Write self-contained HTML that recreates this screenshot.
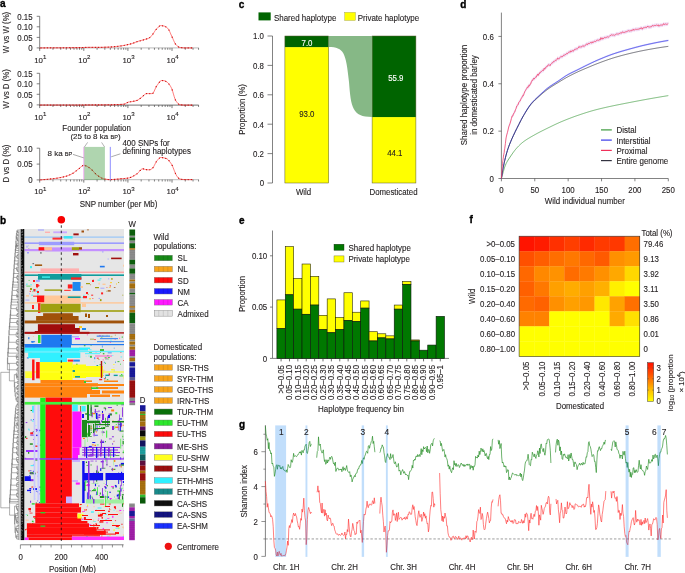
<!DOCTYPE html>
<html><head><meta charset="utf-8"><style>
html,body{margin:0;padding:0;background:#fff;width:685px;height:573px;overflow:hidden;}
svg{display:block;font-family:"Liberation Sans", sans-serif;will-change:transform;}
</style></head><body>
<svg width="685" height="573" viewBox="0 0 685 573">
<rect width="685" height="573" fill="#fff"/>
<text x="0" y="6.95" font-size="10" text-anchor="start" font-weight="bold" fill="#000" stroke="#000" stroke-width="0.35">a</text>
<line x1="39.7" y1="16.3" x2="39.7" y2="48.5" stroke="#4d4d4d" stroke-width="0.7"/>
<line x1="36.7" y1="16.3" x2="39.7" y2="16.3" stroke="#4d4d4d" stroke-width="0.7"/>
<text x="0" y="0" font-size="8.37" text-anchor="end" fill="#231f20" transform="translate(32.6 19.6) scale(0.94 1)" stroke="#231f20" stroke-width="0.12">0.15</text>
<line x1="36.7" y1="26.8" x2="39.7" y2="26.8" stroke="#4d4d4d" stroke-width="0.7"/>
<text x="0" y="0" font-size="8.37" text-anchor="end" fill="#231f20" transform="translate(32.6 30.1) scale(0.94 1)" stroke="#231f20" stroke-width="0.12">0.10</text>
<line x1="36.7" y1="37.4" x2="39.7" y2="37.4" stroke="#4d4d4d" stroke-width="0.7"/>
<text x="0" y="0" font-size="8.37" text-anchor="end" fill="#231f20" transform="translate(32.6 40.7) scale(0.94 1)" stroke="#231f20" stroke-width="0.12">0.05</text>
<line x1="36.7" y1="47.9" x2="39.7" y2="47.9" stroke="#4d4d4d" stroke-width="0.7"/>
<text x="0" y="0" font-size="8.37" text-anchor="end" fill="#231f20" transform="translate(32.6 51.2) scale(0.94 1)" stroke="#231f20" stroke-width="0.12">0</text>
<line x1="39.7" y1="47.9" x2="198.7" y2="47.9" stroke="#c8c8c8" stroke-width="1.3"/>
<line x1="39.7" y1="47.9" x2="39.7" y2="50.9" stroke="#333" stroke-width="0.65"/>
<line x1="52.98" y1="47.9" x2="52.98" y2="49.8" stroke="#333" stroke-width="0.6"/>
<line x1="60.74" y1="47.9" x2="60.74" y2="49.8" stroke="#333" stroke-width="0.6"/>
<line x1="66.25" y1="47.9" x2="66.25" y2="49.8" stroke="#333" stroke-width="0.6"/>
<line x1="70.52" y1="47.9" x2="70.52" y2="49.8" stroke="#333" stroke-width="0.6"/>
<line x1="74.02" y1="47.9" x2="74.02" y2="49.8" stroke="#333" stroke-width="0.6"/>
<line x1="76.97" y1="47.9" x2="76.97" y2="49.8" stroke="#333" stroke-width="0.6"/>
<line x1="79.53" y1="47.9" x2="79.53" y2="49.8" stroke="#333" stroke-width="0.6"/>
<line x1="81.78" y1="47.9" x2="81.78" y2="49.8" stroke="#333" stroke-width="0.6"/>
<line x1="83.8" y1="47.9" x2="83.8" y2="50.9" stroke="#333" stroke-width="0.65"/>
<line x1="97.08" y1="47.9" x2="97.08" y2="49.8" stroke="#333" stroke-width="0.6"/>
<line x1="104.84" y1="47.9" x2="104.84" y2="49.8" stroke="#333" stroke-width="0.6"/>
<line x1="110.35" y1="47.9" x2="110.35" y2="49.8" stroke="#333" stroke-width="0.6"/>
<line x1="114.62" y1="47.9" x2="114.62" y2="49.8" stroke="#333" stroke-width="0.6"/>
<line x1="118.12" y1="47.9" x2="118.12" y2="49.8" stroke="#333" stroke-width="0.6"/>
<line x1="121.07" y1="47.9" x2="121.07" y2="49.8" stroke="#333" stroke-width="0.6"/>
<line x1="123.63" y1="47.9" x2="123.63" y2="49.8" stroke="#333" stroke-width="0.6"/>
<line x1="125.88" y1="47.9" x2="125.88" y2="49.8" stroke="#333" stroke-width="0.6"/>
<line x1="127.9" y1="47.9" x2="127.9" y2="50.9" stroke="#333" stroke-width="0.65"/>
<line x1="141.18" y1="47.9" x2="141.18" y2="49.8" stroke="#333" stroke-width="0.6"/>
<line x1="148.94" y1="47.9" x2="148.94" y2="49.8" stroke="#333" stroke-width="0.6"/>
<line x1="154.45" y1="47.9" x2="154.45" y2="49.8" stroke="#333" stroke-width="0.6"/>
<line x1="158.72" y1="47.9" x2="158.72" y2="49.8" stroke="#333" stroke-width="0.6"/>
<line x1="162.22" y1="47.9" x2="162.22" y2="49.8" stroke="#333" stroke-width="0.6"/>
<line x1="165.17" y1="47.9" x2="165.17" y2="49.8" stroke="#333" stroke-width="0.6"/>
<line x1="167.73" y1="47.9" x2="167.73" y2="49.8" stroke="#333" stroke-width="0.6"/>
<line x1="169.98" y1="47.9" x2="169.98" y2="49.8" stroke="#333" stroke-width="0.6"/>
<line x1="172" y1="47.9" x2="172" y2="50.9" stroke="#333" stroke-width="0.65"/>
<line x1="185.28" y1="47.9" x2="185.28" y2="49.8" stroke="#333" stroke-width="0.6"/>
<line x1="193.04" y1="47.9" x2="193.04" y2="49.8" stroke="#333" stroke-width="0.6"/>
<line x1="198.55" y1="47.9" x2="198.55" y2="49.8" stroke="#333" stroke-width="0.6"/>
<text x="40.3" y="62.6" font-size="7.9" text-anchor="middle" fill="#231f20" stroke="#231f20" stroke-width="0.12">10<tspan font-size="6.1" dy="-3.3">1</tspan></text>
<text x="84.4" y="62.6" font-size="7.9" text-anchor="middle" fill="#231f20" stroke="#231f20" stroke-width="0.12">10<tspan font-size="6.1" dy="-3.3">2</tspan></text>
<text x="128.5" y="62.6" font-size="7.9" text-anchor="middle" fill="#231f20" stroke="#231f20" stroke-width="0.12">10<tspan font-size="6.1" dy="-3.3">3</tspan></text>
<text x="172.6" y="62.6" font-size="7.9" text-anchor="middle" fill="#231f20" stroke="#231f20" stroke-width="0.12">10<tspan font-size="6.1" dy="-3.3">4</tspan></text>
<text x="0" y="0" font-size="8.37" text-anchor="middle" fill="#231f20" transform="translate(8.8 32.5) rotate(-90) scale(0.94 1)" stroke="#231f20" stroke-width="0.12">W vs W (%)</text>
<path d="M39.7 47.9 L40.2 47.9 L40.7 47.9 L41.2 47.9 L41.7 47.89 L42.2 47.89 L42.7 47.89 L43.2 47.89 L43.7 47.89 L44.2 47.89 L44.7 47.88 L45.2 47.88 L45.7 47.88 L46.2 47.88 L46.7 47.88 L47.2 47.87 L47.7 47.87 L48.2 47.87 L48.7 47.87 L49.2 47.86 L49.7 47.86 L50.2 47.86 L50.7 47.86 L51.2 47.85 L51.7 47.85 L52.2 47.85 L52.7 47.85 L53.2 47.84 L53.7 47.84 L54.2 47.84 L54.7 47.83 L55.2 47.83 L55.7 47.83 L56.2 47.82 L56.7 47.82 L57.2 47.82 L57.7 47.81 L58.2 47.81 L58.7 47.81 L59.2 47.81 L59.7 47.8 L60.2 47.8 L60.7 47.8 L61.2 47.79 L61.7 47.79 L62.2 47.79 L62.7 47.78 L63.2 47.78 L63.7 47.77 L64.2 47.77 L64.7 47.77 L65.2 47.76 L65.7 47.76 L66.2 47.76 L66.7 47.75 L67.2 47.75 L67.7 47.74 L68.2 47.74 L68.7 47.74 L69.2 47.73 L69.7 47.73 L70.2 47.72 L70.7 47.72 L71.2 47.71 L71.7 47.71 L72.2 47.7 L72.7 47.7 L73.2 47.69 L73.7 47.69 L74.2 47.68 L74.7 47.67 L75.2 47.67 L75.7 47.66 L76.2 47.65 L76.7 47.65 L77.2 47.64 L77.7 47.63 L78.2 47.63 L78.7 47.62 L79.2 47.61 L79.7 47.6 L80.2 47.6 L80.7 47.59 L81.2 47.57 L81.7 47.56 L82.2 47.54 L82.7 47.52 L83.2 47.5 L83.7 47.48 L84.2 47.46 L84.7 47.44 L85.2 47.42 L85.7 47.4 L86.2 47.38 L86.7 47.36 L87.2 47.35 L87.7 47.33 L88.2 47.32 L88.7 47.31 L89.2 47.3 L89.7 47.3 L90.2 47.3 L90.7 47.3 L91.2 47.3 L91.7 47.3 L92.2 47.3 L92.7 47.3 L93.2 47.3 L93.7 47.3 L94.2 47.3 L94.7 47.3 L95.2 47.3 L95.7 47.3 L96.2 47.3 L96.7 47.3 L97.2 47.3 L97.7 47.3 L98.2 47.3 L98.7 47.3 L99.2 47.3 L99.7 47.3 L100.2 47.3 L100.7 47.3 L101.2 47.29 L101.7 47.29 L102.2 47.28 L102.7 47.27 L103.2 47.26 L103.7 47.25 L104.2 47.23 L104.7 47.22 L105.2 47.2 L105.7 47.18 L106.2 47.16 L106.7 47.14 L107.2 47.12 L107.7 47.1 L108.2 47.08 L108.7 47.06 L109.2 47.04 L109.7 47.01 L110.2 46.99 L110.7 46.96 L111.2 46.94 L111.7 46.9 L112.2 46.87 L112.7 46.83 L113.2 46.79 L113.7 46.74 L114.2 46.7 L114.7 46.65 L115.2 46.6 L115.7 46.54 L116.2 46.49 L116.7 46.43 L117.2 46.37 L117.7 46.31 L118.2 46.25 L118.7 46.19 L119.2 46.13 L119.7 46.06 L120.2 45.99 L120.7 45.93 L121.2 45.86 L121.7 45.79 L122.2 45.71 L122.7 45.63 L123.2 45.55 L123.7 45.46 L124.2 45.37 L124.7 45.28 L125.2 45.18 L125.7 45.08 L126.2 44.98 L126.7 44.87 L127.2 44.76 L127.7 44.65 L128.2 44.54 L128.7 44.42 L129.2 44.3 L129.7 44.18 L130.2 44.05 L130.7 43.92 L131.2 43.78 L131.7 43.63 L132.2 43.47 L132.7 43.3 L133.2 43.12 L133.7 42.94 L134.2 42.75 L134.7 42.57 L135.2 42.38 L135.7 42.19 L136.2 42.01 L136.7 41.83 L137.2 41.66 L137.7 41.5 L138.2 41.34 L138.7 41.19 L139.2 41.04 L139.7 40.9 L140.2 40.76 L140.7 40.62 L141.2 40.49 L141.7 40.35 L142.2 40.21 L142.7 40.08 L143.2 39.94 L143.7 39.79 L144.2 39.65 L144.7 39.49 L145.2 39.34 L145.7 39.19 L146.2 39.05 L146.7 38.9 L147.2 38.75 L147.7 38.59 L148.2 38.41 L148.7 38.2 L149.2 37.95 L149.7 37.64 L150.2 37.21 L150.7 36.7 L151.2 36.13 L151.7 35.55 L152.2 34.97 L152.7 34.33 L153.2 33.63 L153.7 32.89 L154.2 32.13 L154.7 31.37 L155.2 30.62 L155.7 29.92 L156.2 29.27 L156.7 28.7 L157.2 28.2 L157.7 27.69 L158.2 27.17 L158.7 26.68 L159.2 26.25 L159.7 25.91 L160.2 25.68 L160.7 25.6 L161.2 25.61 L161.7 25.65 L162.2 25.71 L162.7 25.79 L163.2 25.89 L163.7 26 L164.2 26.12 L164.7 26.26 L165.2 26.45 L165.7 26.71 L166.2 27.04 L166.7 27.41 L167.2 27.84 L167.7 28.3 L168.2 28.84 L168.7 29.58 L169.2 30.5 L169.7 31.54 L170.2 32.68 L170.7 33.85 L171.2 35.03 L171.7 36.16 L172.2 37.2 L172.7 38.28 L173.2 39.42 L173.7 40.57 L174.2 41.68 L174.7 42.72 L175.2 43.63 L175.7 44.37 L176.2 44.92 L176.7 45.43 L177.2 45.91 L177.7 46.35 L178.2 46.73 L178.7 47.03 L179.2 47.26 L179.7 47.4 L180.2 47.48 L180.7 47.56 L181.2 47.63 L181.7 47.7 L182.2 47.75 L182.7 47.8 L183.2 47.84 L183.7 47.87 L184.2 47.89 L184.7 47.9 L185.2 47.9 L185.7 47.9 L186.2 47.9 L186.7 47.9 L187.2 47.9 L187.7 47.9 L188.2 47.9 L188.7 47.9 L189.2 47.9 L189.7 47.9 L190.2 47.9 L190.7 47.9 L191.2 47.9 L191.7 47.9 L192.2 47.9 L192.7 47.9" fill="none" stroke="#ff2020" stroke-width="0.6" stroke-linejoin="round"/>
<g fill="#c80000"><circle cx="41" cy="47.9" r="0.62"/><circle cx="44.2" cy="47.89" r="0.62"/><circle cx="47.4" cy="47.87" r="0.62"/><circle cx="50.6" cy="47.86" r="0.62"/><circle cx="53.8" cy="47.84" r="0.62"/><circle cx="57" cy="47.82" r="0.62"/><circle cx="60.2" cy="47.8" r="0.62"/><circle cx="63.4" cy="47.78" r="0.62"/><circle cx="66.6" cy="47.75" r="0.62"/><circle cx="69.8" cy="47.73" r="0.62"/><circle cx="73" cy="47.69" r="0.62"/><circle cx="76.2" cy="47.65" r="0.62"/><circle cx="79.4" cy="47.61" r="0.62"/><circle cx="82.6" cy="47.53" r="0.62"/><circle cx="85.8" cy="47.4" r="0.62"/><circle cx="89" cy="47.31" r="0.62"/><circle cx="92.2" cy="47.3" r="0.62"/><circle cx="95.4" cy="47.3" r="0.62"/><circle cx="98.6" cy="47.3" r="0.62"/><circle cx="101.8" cy="47.29" r="0.62"/><circle cx="105" cy="47.21" r="0.62"/><circle cx="108.2" cy="47.08" r="0.62"/><circle cx="111.4" cy="46.92" r="0.62"/><circle cx="114.6" cy="46.66" r="0.62"/><circle cx="117.8" cy="46.3" r="0.62"/><circle cx="121" cy="45.89" r="0.62"/><circle cx="124.2" cy="45.37" r="0.62"/><circle cx="127.4" cy="44.72" r="0.62"/><circle cx="130.6" cy="43.95" r="0.62"/><circle cx="133.8" cy="42.9" r="0.62"/><circle cx="137" cy="41.73" r="0.62"/><circle cx="140.2" cy="40.76" r="0.62"/><circle cx="143.4" cy="39.88" r="0.62"/><circle cx="146.6" cy="38.93" r="0.62"/><circle cx="149.8" cy="37.56" r="0.62"/><circle cx="153" cy="33.91" r="0.62"/><circle cx="156.2" cy="29.27" r="0.62"/><circle cx="159.4" cy="26.1" r="0.62"/><circle cx="162.6" cy="25.78" r="0.62"/><circle cx="165.8" cy="26.77" r="0.62"/><circle cx="169" cy="30.11" r="0.62"/><circle cx="172.2" cy="37.2" r="0.62"/><circle cx="175.4" cy="43.95" r="0.62"/><circle cx="178.6" cy="46.98" r="0.62"/><circle cx="181.8" cy="47.71" r="0.62"/><circle cx="185" cy="47.9" r="0.62"/><circle cx="188.2" cy="47.9" r="0.62"/><circle cx="191.4" cy="47.9" r="0.62"/></g>
<line x1="39.7" y1="73.3" x2="39.7" y2="105.7" stroke="#4d4d4d" stroke-width="0.7"/>
<line x1="36.7" y1="73.3" x2="39.7" y2="73.3" stroke="#4d4d4d" stroke-width="0.7"/>
<text x="0" y="0" font-size="8.37" text-anchor="end" fill="#231f20" transform="translate(32.6 76.6) scale(0.94 1)" stroke="#231f20" stroke-width="0.12">0.15</text>
<line x1="36.7" y1="83.8" x2="39.7" y2="83.8" stroke="#4d4d4d" stroke-width="0.7"/>
<text x="0" y="0" font-size="8.37" text-anchor="end" fill="#231f20" transform="translate(32.6 87.1) scale(0.94 1)" stroke="#231f20" stroke-width="0.12">0.10</text>
<line x1="36.7" y1="94.3" x2="39.7" y2="94.3" stroke="#4d4d4d" stroke-width="0.7"/>
<text x="0" y="0" font-size="8.37" text-anchor="end" fill="#231f20" transform="translate(32.6 97.6) scale(0.94 1)" stroke="#231f20" stroke-width="0.12">0.05</text>
<line x1="36.7" y1="104.9" x2="39.7" y2="104.9" stroke="#4d4d4d" stroke-width="0.7"/>
<text x="0" y="0" font-size="8.37" text-anchor="end" fill="#231f20" transform="translate(32.6 108.2) scale(0.94 1)" stroke="#231f20" stroke-width="0.12">0</text>
<line x1="39.7" y1="105.1" x2="198.7" y2="105.1" stroke="#333" stroke-width="0.7"/>
<line x1="39.7" y1="105.1" x2="39.7" y2="108.1" stroke="#333" stroke-width="0.65"/>
<line x1="52.98" y1="105.1" x2="52.98" y2="107" stroke="#333" stroke-width="0.6"/>
<line x1="60.74" y1="105.1" x2="60.74" y2="107" stroke="#333" stroke-width="0.6"/>
<line x1="66.25" y1="105.1" x2="66.25" y2="107" stroke="#333" stroke-width="0.6"/>
<line x1="70.52" y1="105.1" x2="70.52" y2="107" stroke="#333" stroke-width="0.6"/>
<line x1="74.02" y1="105.1" x2="74.02" y2="107" stroke="#333" stroke-width="0.6"/>
<line x1="76.97" y1="105.1" x2="76.97" y2="107" stroke="#333" stroke-width="0.6"/>
<line x1="79.53" y1="105.1" x2="79.53" y2="107" stroke="#333" stroke-width="0.6"/>
<line x1="81.78" y1="105.1" x2="81.78" y2="107" stroke="#333" stroke-width="0.6"/>
<line x1="83.8" y1="105.1" x2="83.8" y2="108.1" stroke="#333" stroke-width="0.65"/>
<line x1="97.08" y1="105.1" x2="97.08" y2="107" stroke="#333" stroke-width="0.6"/>
<line x1="104.84" y1="105.1" x2="104.84" y2="107" stroke="#333" stroke-width="0.6"/>
<line x1="110.35" y1="105.1" x2="110.35" y2="107" stroke="#333" stroke-width="0.6"/>
<line x1="114.62" y1="105.1" x2="114.62" y2="107" stroke="#333" stroke-width="0.6"/>
<line x1="118.12" y1="105.1" x2="118.12" y2="107" stroke="#333" stroke-width="0.6"/>
<line x1="121.07" y1="105.1" x2="121.07" y2="107" stroke="#333" stroke-width="0.6"/>
<line x1="123.63" y1="105.1" x2="123.63" y2="107" stroke="#333" stroke-width="0.6"/>
<line x1="125.88" y1="105.1" x2="125.88" y2="107" stroke="#333" stroke-width="0.6"/>
<line x1="127.9" y1="105.1" x2="127.9" y2="108.1" stroke="#333" stroke-width="0.65"/>
<line x1="141.18" y1="105.1" x2="141.18" y2="107" stroke="#333" stroke-width="0.6"/>
<line x1="148.94" y1="105.1" x2="148.94" y2="107" stroke="#333" stroke-width="0.6"/>
<line x1="154.45" y1="105.1" x2="154.45" y2="107" stroke="#333" stroke-width="0.6"/>
<line x1="158.72" y1="105.1" x2="158.72" y2="107" stroke="#333" stroke-width="0.6"/>
<line x1="162.22" y1="105.1" x2="162.22" y2="107" stroke="#333" stroke-width="0.6"/>
<line x1="165.17" y1="105.1" x2="165.17" y2="107" stroke="#333" stroke-width="0.6"/>
<line x1="167.73" y1="105.1" x2="167.73" y2="107" stroke="#333" stroke-width="0.6"/>
<line x1="169.98" y1="105.1" x2="169.98" y2="107" stroke="#333" stroke-width="0.6"/>
<line x1="172" y1="105.1" x2="172" y2="108.1" stroke="#333" stroke-width="0.65"/>
<line x1="185.28" y1="105.1" x2="185.28" y2="107" stroke="#333" stroke-width="0.6"/>
<line x1="193.04" y1="105.1" x2="193.04" y2="107" stroke="#333" stroke-width="0.6"/>
<line x1="198.55" y1="105.1" x2="198.55" y2="107" stroke="#333" stroke-width="0.6"/>
<text x="40.3" y="119.5" font-size="7.9" text-anchor="middle" fill="#231f20" stroke="#231f20" stroke-width="0.12">10<tspan font-size="6.1" dy="-3.3">1</tspan></text>
<text x="84.4" y="119.5" font-size="7.9" text-anchor="middle" fill="#231f20" stroke="#231f20" stroke-width="0.12">10<tspan font-size="6.1" dy="-3.3">2</tspan></text>
<text x="128.5" y="119.5" font-size="7.9" text-anchor="middle" fill="#231f20" stroke="#231f20" stroke-width="0.12">10<tspan font-size="6.1" dy="-3.3">3</tspan></text>
<text x="172.6" y="119.5" font-size="7.9" text-anchor="middle" fill="#231f20" stroke="#231f20" stroke-width="0.12">10<tspan font-size="6.1" dy="-3.3">4</tspan></text>
<text x="0" y="0" font-size="8.37" text-anchor="middle" fill="#231f20" transform="translate(8.8 89) rotate(-90) scale(0.94 1)" stroke="#231f20" stroke-width="0.12">W vs D (%)</text>
<path d="M39.7 105 L40.2 105 L40.7 105 L41.2 105 L41.7 105 L42.2 105 L42.7 105 L43.2 105 L43.7 105 L44.2 105 L44.7 105 L45.2 105 L45.7 105 L46.2 105 L46.7 105 L47.2 105 L47.7 105 L48.2 105 L48.7 105 L49.2 105 L49.7 105 L50.2 105 L50.7 105 L51.2 105 L51.7 105 L52.2 105 L52.7 105 L53.2 105 L53.7 105 L54.2 105 L54.7 105 L55.2 105 L55.7 105 L56.2 105 L56.7 105 L57.2 105 L57.7 105 L58.2 105 L58.7 105 L59.2 105 L59.7 105 L60.2 105 L60.7 105 L61.2 105 L61.7 105 L62.2 105 L62.7 105 L63.2 105 L63.7 105 L64.2 105 L64.7 105 L65.2 105 L65.7 105 L66.2 105 L66.7 105 L67.2 105 L67.7 105 L68.2 105 L68.7 105 L69.2 105 L69.7 105 L70.2 105 L70.7 105 L71.2 105 L71.7 105 L72.2 105 L72.7 105 L73.2 105 L73.7 105 L74.2 105 L74.7 105 L75.2 105 L75.7 105 L76.2 105 L76.7 105 L77.2 105 L77.7 105 L78.2 105 L78.7 105 L79.2 105 L79.7 105 L80.2 105 L80.7 105 L81.2 105 L81.7 105 L82.2 105 L82.7 105 L83.2 105 L83.7 105 L84.2 105 L84.7 104.99 L85.2 104.99 L85.7 104.99 L86.2 104.99 L86.7 104.99 L87.2 104.99 L87.7 104.99 L88.2 104.98 L88.7 104.98 L89.2 104.98 L89.7 104.98 L90.2 104.98 L90.7 104.97 L91.2 104.97 L91.7 104.97 L92.2 104.97 L92.7 104.96 L93.2 104.96 L93.7 104.96 L94.2 104.95 L94.7 104.95 L95.2 104.95 L95.7 104.94 L96.2 104.94 L96.7 104.94 L97.2 104.93 L97.7 104.93 L98.2 104.92 L98.7 104.92 L99.2 104.92 L99.7 104.91 L100.2 104.91 L100.7 104.9 L101.2 104.9 L101.7 104.89 L102.2 104.89 L102.7 104.88 L103.2 104.88 L103.7 104.87 L104.2 104.87 L104.7 104.86 L105.2 104.86 L105.7 104.85 L106.2 104.85 L106.7 104.84 L107.2 104.83 L107.7 104.83 L108.2 104.82 L108.7 104.82 L109.2 104.81 L109.7 104.8 L110.2 104.8 L110.7 104.79 L111.2 104.78 L111.7 104.77 L112.2 104.77 L112.7 104.76 L113.2 104.75 L113.7 104.73 L114.2 104.72 L114.7 104.71 L115.2 104.69 L115.7 104.68 L116.2 104.66 L116.7 104.64 L117.2 104.62 L117.7 104.6 L118.2 104.58 L118.7 104.55 L119.2 104.53 L119.7 104.5 L120.2 104.47 L120.7 104.43 L121.2 104.4 L121.7 104.37 L122.2 104.33 L122.7 104.29 L123.2 104.24 L123.7 104.2 L124.2 104.11 L124.7 103.94 L125.2 103.72 L125.7 103.46 L126.2 103.17 L126.7 102.89 L127.2 102.61 L127.7 102.37 L128.2 102.18 L128.7 102.06 L129.2 101.96 L129.7 101.88 L130.2 101.8 L130.7 101.74 L131.2 101.67 L131.7 101.61 L132.2 101.54 L132.7 101.46 L133.2 101.36 L133.7 101.26 L134.2 101.16 L134.7 101.05 L135.2 100.94 L135.7 100.81 L136.2 100.66 L136.7 100.5 L137.2 100.32 L137.7 100.09 L138.2 99.81 L138.7 99.5 L139.2 99.14 L139.7 98.77 L140.2 98.38 L140.7 97.99 L141.2 97.6 L141.7 97.22 L142.2 96.85 L142.7 96.42 L143.2 95.94 L143.7 95.44 L144.2 94.94 L144.7 94.49 L145.2 94.1 L145.7 93.8 L146.2 93.63 L146.7 93.6 L147.2 93.6 L147.7 93.6 L148.2 93.6 L148.7 93.6 L149.2 93.6 L149.7 93.6 L150.2 93.6 L150.7 93.6 L151.2 93.6 L151.7 93.6 L152.2 93.6 L152.7 93.41 L153.2 92.89 L153.7 92.1 L154.2 91.13 L154.7 90.03 L155.2 88.89 L155.7 87.77 L156.2 86.74 L156.7 85.88 L157.2 85.2 L157.7 84.49 L158.2 83.78 L158.7 83.07 L159.2 82.39 L159.7 81.78 L160.2 81.26 L160.7 80.86 L161.2 80.59 L161.7 80.5 L162.2 80.51 L162.7 80.55 L163.2 80.6 L163.7 80.67 L164.2 80.75 L164.7 80.84 L165.2 81.01 L165.7 81.25 L166.2 81.54 L166.7 81.88 L167.2 82.25 L167.7 82.65 L168.2 83.13 L168.7 83.69 L169.2 84.32 L169.7 85.03 L170.2 85.8 L170.7 86.62 L171.2 87.5 L171.7 88.57 L172.2 89.92 L172.7 91.48 L173.2 93.15 L173.7 94.87 L174.2 96.54 L174.7 98.08 L175.2 99.43 L175.7 100.48 L176.2 101.23 L176.7 101.93 L177.2 102.59 L177.7 103.19 L178.2 103.71 L178.7 104.13 L179.2 104.43 L179.7 104.6 L180.2 104.69 L180.7 104.77 L181.2 104.84 L181.7 104.9 L182.2 104.95 L182.7 105 L183.2 105.04 L183.7 105.07 L184.2 105.09 L184.7 105.1 L185.2 105.1 L185.7 105.1 L186.2 105.1 L186.7 105.1 L187.2 105.1 L187.7 105.1 L188.2 105.1 L188.7 105.1 L189.2 105.1 L189.7 105.1 L190.2 105.1 L190.7 105.1 L191.2 105.1 L191.7 105.1 L192.2 105.1 L192.7 105.1" fill="none" stroke="#ff2020" stroke-width="0.6" stroke-linejoin="round"/>
<g fill="#c80000"><circle cx="41" cy="105" r="0.62"/><circle cx="44.2" cy="105" r="0.62"/><circle cx="47.4" cy="105" r="0.62"/><circle cx="50.6" cy="105" r="0.62"/><circle cx="53.8" cy="105" r="0.62"/><circle cx="57" cy="105" r="0.62"/><circle cx="60.2" cy="105" r="0.62"/><circle cx="63.4" cy="105" r="0.62"/><circle cx="66.6" cy="105" r="0.62"/><circle cx="69.8" cy="105" r="0.62"/><circle cx="73" cy="105" r="0.62"/><circle cx="76.2" cy="105" r="0.62"/><circle cx="79.4" cy="105" r="0.62"/><circle cx="82.6" cy="105" r="0.62"/><circle cx="85.8" cy="104.99" r="0.62"/><circle cx="89" cy="104.98" r="0.62"/><circle cx="92.2" cy="104.97" r="0.62"/><circle cx="95.4" cy="104.95" r="0.62"/><circle cx="98.6" cy="104.92" r="0.62"/><circle cx="101.8" cy="104.89" r="0.62"/><circle cx="105" cy="104.86" r="0.62"/><circle cx="108.2" cy="104.82" r="0.62"/><circle cx="111.4" cy="104.78" r="0.62"/><circle cx="114.6" cy="104.71" r="0.62"/><circle cx="117.8" cy="104.59" r="0.62"/><circle cx="121" cy="104.41" r="0.62"/><circle cx="124.2" cy="104.11" r="0.62"/><circle cx="127.4" cy="102.51" r="0.62"/><circle cx="130.6" cy="101.75" r="0.62"/><circle cx="133.8" cy="101.24" r="0.62"/><circle cx="137" cy="100.4" r="0.62"/><circle cx="140.2" cy="98.38" r="0.62"/><circle cx="143.4" cy="95.74" r="0.62"/><circle cx="146.6" cy="93.6" r="0.62"/><circle cx="149.8" cy="93.6" r="0.62"/><circle cx="153" cy="93.13" r="0.62"/><circle cx="156.2" cy="86.74" r="0.62"/><circle cx="159.4" cy="82.14" r="0.62"/><circle cx="162.6" cy="80.54" r="0.62"/><circle cx="165.8" cy="81.3" r="0.62"/><circle cx="169" cy="84.06" r="0.62"/><circle cx="172.2" cy="89.92" r="0.62"/><circle cx="175.4" cy="99.89" r="0.62"/><circle cx="178.6" cy="104.06" r="0.62"/><circle cx="181.8" cy="104.91" r="0.62"/><circle cx="185" cy="105.1" r="0.62"/><circle cx="188.2" cy="105.1" r="0.62"/><circle cx="191.4" cy="105.1" r="0.62"/></g>
<line x1="39.7" y1="148.2" x2="39.7" y2="180.2" stroke="#4d4d4d" stroke-width="0.7"/>
<line x1="36.7" y1="148.2" x2="39.7" y2="148.2" stroke="#4d4d4d" stroke-width="0.7"/>
<text x="0" y="0" font-size="8.37" text-anchor="end" fill="#231f20" transform="translate(32.6 151.5) scale(0.94 1)" stroke="#231f20" stroke-width="0.12">0.10</text>
<line x1="36.7" y1="164.1" x2="39.7" y2="164.1" stroke="#4d4d4d" stroke-width="0.7"/>
<text x="0" y="0" font-size="8.37" text-anchor="end" fill="#231f20" transform="translate(32.6 167.4) scale(0.94 1)" stroke="#231f20" stroke-width="0.12">0.05</text>
<line x1="36.7" y1="179.9" x2="39.7" y2="179.9" stroke="#4d4d4d" stroke-width="0.7"/>
<text x="0" y="0" font-size="8.37" text-anchor="end" fill="#231f20" transform="translate(32.6 183.2) scale(0.94 1)" stroke="#231f20" stroke-width="0.12">0</text>
<line x1="39.7" y1="179.6" x2="198.7" y2="179.6" stroke="#c8c8c8" stroke-width="1.3"/>
<line x1="39.7" y1="179.6" x2="39.7" y2="182.6" stroke="#333" stroke-width="0.65"/>
<line x1="52.98" y1="179.6" x2="52.98" y2="181.5" stroke="#333" stroke-width="0.6"/>
<line x1="60.74" y1="179.6" x2="60.74" y2="181.5" stroke="#333" stroke-width="0.6"/>
<line x1="66.25" y1="179.6" x2="66.25" y2="181.5" stroke="#333" stroke-width="0.6"/>
<line x1="70.52" y1="179.6" x2="70.52" y2="181.5" stroke="#333" stroke-width="0.6"/>
<line x1="74.02" y1="179.6" x2="74.02" y2="181.5" stroke="#333" stroke-width="0.6"/>
<line x1="76.97" y1="179.6" x2="76.97" y2="181.5" stroke="#333" stroke-width="0.6"/>
<line x1="79.53" y1="179.6" x2="79.53" y2="181.5" stroke="#333" stroke-width="0.6"/>
<line x1="81.78" y1="179.6" x2="81.78" y2="181.5" stroke="#333" stroke-width="0.6"/>
<line x1="83.8" y1="179.6" x2="83.8" y2="182.6" stroke="#333" stroke-width="0.65"/>
<line x1="97.08" y1="179.6" x2="97.08" y2="181.5" stroke="#333" stroke-width="0.6"/>
<line x1="104.84" y1="179.6" x2="104.84" y2="181.5" stroke="#333" stroke-width="0.6"/>
<line x1="110.35" y1="179.6" x2="110.35" y2="181.5" stroke="#333" stroke-width="0.6"/>
<line x1="114.62" y1="179.6" x2="114.62" y2="181.5" stroke="#333" stroke-width="0.6"/>
<line x1="118.12" y1="179.6" x2="118.12" y2="181.5" stroke="#333" stroke-width="0.6"/>
<line x1="121.07" y1="179.6" x2="121.07" y2="181.5" stroke="#333" stroke-width="0.6"/>
<line x1="123.63" y1="179.6" x2="123.63" y2="181.5" stroke="#333" stroke-width="0.6"/>
<line x1="125.88" y1="179.6" x2="125.88" y2="181.5" stroke="#333" stroke-width="0.6"/>
<line x1="127.9" y1="179.6" x2="127.9" y2="182.6" stroke="#333" stroke-width="0.65"/>
<line x1="141.18" y1="179.6" x2="141.18" y2="181.5" stroke="#333" stroke-width="0.6"/>
<line x1="148.94" y1="179.6" x2="148.94" y2="181.5" stroke="#333" stroke-width="0.6"/>
<line x1="154.45" y1="179.6" x2="154.45" y2="181.5" stroke="#333" stroke-width="0.6"/>
<line x1="158.72" y1="179.6" x2="158.72" y2="181.5" stroke="#333" stroke-width="0.6"/>
<line x1="162.22" y1="179.6" x2="162.22" y2="181.5" stroke="#333" stroke-width="0.6"/>
<line x1="165.17" y1="179.6" x2="165.17" y2="181.5" stroke="#333" stroke-width="0.6"/>
<line x1="167.73" y1="179.6" x2="167.73" y2="181.5" stroke="#333" stroke-width="0.6"/>
<line x1="169.98" y1="179.6" x2="169.98" y2="181.5" stroke="#333" stroke-width="0.6"/>
<line x1="172" y1="179.6" x2="172" y2="182.6" stroke="#333" stroke-width="0.65"/>
<line x1="185.28" y1="179.6" x2="185.28" y2="181.5" stroke="#333" stroke-width="0.6"/>
<line x1="193.04" y1="179.6" x2="193.04" y2="181.5" stroke="#333" stroke-width="0.6"/>
<line x1="198.55" y1="179.6" x2="198.55" y2="181.5" stroke="#333" stroke-width="0.6"/>
<text x="40.3" y="194.4" font-size="7.9" text-anchor="middle" fill="#231f20" stroke="#231f20" stroke-width="0.12">10<tspan font-size="6.1" dy="-3.3">1</tspan></text>
<text x="84.4" y="194.4" font-size="7.9" text-anchor="middle" fill="#231f20" stroke="#231f20" stroke-width="0.12">10<tspan font-size="6.1" dy="-3.3">2</tspan></text>
<text x="128.5" y="194.4" font-size="7.9" text-anchor="middle" fill="#231f20" stroke="#231f20" stroke-width="0.12">10<tspan font-size="6.1" dy="-3.3">3</tspan></text>
<text x="172.6" y="194.4" font-size="7.9" text-anchor="middle" fill="#231f20" stroke="#231f20" stroke-width="0.12">10<tspan font-size="6.1" dy="-3.3">4</tspan></text>
<text x="0" y="0" font-size="8.37" text-anchor="middle" fill="#231f20" transform="translate(8.6 163.5) rotate(-90) scale(0.94 1)" stroke="#231f20" stroke-width="0.12">D vs D (%)</text>
<path d="M39.7 179.9 L40.2 179.86 L40.7 179.83 L41.2 179.79 L41.7 179.75 L42.2 179.71 L42.7 179.67 L43.2 179.63 L43.7 179.58 L44.2 179.54 L44.7 179.5 L45.2 179.45 L45.7 179.41 L46.2 179.36 L46.7 179.32 L47.2 179.27 L47.7 179.22 L48.2 179.18 L48.7 179.13 L49.2 179.08 L49.7 179.03 L50.2 178.98 L50.7 178.93 L51.2 178.88 L51.7 178.83 L52.2 178.78 L52.7 178.73 L53.2 178.67 L53.7 178.62 L54.2 178.56 L54.7 178.49 L55.2 178.43 L55.7 178.36 L56.2 178.29 L56.7 178.21 L57.2 178.13 L57.7 178.05 L58.2 177.97 L58.7 177.88 L59.2 177.79 L59.7 177.7 L60.2 177.6 L60.7 177.5 L61.2 177.4 L61.7 177.29 L62.2 177.18 L62.7 177.07 L63.2 176.95 L63.7 176.83 L64.2 176.71 L64.7 176.58 L65.2 176.45 L65.7 176.31 L66.2 176.16 L66.7 176 L67.2 175.83 L67.7 175.66 L68.2 175.47 L68.7 175.28 L69.2 175.08 L69.7 174.87 L70.2 174.66 L70.7 174.43 L71.2 174.2 L71.7 173.95 L72.2 173.7 L72.7 173.43 L73.2 173.12 L73.7 172.78 L74.2 172.42 L74.7 172.04 L75.2 171.65 L75.7 171.24 L76.2 170.83 L76.7 170.42 L77.2 170.01 L77.7 169.61 L78.2 169.22 L78.7 168.84 L79.2 168.48 L79.7 168.07 L80.2 167.62 L80.7 167.17 L81.2 166.73 L81.7 166.31 L82.2 165.94 L82.7 165.64 L83.2 165.42 L83.7 165.31 L84.2 165.32 L84.7 165.42 L85.2 165.59 L85.7 165.78 L86.2 165.98 L86.7 166.2 L87.2 166.44 L87.7 166.72 L88.2 167.02 L88.7 167.35 L89.2 167.69 L89.7 168.04 L90.2 168.4 L90.7 168.78 L91.2 169.18 L91.7 169.64 L92.2 170.14 L92.7 170.66 L93.2 171.21 L93.7 171.77 L94.2 172.33 L94.7 172.89 L95.2 173.43 L95.7 173.94 L96.2 174.43 L96.7 174.87 L97.2 175.26 L97.7 175.6 L98.2 175.94 L98.7 176.27 L99.2 176.59 L99.7 176.9 L100.2 177.2 L100.7 177.48 L101.2 177.75 L101.7 178 L102.2 178.22 L102.7 178.42 L103.2 178.59 L103.7 178.73 L104.2 178.84 L104.7 178.94 L105.2 179.04 L105.7 179.14 L106.2 179.23 L106.7 179.31 L107.2 179.39 L107.7 179.45 L108.2 179.51 L108.7 179.55 L109.2 179.58 L109.7 179.6 L110.2 179.6 L110.7 179.59 L111.2 179.58 L111.7 179.56 L112.2 179.53 L112.7 179.5 L113.2 179.46 L113.7 179.42 L114.2 179.37 L114.7 179.33 L115.2 179.28 L115.7 179.23 L116.2 179.17 L116.7 179.12 L117.2 179.07 L117.7 179.02 L118.2 178.97 L118.7 178.93 L119.2 178.88 L119.7 178.84 L120.2 178.8 L120.7 178.77 L121.2 178.73 L121.7 178.69 L122.2 178.66 L122.7 178.62 L123.2 178.58 L123.7 178.54 L124.2 178.5 L124.7 178.46 L125.2 178.41 L125.7 178.36 L126.2 178.31 L126.7 178.25 L127.2 178.19 L127.7 178.12 L128.2 178.05 L128.7 177.97 L129.2 177.86 L129.7 177.72 L130.2 177.56 L130.7 177.38 L131.2 177.17 L131.7 176.95 L132.2 176.7 L132.7 176.44 L133.2 176.16 L133.7 175.88 L134.2 175.58 L134.7 175.27 L135.2 174.96 L135.7 174.64 L136.2 174.32 L136.7 173.99 L137.2 173.66 L137.7 173.25 L138.2 172.75 L138.7 172.19 L139.2 171.61 L139.7 171.02 L140.2 170.45 L140.7 169.92 L141.2 169.47 L141.7 169.11 L142.2 168.88 L142.7 168.8 L143.2 168.84 L143.7 168.96 L144.2 169.11 L144.7 169.28 L145.2 169.44 L145.7 169.56 L146.2 169.62 L146.7 169.67 L147.2 169.71 L147.7 169.74 L148.2 169.77 L148.7 169.79 L149.2 169.8 L149.7 169.76 L150.2 169.63 L150.7 169.42 L151.2 169.15 L151.7 168.83 L152.2 168.5 L152.7 168.05 L153.2 167.39 L153.7 166.58 L154.2 165.66 L154.7 164.68 L155.2 163.69 L155.7 162.74 L156.2 161.87 L156.7 161.14 L157.2 160.55 L157.7 159.94 L158.2 159.34 L158.7 158.77 L159.2 158.26 L159.7 157.86 L160.2 157.6 L160.7 157.5 L161.2 157.51 L161.7 157.54 L162.2 157.59 L162.7 157.66 L163.2 157.74 L163.7 157.84 L164.2 157.96 L164.7 158.09 L165.2 158.23 L165.7 158.37 L166.2 158.53 L166.7 158.72 L167.2 159.01 L167.7 159.39 L168.2 159.85 L168.7 160.39 L169.2 160.98 L169.7 161.62 L170.2 162.3 L170.7 162.99 L171.2 163.7 L171.7 164.51 L172.2 165.48 L172.7 166.59 L173.2 167.8 L173.7 169.07 L174.2 170.36 L174.7 171.63 L175.2 172.85 L175.7 173.98 L176.2 174.98 L176.7 175.82 L177.2 176.5 L177.7 177.15 L178.2 177.76 L178.7 178.28 L179.2 178.68 L179.7 178.9 L180.2 179.02 L180.7 179.13 L181.2 179.23 L181.7 179.32 L182.2 179.4 L182.7 179.46 L183.2 179.51 L183.7 179.56 L184.2 179.58 L184.7 179.6 L185.2 179.6 L185.7 179.6 L186.2 179.6 L186.7 179.6 L187.2 179.6 L187.7 179.6 L188.2 179.6 L188.7 179.6 L189.2 179.6 L189.7 179.6 L190.2 179.6 L190.7 179.6 L191.2 179.6 L191.7 179.6 L192.2 179.6 L192.7 179.6" fill="none" stroke="#ff2020" stroke-width="0.6" stroke-linejoin="round"/>
<g fill="#c80000"><circle cx="41" cy="179.8" r="0.62"/><circle cx="44.2" cy="179.54" r="0.62"/><circle cx="47.4" cy="179.25" r="0.62"/><circle cx="50.6" cy="178.94" r="0.62"/><circle cx="53.8" cy="178.6" r="0.62"/><circle cx="57" cy="178.16" r="0.62"/><circle cx="60.2" cy="177.6" r="0.62"/><circle cx="63.4" cy="176.91" r="0.62"/><circle cx="66.6" cy="176.03" r="0.62"/><circle cx="69.8" cy="174.83" r="0.62"/><circle cx="73" cy="173.24" r="0.62"/><circle cx="76.2" cy="170.83" r="0.62"/><circle cx="79.4" cy="168.32" r="0.62"/><circle cx="82.6" cy="165.69" r="0.62"/><circle cx="85.8" cy="165.82" r="0.62"/><circle cx="89" cy="167.55" r="0.62"/><circle cx="92.2" cy="170.14" r="0.62"/><circle cx="95.4" cy="173.64" r="0.62"/><circle cx="98.6" cy="176.2" r="0.62"/><circle cx="101.8" cy="178.04" r="0.62"/><circle cx="105" cy="179.01" r="0.62"/><circle cx="108.2" cy="179.51" r="0.62"/><circle cx="111.4" cy="179.57" r="0.62"/><circle cx="114.6" cy="179.34" r="0.62"/><circle cx="117.8" cy="179.01" r="0.62"/><circle cx="121" cy="178.74" r="0.62"/><circle cx="124.2" cy="178.5" r="0.62"/><circle cx="127.4" cy="178.16" r="0.62"/><circle cx="130.6" cy="177.42" r="0.62"/><circle cx="133.8" cy="175.82" r="0.62"/><circle cx="137" cy="173.8" r="0.62"/><circle cx="140.2" cy="170.45" r="0.62"/><circle cx="143.4" cy="168.88" r="0.62"/><circle cx="146.6" cy="169.66" r="0.62"/><circle cx="149.8" cy="169.75" r="0.62"/><circle cx="153" cy="167.67" r="0.62"/><circle cx="156.2" cy="161.87" r="0.62"/><circle cx="159.4" cy="158.09" r="0.62"/><circle cx="162.6" cy="157.64" r="0.62"/><circle cx="165.8" cy="158.41" r="0.62"/><circle cx="169" cy="160.74" r="0.62"/><circle cx="172.2" cy="165.48" r="0.62"/><circle cx="175.4" cy="173.32" r="0.62"/><circle cx="178.6" cy="178.19" r="0.62"/><circle cx="181.8" cy="179.34" r="0.62"/><circle cx="185" cy="179.6" r="0.62"/><circle cx="188.2" cy="179.6" r="0.62"/><circle cx="191.4" cy="179.6" r="0.62"/></g>
<rect x="84" y="146.9" width="20.9" height="33" fill="#228b22" fill-opacity="0.36"/>
<line x1="83.8" y1="146.9" x2="83.8" y2="179.9" stroke="#eea0ee" stroke-width="0.9"/>
<line x1="110.3" y1="146.9" x2="110.3" y2="179.9" stroke="#8080ff" stroke-width="0.9"/>
<text x="0" y="0" font-size="8.48" text-anchor="middle" fill="#231f20" transform="translate(96.6 130.6) scale(0.94 1)" stroke="#231f20" stroke-width="0.12">Founder population</text>
<text x="95.5" y="139.2" font-size="8" stroke="#231f20" stroke-width="0.12" text-anchor="middle" fill="#231f20">(25 to 8 ka <tspan font-size="5.6">BP</tspan>)</text>
<line x1="84.4" y1="147" x2="87.6" y2="142.4" stroke="#666" stroke-width="0.5"/>
<line x1="104.6" y1="147" x2="101.6" y2="142.4" stroke="#666" stroke-width="0.5"/>
<text x="47.5" y="156.4" font-size="8" stroke="#231f20" stroke-width="0.12" fill="#231f20">8 ka <tspan font-size="5.6">BP</tspan></text>
<line x1="73" y1="154.4" x2="83.6" y2="157.8" stroke="#555" stroke-width="0.5"/>
<text x="0" y="0" font-size="8.48" text-anchor="start" fill="#231f20" transform="translate(122.4 146.2) scale(0.94 1)" stroke="#231f20" stroke-width="0.12">400 SNPs for</text>
<text x="0" y="0" font-size="8.48" text-anchor="start" fill="#231f20" transform="translate(122.4 154.4) scale(0.94 1)" stroke="#231f20" stroke-width="0.12">defining haplotypes</text>
<line x1="111.2" y1="156.8" x2="120.4" y2="153.8" stroke="#555" stroke-width="0.5"/>
<text x="0" y="0" font-size="8.48" text-anchor="middle" fill="#231f20" transform="translate(118.5 206.5) scale(0.94 1)" stroke="#231f20" stroke-width="0.12">SNP number (per Mb)</text>
<text x="238.8" y="7.55" font-size="10" text-anchor="start" font-weight="bold" fill="#000" stroke="#000" stroke-width="0.35">c</text>
<rect x="258.5" y="12.4" width="12.2" height="8" fill="#006400"/>
<text x="0" y="0" font-size="8.48" text-anchor="start" fill="#231f20" transform="translate(273.9 20.5) scale(0.94 1)" stroke="#231f20" stroke-width="0.12">Shared haplotype</text>
<rect x="344.8" y="12.4" width="10.6" height="8" fill="#ffff00" stroke="#9a9a40" stroke-width="0.4"/>
<text x="0" y="0" font-size="8.48" text-anchor="start" fill="#231f20" transform="translate(357.7 20.5) scale(0.94 1)" stroke="#231f20" stroke-width="0.12">Private haplotype</text>
<line x1="272.5" y1="36" x2="272.5" y2="183" stroke="#4d4d4d" stroke-width="0.7"/>
<line x1="267.5" y1="183" x2="272.5" y2="183" stroke="#4d4d4d" stroke-width="0.7"/>
<text x="0" y="0" font-size="8.37" text-anchor="end" fill="#231f20" transform="translate(264 186.3) scale(0.94 1)" stroke="#231f20" stroke-width="0.12">0</text>
<line x1="267.5" y1="153.6" x2="272.5" y2="153.6" stroke="#4d4d4d" stroke-width="0.7"/>
<text x="0" y="0" font-size="8.37" text-anchor="end" fill="#231f20" transform="translate(264 156.9) scale(0.94 1)" stroke="#231f20" stroke-width="0.12">0.2</text>
<line x1="267.5" y1="124.2" x2="272.5" y2="124.2" stroke="#4d4d4d" stroke-width="0.7"/>
<text x="0" y="0" font-size="8.37" text-anchor="end" fill="#231f20" transform="translate(264 127.5) scale(0.94 1)" stroke="#231f20" stroke-width="0.12">0.4</text>
<line x1="267.5" y1="94.8" x2="272.5" y2="94.8" stroke="#4d4d4d" stroke-width="0.7"/>
<text x="0" y="0" font-size="8.37" text-anchor="end" fill="#231f20" transform="translate(264 98.1) scale(0.94 1)" stroke="#231f20" stroke-width="0.12">0.6</text>
<line x1="267.5" y1="65.4" x2="272.5" y2="65.4" stroke="#4d4d4d" stroke-width="0.7"/>
<text x="0" y="0" font-size="8.37" text-anchor="end" fill="#231f20" transform="translate(264 68.7) scale(0.94 1)" stroke="#231f20" stroke-width="0.12">0.8</text>
<line x1="267.5" y1="36" x2="272.5" y2="36" stroke="#4d4d4d" stroke-width="0.7"/>
<text x="0" y="0" font-size="8.37" text-anchor="end" fill="#231f20" transform="translate(264 39.3) scale(0.94 1)" stroke="#231f20" stroke-width="0.12">1.0</text>
<text x="0" y="0" font-size="8.37" text-anchor="middle" fill="#231f20" transform="translate(245.4 109.5) rotate(-90) scale(0.94 1)" stroke="#231f20" stroke-width="0.12">Proportion (%)</text>
<rect x="284.9" y="47.1" width="43.8" height="135.9" fill="#ffff00"/>
<rect x="284.9" y="36" width="43.8" height="11.1" fill="#006400"/>
<rect x="372.1" y="117.07" width="43.8" height="65.93" fill="#ffff00"/>
<rect x="372.1" y="36" width="43.8" height="81.07" fill="#006400"/>
<rect x="284.9" y="36" width="43.8" height="147" fill="none" stroke="#5a5a30" stroke-width="0.5"/>
<rect x="372.1" y="36" width="43.8" height="147" fill="none" stroke="#5a5a30" stroke-width="0.5"/>
<path d="M328.7 36 L372.1 36 L372.1 117.07 C 352 117.07, 351 107.07, 349 82.08 C 346 53.1, 344 47.1, 328.7 47.1 Z" fill="#86b886"/>
<text x="0" y="0" font-size="8.37" text-anchor="middle" fill="#fff" transform="translate(307 45.7) scale(0.94 1)" stroke="#fff" stroke-width="0.12">7.0</text>
<text x="0" y="0" font-size="8.37" text-anchor="middle" fill="#231f20" transform="translate(306.8 117.1) scale(0.94 1)" stroke="#231f20" stroke-width="0.12">93.0</text>
<text x="0" y="0" font-size="8.37" text-anchor="middle" fill="#fff" transform="translate(395.8 81.1) scale(0.94 1)" stroke="#fff" stroke-width="0.12">55.9</text>
<text x="0" y="0" font-size="8.37" text-anchor="middle" fill="#231f20" transform="translate(394.8 155.9) scale(0.94 1)" stroke="#231f20" stroke-width="0.12">44.1</text>
<text x="0" y="0" font-size="8.37" text-anchor="middle" fill="#231f20" transform="translate(303.6 194.7) scale(0.94 1)" stroke="#231f20" stroke-width="0.12">Wild</text>
<text x="0" y="0" font-size="8.37" text-anchor="middle" fill="#231f20" transform="translate(393.5 194.7) scale(0.94 1)" stroke="#231f20" stroke-width="0.12">Domesticated</text>
<text x="460.2" y="7.55" font-size="10" text-anchor="start" font-weight="bold" fill="#000" stroke="#000" stroke-width="0.35">d</text>
<line x1="501.4" y1="12.6" x2="501.4" y2="178.5" stroke="#4d4d4d" stroke-width="0.7"/>
<line x1="501.4" y1="178.5" x2="668.3" y2="178.5" stroke="#4d4d4d" stroke-width="0.7"/>
<line x1="498.4" y1="178.5" x2="501.4" y2="178.5" stroke="#4d4d4d" stroke-width="0.7"/>
<text x="0" y="0" font-size="8.37" text-anchor="end" fill="#231f20" transform="translate(493.8 181.8) scale(0.94 1)" stroke="#231f20" stroke-width="0.12">0</text>
<line x1="498.4" y1="131.14" x2="501.4" y2="131.14" stroke="#4d4d4d" stroke-width="0.7"/>
<text x="0" y="0" font-size="8.37" text-anchor="end" fill="#231f20" transform="translate(493.8 134.44) scale(0.94 1)" stroke="#231f20" stroke-width="0.12">0.2</text>
<line x1="498.4" y1="83.78" x2="501.4" y2="83.78" stroke="#4d4d4d" stroke-width="0.7"/>
<text x="0" y="0" font-size="8.37" text-anchor="end" fill="#231f20" transform="translate(493.8 87.08) scale(0.94 1)" stroke="#231f20" stroke-width="0.12">0.4</text>
<line x1="498.4" y1="36.42" x2="501.4" y2="36.42" stroke="#4d4d4d" stroke-width="0.7"/>
<text x="0" y="0" font-size="8.37" text-anchor="end" fill="#231f20" transform="translate(493.8 39.72) scale(0.94 1)" stroke="#231f20" stroke-width="0.12">0.6</text>
<line x1="501.4" y1="178.5" x2="501.4" y2="181.3" stroke="#4d4d4d" stroke-width="0.7"/>
<text x="0" y="0" font-size="8.37" text-anchor="middle" fill="#231f20" transform="translate(501.4 193) scale(0.94 1)" stroke="#231f20" stroke-width="0.12">0</text>
<line x1="534.78" y1="178.5" x2="534.78" y2="181.3" stroke="#4d4d4d" stroke-width="0.7"/>
<text x="0" y="0" font-size="8.37" text-anchor="middle" fill="#231f20" transform="translate(534.78 193) scale(0.94 1)" stroke="#231f20" stroke-width="0.12">50</text>
<line x1="568.16" y1="178.5" x2="568.16" y2="181.3" stroke="#4d4d4d" stroke-width="0.7"/>
<text x="0" y="0" font-size="8.37" text-anchor="middle" fill="#231f20" transform="translate(568.16 193) scale(0.94 1)" stroke="#231f20" stroke-width="0.12">100</text>
<line x1="601.54" y1="178.5" x2="601.54" y2="181.3" stroke="#4d4d4d" stroke-width="0.7"/>
<text x="0" y="0" font-size="8.37" text-anchor="middle" fill="#231f20" transform="translate(601.54 193) scale(0.94 1)" stroke="#231f20" stroke-width="0.12">150</text>
<line x1="634.92" y1="178.5" x2="634.92" y2="181.3" stroke="#4d4d4d" stroke-width="0.7"/>
<text x="0" y="0" font-size="8.37" text-anchor="middle" fill="#231f20" transform="translate(634.92 193) scale(0.94 1)" stroke="#231f20" stroke-width="0.12">200</text>
<line x1="668.3" y1="178.5" x2="668.3" y2="181.3" stroke="#4d4d4d" stroke-width="0.7"/>
<text x="0" y="0" font-size="8.37" text-anchor="middle" fill="#231f20" transform="translate(668.3 193) scale(0.94 1)" stroke="#231f20" stroke-width="0.12">250</text>
<text x="0" y="0" font-size="8.48" text-anchor="middle" fill="#231f20" transform="translate(584.8 204.3) scale(0.94 1)" stroke="#231f20" stroke-width="0.12">Wild individual number</text>
<text x="0" y="0" font-size="8.48" text-anchor="middle" fill="#231f20" transform="translate(466.8 95) rotate(-90) scale(0.94 1)" stroke="#231f20" stroke-width="0.12">Shared haplotype proportion</text>
<text x="0" y="0" font-size="8.48" text-anchor="middle" fill="#231f20" transform="translate(476.5 95) rotate(-90) scale(0.94 1)" stroke="#231f20" stroke-width="0.12">in domesticated barley</text>
<path d="M501.4 178.5 L501.57 177.91 L501.73 177.31 L501.9 176.73 L502.07 176.14 L502.23 175.57 L502.4 175 L502.57 174.42 L502.74 173.84 L502.9 173.25 L503.07 172.66 L503.24 172.06 L503.4 171.46 L503.57 170.87 L503.74 170.28 L503.9 169.69 L504.07 169.12 L504.24 168.56 L504.4 168.01 L504.57 167.48 L504.74 166.97 L505.41 165.16 L506.07 163.69 L506.74 162.37 L507.41 161.16 L508.08 160.06 L508.74 159.02 L509.41 158.02 L510.08 157.04 L510.75 156.04 L511.41 155.05 L512.08 154.08 L512.75 153.12 L513.42 152.2 L514.08 151.3 L514.75 150.43 L515.42 149.59 L516.09 148.79 L516.75 148.03 L517.42 147.3 L518.09 146.59 L518.76 145.9 L519.43 145.24 L520.09 144.6 L520.76 143.99 L521.43 143.4 L522.1 142.83 L522.76 142.29 L523.43 141.78 L524.1 141.28 L524.77 140.8 L525.43 140.34 L526.1 139.89 L526.77 139.45 L527.44 139.02 L528.1 138.6 L528.77 138.2 L529.44 137.8 L530.11 137.4 L530.77 137.01 L531.44 136.63 L532.11 136.25 L532.78 135.87 L533.44 135.49 L534.11 135.12 L534.78 134.74 L535.45 134.37 L536.12 134 L536.78 133.64 L537.45 133.28 L538.12 132.92 L538.79 132.57 L539.45 132.22 L540.12 131.88 L540.79 131.53 L541.46 131.19 L542.12 130.86 L542.79 130.52 L543.46 130.19 L544.13 129.86 L544.79 129.53 L545.46 129.2 L546.13 128.87 L546.8 128.54 L547.46 128.22 L548.13 127.89 L548.8 127.56 L549.47 127.24 L550.13 126.91 L550.8 126.58 L551.47 126.26 L552.14 125.93 L552.81 125.61 L553.47 125.29 L554.14 124.97 L554.81 124.65 L555.48 124.34 L556.14 124.02 L556.81 123.71 L557.48 123.41 L558.15 123.11 L558.81 122.81 L559.48 122.51 L560.15 122.22 L560.82 121.93 L561.48 121.65 L562.15 121.37 L562.82 121.09 L563.49 120.81 L564.15 120.54 L564.82 120.26 L565.49 119.99 L566.16 119.72 L566.82 119.46 L567.49 119.19 L568.16 118.93 L568.83 118.67 L569.5 118.41 L570.16 118.15 L570.83 117.9 L571.5 117.65 L572.17 117.4 L572.83 117.15 L573.5 116.91 L574.17 116.66 L574.84 116.42 L575.5 116.18 L576.17 115.95 L576.84 115.71 L577.51 115.48 L578.17 115.25 L578.84 115.02 L579.51 114.8 L580.18 114.57 L580.84 114.35 L581.51 114.12 L582.18 113.9 L582.85 113.68 L583.51 113.46 L584.18 113.24 L584.85 113.03 L585.52 112.81 L586.19 112.6 L586.85 112.39 L587.52 112.18 L588.19 111.98 L588.86 111.77 L589.52 111.57 L590.19 111.37 L590.86 111.17 L591.53 110.98 L592.19 110.79 L592.86 110.6 L593.53 110.41 L594.2 110.23 L594.86 110.05 L595.53 109.87 L596.2 109.69 L596.87 109.52 L597.53 109.35 L598.2 109.18 L598.87 109.02 L599.54 108.85 L600.2 108.69 L600.87 108.53 L601.54 108.37 L602.21 108.21 L602.88 108.05 L603.54 107.9 L604.21 107.74 L604.88 107.59 L605.55 107.44 L606.21 107.29 L606.88 107.14 L607.55 106.99 L608.22 106.84 L608.88 106.7 L609.55 106.55 L610.22 106.41 L610.89 106.27 L611.55 106.13 L612.22 105.99 L612.89 105.85 L613.56 105.71 L614.22 105.57 L614.89 105.43 L615.56 105.29 L616.23 105.16 L616.89 105.02 L617.56 104.89 L618.23 104.75 L618.9 104.62 L619.57 104.49 L620.23 104.36 L620.9 104.22 L621.57 104.09 L622.24 103.96 L622.9 103.83 L623.57 103.7 L624.24 103.57 L624.91 103.44 L625.57 103.31 L626.24 103.18 L626.91 103.05 L627.58 102.92 L628.24 102.79 L628.91 102.66 L629.58 102.53 L630.25 102.4 L630.91 102.27 L631.58 102.14 L632.25 102.01 L632.92 101.88 L633.58 101.75 L634.25 101.62 L634.92 101.49 L635.59 101.37 L636.26 101.24 L636.92 101.11 L637.59 100.99 L638.26 100.86 L638.93 100.74 L639.59 100.61 L640.26 100.49 L640.93 100.36 L641.6 100.24 L642.26 100.11 L642.93 99.99 L643.6 99.87 L644.27 99.74 L644.93 99.62 L645.6 99.5 L646.27 99.38 L646.94 99.26 L647.6 99.14 L648.27 99.02 L648.94 98.9 L649.61 98.78 L650.27 98.66 L650.94 98.54 L651.61 98.42 L652.28 98.31 L652.95 98.19 L653.61 98.07 L654.28 97.96 L654.95 97.84 L655.62 97.72 L656.28 97.61 L656.95 97.5 L657.62 97.38 L658.29 97.27 L658.95 97.15 L659.62 97.04 L660.29 96.93 L660.96 96.82 L661.62 96.71 L662.29 96.6 L662.96 96.49 L663.63 96.38 L664.29 96.27 L664.96 96.16 L665.63 96.05 L666.3 95.94 L666.96 95.83 L667.63 95.73 L668.3 95.62" fill="none" stroke="#3c9a3c" stroke-width="0.7" stroke-linejoin="round"/>
<path d="M501.4 177.55 L501.57 176.45 L501.73 175.37 L501.9 174.3 L502.07 173.25 L502.23 172.22 L502.4 171.22 L502.57 170.24 L502.74 169.3 L502.9 168.38 L503.07 167.49 L503.24 166.63 L503.4 165.77 L503.57 164.94 L503.74 164.12 L503.9 163.31 L504.07 162.52 L504.24 161.75 L504.4 160.99 L504.57 160.25 L504.74 159.52 L505.41 156.74 L506.07 154.18 L506.74 151.79 L507.41 149.58 L508.08 147.52 L508.74 145.61 L509.41 143.84 L510.08 142.15 L510.75 140.53 L511.41 138.96 L512.08 137.45 L512.75 135.98 L513.42 134.54 L514.08 133.13 L514.75 131.72 L515.42 130.34 L516.09 128.98 L516.75 127.64 L517.42 126.31 L518.09 124.98 L518.76 123.65 L519.43 122.31 L520.09 120.97 L520.76 119.65 L521.43 118.35 L522.1 117.08 L522.76 115.86 L523.43 114.69 L524.1 113.54 L524.77 112.39 L525.43 111.26 L526.1 110.15 L526.77 109.06 L527.44 108 L528.1 106.97 L528.77 105.97 L529.44 105.01 L530.11 104.09 L530.77 103.22 L531.44 102.4 L532.11 101.62 L532.78 100.88 L533.44 100.16 L534.11 99.48 L534.78 98.81 L535.45 98.16 L536.12 97.53 L536.78 96.91 L537.45 96.29 L538.12 95.68 L538.79 95.06 L539.45 94.44 L540.12 93.81 L540.79 93.18 L541.46 92.55 L542.12 91.93 L542.79 91.31 L543.46 90.7 L544.13 90.1 L544.79 89.51 L545.46 88.94 L546.13 88.38 L546.8 87.83 L547.46 87.3 L548.13 86.79 L548.8 86.3 L549.47 85.82 L550.13 85.36 L550.8 84.9 L551.47 84.46 L552.14 84.02 L552.81 83.59 L553.47 83.17 L554.14 82.74 L554.81 82.32 L555.48 81.9 L556.14 81.47 L556.81 81.04 L557.48 80.6 L558.15 80.15 L558.81 79.7 L559.48 79.24 L560.15 78.77 L560.82 78.31 L561.48 77.84 L562.15 77.38 L562.82 76.92 L563.49 76.46 L564.15 76.01 L564.82 75.57 L565.49 75.13 L566.16 74.71 L566.82 74.3 L567.49 73.91 L568.16 73.53 L568.83 73.17 L569.5 72.81 L570.16 72.47 L570.83 72.13 L571.5 71.8 L572.17 71.47 L572.83 71.15 L573.5 70.83 L574.17 70.51 L574.84 70.19 L575.5 69.87 L576.17 69.55 L576.84 69.23 L577.51 68.89 L578.17 68.56 L578.84 68.22 L579.51 67.89 L580.18 67.55 L580.84 67.21 L581.51 66.88 L582.18 66.54 L582.85 66.2 L583.51 65.86 L584.18 65.53 L584.85 65.19 L585.52 64.86 L586.19 64.53 L586.85 64.2 L587.52 63.88 L588.19 63.56 L588.86 63.23 L589.52 62.91 L590.19 62.59 L590.86 62.27 L591.53 61.95 L592.19 61.63 L592.86 61.32 L593.53 61.01 L594.2 60.7 L594.86 60.4 L595.53 60.1 L596.2 59.8 L596.87 59.51 L597.53 59.22 L598.2 58.93 L598.87 58.65 L599.54 58.36 L600.2 58.08 L600.87 57.79 L601.54 57.51 L602.21 57.23 L602.88 56.95 L603.54 56.68 L604.21 56.41 L604.88 56.13 L605.55 55.87 L606.21 55.6 L606.88 55.34 L607.55 55.08 L608.22 54.82 L608.88 54.56 L609.55 54.31 L610.22 54.07 L610.89 53.82 L611.55 53.58 L612.22 53.34 L612.89 53.11 L613.56 52.88 L614.22 52.66 L614.89 52.43 L615.56 52.21 L616.23 52 L616.89 51.78 L617.56 51.57 L618.23 51.36 L618.9 51.16 L619.57 50.95 L620.23 50.75 L620.9 50.55 L621.57 50.35 L622.24 50.16 L622.9 49.96 L623.57 49.77 L624.24 49.58 L624.91 49.39 L625.57 49.2 L626.24 49.01 L626.91 48.82 L627.58 48.63 L628.24 48.45 L628.91 48.26 L629.58 48.08 L630.25 47.89 L630.91 47.71 L631.58 47.53 L632.25 47.34 L632.92 47.16 L633.58 46.98 L634.25 46.8 L634.92 46.62 L635.59 46.44 L636.26 46.26 L636.92 46.09 L637.59 45.91 L638.26 45.74 L638.93 45.56 L639.59 45.39 L640.26 45.22 L640.93 45.06 L641.6 44.89 L642.26 44.73 L642.93 44.57 L643.6 44.41 L644.27 44.25 L644.93 44.09 L645.6 43.94 L646.27 43.79 L646.94 43.64 L647.6 43.49 L648.27 43.35 L648.94 43.2 L649.61 43.06 L650.27 42.91 L650.94 42.77 L651.61 42.63 L652.28 42.49 L652.95 42.35 L653.61 42.21 L654.28 42.07 L654.95 41.94 L655.62 41.8 L656.28 41.67 L656.95 41.54 L657.62 41.4 L658.29 41.27 L658.95 41.15 L659.62 41.02 L660.29 40.89 L660.96 40.77 L661.62 40.64 L662.29 40.52 L662.96 40.4 L663.63 40.28 L664.29 40.17 L664.96 40.05 L665.63 39.94 L666.3 39.83 L666.96 39.71 L667.63 39.61 L668.3 39.5 L668.3 41.39 L667.63 41.5 L666.96 41.61 L666.3 41.72 L665.63 41.83 L664.96 41.95 L664.29 42.06 L663.63 42.18 L662.96 42.3 L662.29 42.42 L661.62 42.54 L660.96 42.66 L660.29 42.79 L659.62 42.91 L658.95 43.04 L658.29 43.17 L657.62 43.3 L656.95 43.43 L656.28 43.56 L655.62 43.7 L654.95 43.83 L654.28 43.97 L653.61 44.1 L652.95 44.24 L652.28 44.38 L651.61 44.52 L650.94 44.67 L650.27 44.81 L649.61 44.95 L648.94 45.1 L648.27 45.24 L647.6 45.39 L646.94 45.54 L646.27 45.68 L645.6 45.84 L644.93 45.99 L644.27 46.14 L643.6 46.3 L642.93 46.46 L642.26 46.62 L641.6 46.79 L640.93 46.95 L640.26 47.12 L639.59 47.29 L638.93 47.46 L638.26 47.63 L637.59 47.8 L636.92 47.98 L636.26 48.16 L635.59 48.33 L634.92 48.51 L634.25 48.69 L633.58 48.87 L632.92 49.06 L632.25 49.24 L631.58 49.42 L630.91 49.6 L630.25 49.79 L629.58 49.97 L628.91 50.16 L628.24 50.34 L627.58 50.53 L626.91 50.72 L626.24 50.9 L625.57 51.09 L624.91 51.28 L624.24 51.47 L623.57 51.66 L622.9 51.86 L622.24 52.05 L621.57 52.25 L620.9 52.45 L620.23 52.65 L619.57 52.85 L618.9 53.05 L618.23 53.26 L617.56 53.47 L616.89 53.68 L616.23 53.89 L615.56 54.11 L614.89 54.33 L614.22 54.55 L613.56 54.78 L612.89 55.01 L612.22 55.24 L611.55 55.47 L610.89 55.72 L610.22 55.96 L609.55 56.21 L608.88 56.46 L608.22 56.71 L607.55 56.97 L606.88 57.23 L606.21 57.49 L605.55 57.76 L604.88 58.03 L604.21 58.3 L603.54 58.57 L602.88 58.85 L602.21 59.13 L601.54 59.41 L600.87 59.69 L600.2 59.97 L599.54 60.26 L598.87 60.54 L598.2 60.83 L597.53 61.12 L596.87 61.4 L596.2 61.7 L595.53 61.99 L594.86 62.29 L594.2 62.6 L593.53 62.9 L592.86 63.21 L592.19 63.53 L591.53 63.85 L590.86 64.16 L590.19 64.48 L589.52 64.81 L588.86 65.13 L588.19 65.45 L587.52 65.77 L586.85 66.1 L586.19 66.43 L585.52 66.76 L584.85 67.09 L584.18 67.42 L583.51 67.76 L582.85 68.09 L582.18 68.43 L581.51 68.77 L580.84 69.11 L580.18 69.45 L579.51 69.78 L578.84 70.12 L578.17 70.45 L577.51 70.79 L576.84 71.12 L576.17 71.44 L575.5 71.77 L574.84 72.09 L574.17 72.4 L573.5 72.72 L572.83 73.04 L572.17 73.36 L571.5 73.69 L570.83 74.02 L570.16 74.36 L569.5 74.71 L568.83 75.06 L568.16 75.43 L567.49 75.81 L566.82 76.2 L566.16 76.61 L565.49 77.03 L564.82 77.46 L564.15 77.9 L563.49 78.35 L562.82 78.81 L562.15 79.27 L561.48 79.74 L560.82 80.2 L560.15 80.67 L559.48 81.13 L558.81 81.59 L558.15 82.05 L557.48 82.49 L556.81 82.93 L556.14 83.36 L555.48 83.79 L554.81 84.22 L554.14 84.64 L553.47 85.06 L552.81 85.49 L552.14 85.92 L551.47 86.36 L550.8 86.8 L550.13 87.25 L549.47 87.72 L548.8 88.19 L548.13 88.69 L547.46 89.2 L546.8 89.72 L546.13 90.27 L545.46 90.83 L544.79 91.41 L544.13 92 L543.46 92.6 L542.79 93.21 L542.12 93.83 L541.46 94.45 L540.79 95.07 L540.12 95.7 L539.45 96.33 L538.79 96.95 L538.12 97.57 L537.45 98.19 L536.78 98.8 L536.12 99.43 L535.45 100.06 L534.78 100.71 L534.11 101.37 L533.44 102.06 L532.78 102.77 L532.11 103.52 L531.44 104.3 L530.77 105.12 L530.11 105.99 L529.44 106.9 L528.77 107.86 L528.1 108.86 L527.44 109.89 L526.77 110.96 L526.1 112.05 L525.43 113.16 L524.77 114.29 L524.1 115.43 L523.43 116.59 L522.76 117.76 L522.1 118.98 L521.43 120.24 L520.76 121.54 L520.09 122.87 L519.43 124.2 L518.76 125.55 L518.09 126.88 L517.42 128.2 L516.75 129.53 L516.09 130.87 L515.42 132.23 L514.75 133.61 L514.08 135.02 L513.42 136.44 L512.75 137.87 L512.08 139.34 L511.41 140.85 L510.75 142.42 L510.08 144.05 L509.41 145.73 L508.74 147.51 L508.08 149.41 L507.41 151.47 L506.74 153.69 L506.07 156.07 L505.41 158.64 L504.74 161.41 L504.57 162.14 L504.4 162.88 L504.24 163.64 L504.07 164.42 L503.9 165.21 L503.74 166.01 L503.57 166.83 L503.4 167.67 L503.24 168.52 L503.07 169.39 L502.9 170.27 L502.74 171.19 L502.57 172.14 L502.4 173.12 L502.23 174.12 L502.07 175.15 L501.9 176.19 L501.73 177.26 L501.57 178.35 L501.4 179.45Z" fill="#d0d0f8" opacity="0.6"/>
<path d="M501.4 178.5 L501.57 177.4 L501.73 176.31 L501.9 175.25 L502.07 174.2 L502.23 173.17 L502.4 172.17 L502.57 171.19 L502.74 170.24 L502.9 169.33 L503.07 168.44 L503.24 167.57 L503.4 166.72 L503.57 165.89 L503.74 165.06 L503.9 164.26 L504.07 163.47 L504.24 162.7 L504.4 161.94 L504.57 161.19 L504.74 160.46 L505.41 157.69 L506.07 155.13 L506.74 152.74 L507.41 150.52 L508.08 148.46 L508.74 146.56 L509.41 144.78 L510.08 143.1 L510.75 141.47 L511.41 139.91 L512.08 138.39 L512.75 136.93 L513.42 135.49 L514.08 134.07 L514.75 132.67 L515.42 131.28 L516.09 129.93 L516.75 128.59 L517.42 127.26 L518.09 125.93 L518.76 124.6 L519.43 123.26 L520.09 121.92 L520.76 120.59 L521.43 119.29 L522.1 118.03 L522.76 116.81 L523.43 115.64 L524.1 114.49 L524.77 113.34 L525.43 112.21 L526.1 111.1 L526.77 110.01 L527.44 108.95 L528.1 107.91 L528.77 106.91 L529.44 105.96 L530.11 105.04 L530.77 104.17 L531.44 103.35 L532.11 102.57 L532.78 101.83 L533.44 101.11 L534.11 100.42 L534.78 99.76 L535.45 99.11 L536.12 98.48 L536.78 97.86 L537.45 97.24 L538.12 96.62 L538.79 96.01 L539.45 95.38 L540.12 94.75 L540.79 94.13 L541.46 93.5 L542.12 92.88 L542.79 92.26 L543.46 91.65 L544.13 91.05 L544.79 90.46 L545.46 89.88 L546.13 89.32 L546.8 88.78 L547.46 88.25 L548.13 87.74 L548.8 87.25 L549.47 86.77 L550.13 86.31 L550.8 85.85 L551.47 85.41 L552.14 84.97 L552.81 84.54 L553.47 84.12 L554.14 83.69 L554.81 83.27 L555.48 82.84 L556.14 82.42 L556.81 81.98 L557.48 81.55 L558.15 81.1 L558.81 80.64 L559.48 80.19 L560.15 79.72 L560.82 79.26 L561.48 78.79 L562.15 78.33 L562.82 77.86 L563.49 77.41 L564.15 76.96 L564.82 76.51 L565.49 76.08 L566.16 75.66 L566.82 75.25 L567.49 74.86 L568.16 74.48 L568.83 74.11 L569.5 73.76 L570.16 73.41 L570.83 73.07 L571.5 72.74 L572.17 72.42 L572.83 72.09 L573.5 71.77 L574.17 71.46 L574.84 71.14 L575.5 70.82 L576.17 70.5 L576.84 70.17 L577.51 69.84 L578.17 69.51 L578.84 69.17 L579.51 68.84 L580.18 68.5 L580.84 68.16 L581.51 67.82 L582.18 67.48 L582.85 67.15 L583.51 66.81 L584.18 66.48 L584.85 66.14 L585.52 65.81 L586.19 65.48 L586.85 65.15 L587.52 64.83 L588.19 64.5 L588.86 64.18 L589.52 63.86 L590.19 63.54 L590.86 63.22 L591.53 62.9 L592.19 62.58 L592.86 62.27 L593.53 61.96 L594.2 61.65 L594.86 61.34 L595.53 61.04 L596.2 60.75 L596.87 60.46 L597.53 60.17 L598.2 59.88 L598.87 59.59 L599.54 59.31 L600.2 59.02 L600.87 58.74 L601.54 58.46 L602.21 58.18 L602.88 57.9 L603.54 57.63 L604.21 57.35 L604.88 57.08 L605.55 56.81 L606.21 56.55 L606.88 56.28 L607.55 56.02 L608.22 55.77 L608.88 55.51 L609.55 55.26 L610.22 55.01 L610.89 54.77 L611.55 54.53 L612.22 54.29 L612.89 54.06 L613.56 53.83 L614.22 53.6 L614.89 53.38 L615.56 53.16 L616.23 52.95 L616.89 52.73 L617.56 52.52 L618.23 52.31 L618.9 52.1 L619.57 51.9 L620.23 51.7 L620.9 51.5 L621.57 51.3 L622.24 51.1 L622.9 50.91 L623.57 50.72 L624.24 50.52 L624.91 50.33 L625.57 50.14 L626.24 49.96 L626.91 49.77 L627.58 49.58 L628.24 49.4 L628.91 49.21 L629.58 49.03 L630.25 48.84 L630.91 48.66 L631.58 48.47 L632.25 48.29 L632.92 48.11 L633.58 47.93 L634.25 47.75 L634.92 47.57 L635.59 47.39 L636.26 47.21 L636.92 47.03 L637.59 46.86 L638.26 46.68 L638.93 46.51 L639.59 46.34 L640.26 46.17 L640.93 46 L641.6 45.84 L642.26 45.67 L642.93 45.51 L643.6 45.35 L644.27 45.2 L644.93 45.04 L645.6 44.89 L646.27 44.74 L646.94 44.59 L647.6 44.44 L648.27 44.3 L648.94 44.15 L649.61 44 L650.27 43.86 L650.94 43.72 L651.61 43.58 L652.28 43.44 L652.95 43.3 L653.61 43.16 L654.28 43.02 L654.95 42.88 L655.62 42.75 L656.28 42.62 L656.95 42.48 L657.62 42.35 L658.29 42.22 L658.95 42.09 L659.62 41.97 L660.29 41.84 L660.96 41.72 L661.62 41.59 L662.29 41.47 L662.96 41.35 L663.63 41.23 L664.29 41.11 L664.96 41 L665.63 40.89 L666.3 40.77 L666.96 40.66 L667.63 40.55 L668.3 40.45" fill="none" stroke="#3a3ae8" stroke-width="0.85" stroke-linejoin="round"/>
<path d="M501.4 178.5 L501.57 177.4 L501.73 176.31 L501.9 175.25 L502.07 174.2 L502.23 173.17 L502.4 172.17 L502.57 171.19 L502.74 170.24 L502.9 169.33 L503.07 168.44 L503.24 167.57 L503.4 166.72 L503.57 165.89 L503.74 165.06 L503.9 164.26 L504.07 163.47 L504.24 162.7 L504.4 161.94 L504.57 161.19 L504.74 160.46 L505.41 157.69 L506.07 155.13 L506.74 152.74 L507.41 150.52 L508.08 148.46 L508.74 146.56 L509.41 144.78 L510.08 143.1 L510.75 141.47 L511.41 139.91 L512.08 138.39 L512.75 136.93 L513.42 135.49 L514.08 134.07 L514.75 132.66 L515.42 131.28 L516.09 129.92 L516.75 128.57 L517.42 127.24 L518.09 125.93 L518.76 124.62 L519.43 123.31 L520.09 122 L520.76 120.71 L521.43 119.45 L522.1 118.22 L522.76 117.03 L523.43 115.89 L524.1 114.76 L524.77 113.64 L525.43 112.52 L526.1 111.43 L526.77 110.36 L527.44 109.32 L528.1 108.3 L528.77 107.32 L529.44 106.38 L530.11 105.48 L530.77 104.63 L531.44 103.83 L532.11 103.07 L532.78 102.34 L533.44 101.64 L534.11 100.97 L534.78 100.32 L535.45 99.69 L536.12 99.07 L536.78 98.47 L537.45 97.87 L538.12 97.28 L538.79 96.69 L539.45 96.09 L540.12 95.5 L540.79 94.91 L541.46 94.32 L542.12 93.74 L542.79 93.16 L543.46 92.6 L544.13 92.04 L544.79 91.49 L545.46 90.96 L546.13 90.43 L546.8 89.92 L547.46 89.42 L548.13 88.94 L548.8 88.47 L549.47 88 L550.13 87.55 L550.8 87.11 L551.47 86.68 L552.14 86.25 L552.81 85.83 L553.47 85.41 L554.14 85 L554.81 84.59 L555.48 84.18 L556.14 83.78 L556.81 83.37 L557.48 82.96 L558.15 82.54 L558.81 82.13 L559.48 81.72 L560.15 81.31 L560.82 80.9 L561.48 80.49 L562.15 80.08 L562.82 79.68 L563.49 79.28 L564.15 78.88 L564.82 78.49 L565.49 78.11 L566.16 77.73 L566.82 77.35 L567.49 76.99 L568.16 76.62 L568.83 76.27 L569.5 75.91 L570.16 75.57 L570.83 75.22 L571.5 74.88 L572.17 74.54 L572.83 74.21 L573.5 73.88 L574.17 73.56 L574.84 73.23 L575.5 72.91 L576.17 72.6 L576.84 72.28 L577.51 71.97 L578.17 71.66 L578.84 71.36 L579.51 71.06 L580.18 70.76 L580.84 70.47 L581.51 70.18 L582.18 69.89 L582.85 69.61 L583.51 69.32 L584.18 69.04 L584.85 68.76 L585.52 68.48 L586.19 68.2 L586.85 67.92 L587.52 67.64 L588.19 67.36 L588.86 67.07 L589.52 66.79 L590.19 66.51 L590.86 66.23 L591.53 65.95 L592.19 65.67 L592.86 65.39 L593.53 65.11 L594.2 64.84 L594.86 64.57 L595.53 64.31 L596.2 64.04 L596.87 63.79 L597.53 63.53 L598.2 63.27 L598.87 63.02 L599.54 62.76 L600.2 62.51 L600.87 62.26 L601.54 62.01 L602.21 61.76 L602.88 61.51 L603.54 61.27 L604.21 61.02 L604.88 60.78 L605.55 60.54 L606.21 60.3 L606.88 60.07 L607.55 59.83 L608.22 59.6 L608.88 59.38 L609.55 59.15 L610.22 58.93 L610.89 58.71 L611.55 58.49 L612.22 58.28 L612.89 58.07 L613.56 57.87 L614.22 57.66 L614.89 57.46 L615.56 57.26 L616.23 57.06 L616.89 56.87 L617.56 56.68 L618.23 56.48 L618.9 56.3 L619.57 56.11 L620.23 55.92 L620.9 55.74 L621.57 55.56 L622.24 55.38 L622.9 55.2 L623.57 55.02 L624.24 54.85 L624.91 54.68 L625.57 54.51 L626.24 54.34 L626.91 54.17 L627.58 54.01 L628.24 53.84 L628.91 53.68 L629.58 53.52 L630.25 53.36 L630.91 53.2 L631.58 53.04 L632.25 52.89 L632.92 52.73 L633.58 52.58 L634.25 52.43 L634.92 52.28 L635.59 52.13 L636.26 51.98 L636.92 51.83 L637.59 51.69 L638.26 51.55 L638.93 51.4 L639.59 51.26 L640.26 51.12 L640.93 50.99 L641.6 50.85 L642.26 50.72 L642.93 50.58 L643.6 50.45 L644.27 50.32 L644.93 50.19 L645.6 50.07 L646.27 49.94 L646.94 49.82 L647.6 49.7 L648.27 49.57 L648.94 49.45 L649.61 49.33 L650.27 49.21 L650.94 49.09 L651.61 48.97 L652.28 48.86 L652.95 48.74 L653.61 48.63 L654.28 48.51 L654.95 48.4 L655.62 48.29 L656.28 48.17 L656.95 48.06 L657.62 47.95 L658.29 47.85 L658.95 47.74 L659.62 47.63 L660.29 47.53 L660.96 47.42 L661.62 47.32 L662.29 47.22 L662.96 47.12 L663.63 47.02 L664.29 46.92 L664.96 46.83 L665.63 46.73 L666.3 46.64 L666.96 46.55 L667.63 46.46 L668.3 46.37" fill="none" stroke="#333340" stroke-width="0.7" stroke-linejoin="round"/>
<path d="M501.4 176.61 L501.57 174.02 L501.73 171.52 L501.9 169.13 L502.07 166.9 L502.23 164.88 L502.4 163.11 L502.57 161.54 L502.74 160.08 L502.9 158.73 L503.07 157.46 L503.24 156.26 L503.4 155.12 L503.57 153.04 L503.74 152.89 L503.9 152.06 L504.07 151.04 L504.24 150.48 L504.4 147.88 L504.57 147.88 L504.74 146.74 L505.41 141.42 L506.07 136.01 L506.74 132.98 L507.41 130.74 L508.08 128 L508.74 124.94 L509.41 123.24 L510.08 121.47 L510.75 119.12 L511.41 116.61 L512.08 114.07 L512.75 114.18 L513.42 112.21 L514.08 110.77 L514.75 110.2 L515.42 107.92 L516.09 106.59 L516.75 104.02 L517.42 103.42 L518.09 102.98 L518.76 100.42 L519.43 99.74 L520.09 99.29 L520.76 97.42 L521.43 96.23 L522.1 95.23 L522.76 93.58 L523.43 93.75 L524.1 91.52 L524.77 89.7 L525.43 88.72 L526.1 87.52 L526.77 86.46 L527.44 85.19 L528.1 85.61 L528.77 83.45 L529.44 83.97 L530.11 82.25 L530.77 82.04 L531.44 79.43 L532.11 78.39 L532.78 78.45 L533.44 76.56 L534.11 77.22 L534.78 76.06 L535.45 75.39 L536.12 75.44 L536.78 73.96 L537.45 72.49 L538.12 73.57 L538.79 71.88 L539.45 71.87 L540.12 70.16 L540.79 70.26 L541.46 69.51 L542.12 68.87 L542.79 68.42 L543.46 68.68 L544.13 66.42 L544.79 67.33 L545.46 65.76 L546.13 64.92 L546.8 65.15 L547.46 64.02 L548.13 62.91 L548.8 63.08 L549.47 63.08 L550.13 63.75 L550.8 62.18 L551.47 61.51 L552.14 61.03 L552.81 60.85 L553.47 59.66 L554.14 59.78 L554.81 59.1 L555.48 58.24 L556.14 58.7 L556.81 57.97 L557.48 56.16 L558.15 56.47 L558.81 57.28 L559.48 56.18 L560.15 55.4 L560.82 54.61 L561.48 54.81 L562.15 54.8 L562.82 54.51 L563.49 53.33 L564.15 53.12 L564.82 53.21 L565.49 52.64 L566.16 52.39 L566.82 51.37 L567.49 51.8 L568.16 50.77 L568.83 50.21 L569.5 50.06 L570.16 50.46 L570.83 48.87 L571.5 49.68 L572.17 48.71 L572.83 49.05 L573.5 49.28 L574.17 47.83 L574.84 47.48 L575.5 47.37 L576.17 46.85 L576.84 47.07 L577.51 46.81 L578.17 46.19 L578.84 44.72 L579.51 45.05 L580.18 45.53 L580.84 44.64 L581.51 44.95 L582.18 44.67 L582.85 43.65 L583.51 44.17 L584.18 44.56 L584.85 43.86 L585.52 43.03 L586.19 42.74 L586.85 41.85 L587.52 42.7 L588.19 41.61 L588.86 41.52 L589.52 41.58 L590.19 40.76 L590.86 40.69 L591.53 41.2 L592.19 39.84 L592.86 40.89 L593.53 39.9 L594.2 39.68 L594.86 39.19 L595.53 39.59 L596.2 38.95 L596.87 38.77 L597.53 37.88 L598.2 38.66 L598.87 37.92 L599.54 37.86 L600.2 38.21 L600.87 35.71 L601.54 37.02 L602.21 37.33 L602.88 35.94 L603.54 36.69 L604.21 35.88 L604.88 35.45 L605.55 35.82 L606.21 35.5 L606.88 35.31 L607.55 34.93 L608.22 35.3 L608.88 34.92 L609.55 34.27 L610.22 33.59 L610.89 33.55 L611.55 32.91 L612.22 33.12 L612.89 33.4 L613.56 33.06 L614.22 33.63 L614.89 33.02 L615.56 32.87 L616.23 32.18 L616.89 31.85 L617.56 32.16 L618.23 32.01 L618.9 32.22 L619.57 31.49 L620.23 31.18 L620.9 30.94 L621.57 31.27 L622.24 30.01 L622.9 30.17 L623.57 30.53 L624.24 30.55 L624.91 30.31 L625.57 29.97 L626.24 29.89 L626.91 29.54 L627.58 29.27 L628.24 28.88 L628.91 28.82 L629.58 29.17 L630.25 28.82 L630.91 28.97 L631.58 28.9 L632.25 27.76 L632.92 28.55 L633.58 27.42 L634.25 28.2 L634.92 27.81 L635.59 27.32 L636.26 27.6 L636.92 27.3 L637.59 27.41 L638.26 27.35 L638.93 27.09 L639.59 27.13 L640.26 26.09 L640.93 26.66 L641.6 25.77 L642.26 27.39 L642.93 26.18 L643.6 25.83 L644.27 26.04 L644.93 25.36 L645.6 25.42 L646.27 25.66 L646.94 25.26 L647.6 24.2 L648.27 25.1 L648.94 24.96 L649.61 25.14 L650.27 24.8 L650.94 25.25 L651.61 24.7 L652.28 23.53 L652.95 23.98 L653.61 24.04 L654.28 23.74 L654.95 23.33 L655.62 23.73 L656.28 23.04 L656.95 23.33 L657.62 23.59 L658.29 22.87 L658.95 24.39 L659.62 23.58 L660.29 23.15 L660.96 23.53 L661.62 23.13 L662.29 23.23 L662.96 23.15 L663.63 21.72 L664.29 22.46 L664.96 22.64 L665.63 22.01 L666.3 22.55 L666.96 22.02 L667.63 22.15 L668.3 21.56 L668.3 25.35 L667.63 25.94 L666.96 25.81 L666.3 26.34 L665.63 25.8 L664.96 26.43 L664.29 26.25 L663.63 25.51 L662.96 26.93 L662.29 27.02 L661.62 26.92 L660.96 27.32 L660.29 26.94 L659.62 27.37 L658.95 28.18 L658.29 26.66 L657.62 27.38 L656.95 27.12 L656.28 26.83 L655.62 27.52 L654.95 27.12 L654.28 27.53 L653.61 27.82 L652.95 27.76 L652.28 27.32 L651.61 28.49 L650.94 29.04 L650.27 28.59 L649.61 28.93 L648.94 28.75 L648.27 28.89 L647.6 27.98 L646.94 29.05 L646.27 29.45 L645.6 29.21 L644.93 29.15 L644.27 29.83 L643.6 29.62 L642.93 29.97 L642.26 31.18 L641.6 29.56 L640.93 30.45 L640.26 29.87 L639.59 30.92 L638.93 30.87 L638.26 31.14 L637.59 31.2 L636.92 31.09 L636.26 31.39 L635.59 31.11 L634.92 31.6 L634.25 31.99 L633.58 31.21 L632.92 32.34 L632.25 31.54 L631.58 32.69 L630.91 32.76 L630.25 32.61 L629.58 32.96 L628.91 32.61 L628.24 32.67 L627.58 33.06 L626.91 33.33 L626.24 33.68 L625.57 33.76 L624.91 34.1 L624.24 34.34 L623.57 34.32 L622.9 33.96 L622.24 33.8 L621.57 35.06 L620.9 34.73 L620.23 34.97 L619.57 35.28 L618.9 36.01 L618.23 35.79 L617.56 35.95 L616.89 35.64 L616.23 35.97 L615.56 36.66 L614.89 36.81 L614.22 37.42 L613.56 36.85 L612.89 37.19 L612.22 36.91 L611.55 36.69 L610.89 37.34 L610.22 37.38 L609.55 38.06 L608.88 38.71 L608.22 39.09 L607.55 38.71 L606.88 39.1 L606.21 39.29 L605.55 39.6 L604.88 39.24 L604.21 39.67 L603.54 40.48 L602.88 39.73 L602.21 41.12 L601.54 40.81 L600.87 39.49 L600.2 42 L599.54 41.65 L598.87 41.71 L598.2 42.44 L597.53 41.67 L596.87 42.56 L596.2 42.74 L595.53 43.38 L594.86 42.98 L594.2 43.47 L593.53 43.69 L592.86 44.67 L592.19 43.63 L591.53 44.99 L590.86 44.48 L590.19 44.55 L589.52 45.37 L588.86 45.31 L588.19 45.4 L587.52 46.48 L586.85 45.63 L586.19 46.53 L585.52 46.82 L584.85 47.64 L584.18 48.35 L583.51 47.96 L582.85 47.44 L582.18 48.46 L581.51 48.74 L580.84 48.43 L580.18 49.32 L579.51 48.84 L578.84 48.51 L578.17 49.98 L577.51 50.6 L576.84 50.86 L576.17 50.64 L575.5 51.15 L574.84 51.26 L574.17 51.62 L573.5 53.07 L572.83 52.84 L572.17 52.5 L571.5 53.47 L570.83 52.66 L570.16 54.25 L569.5 53.85 L568.83 54 L568.16 54.56 L567.49 55.59 L566.82 55.16 L566.16 56.18 L565.49 56.43 L564.82 57 L564.15 56.91 L563.49 57.12 L562.82 58.3 L562.15 58.58 L561.48 58.6 L560.82 58.39 L560.15 59.19 L559.48 59.97 L558.81 61.07 L558.15 60.26 L557.48 59.95 L556.81 61.76 L556.14 62.49 L555.48 62.03 L554.81 62.89 L554.14 63.57 L553.47 63.45 L552.81 64.64 L552.14 64.82 L551.47 65.3 L550.8 65.97 L550.13 67.54 L549.47 66.86 L548.8 66.87 L548.13 66.7 L547.46 67.81 L546.8 68.94 L546.13 68.71 L545.46 69.55 L544.79 71.12 L544.13 70.21 L543.46 72.47 L542.79 72.21 L542.12 72.65 L541.46 73.3 L540.79 74.05 L540.12 73.95 L539.45 75.66 L538.79 75.67 L538.12 77.36 L537.45 76.28 L536.78 77.75 L536.12 79.23 L535.45 79.18 L534.78 79.85 L534.11 81.01 L533.44 80.35 L532.78 82.23 L532.11 82.18 L531.44 83.22 L530.77 85.82 L530.11 86.04 L529.44 87.76 L528.77 87.24 L528.1 89.4 L527.44 88.98 L526.77 90.24 L526.1 91.31 L525.43 92.51 L524.77 93.49 L524.1 95.31 L523.43 97.54 L522.76 97.36 L522.1 99.02 L521.43 100.02 L520.76 101.21 L520.09 103.07 L519.43 103.53 L518.76 104.21 L518.09 106.77 L517.42 107.21 L516.75 107.81 L516.09 110.38 L515.42 111.71 L514.75 113.99 L514.08 114.56 L513.42 116 L512.75 117.97 L512.08 117.86 L511.41 120.4 L510.75 122.9 L510.08 125.26 L509.41 127.03 L508.74 128.73 L508.08 131.79 L507.41 134.53 L506.74 136.77 L506.07 139.8 L505.41 145.21 L504.74 150.53 L504.57 151.67 L504.4 151.67 L504.24 154.27 L504.07 154.83 L503.9 155.85 L503.74 156.68 L503.57 156.83 L503.4 158.91 L503.24 160.05 L503.07 161.25 L502.9 162.52 L502.74 163.87 L502.57 165.33 L502.4 166.9 L502.23 168.67 L502.07 170.69 L501.9 172.92 L501.73 175.31 L501.57 177.81 L501.4 180.39Z" fill="#e8c8f0" opacity="0.6"/>
<path d="M501.4 178.5 L501.57 175.92 L501.73 173.41 L501.9 171.02 L502.07 168.8 L502.23 166.78 L502.4 165 L502.57 163.43 L502.74 161.98 L502.9 160.62 L503.07 159.36 L503.24 158.16 L503.4 157.01 L503.57 154.93 L503.74 154.78 L503.9 153.96 L504.07 152.94 L504.24 152.38 L504.4 149.78 L504.57 149.78 L504.74 148.63 L505.41 143.32 L506.07 137.91 L506.74 134.88 L507.41 132.63 L508.08 129.89 L508.74 126.83 L509.41 125.13 L510.08 123.37 L510.75 121.01 L511.41 118.51 L512.08 115.97 L512.75 116.07 L513.42 114.11 L514.08 112.66 L514.75 112.1 L515.42 109.81 L516.09 108.48 L516.75 105.91 L517.42 105.31 L518.09 104.87 L518.76 102.32 L519.43 101.63 L520.09 101.18 L520.76 99.32 L521.43 98.13 L522.1 97.13 L522.76 95.47 L523.43 95.64 L524.1 93.41 L524.77 91.6 L525.43 90.62 L526.1 89.41 L526.77 88.35 L527.44 87.08 L528.1 87.51 L528.77 85.35 L529.44 85.86 L530.11 84.15 L530.77 83.93 L531.44 81.32 L532.11 80.29 L532.78 80.34 L533.44 78.45 L534.11 79.12 L534.78 77.95 L535.45 77.29 L536.12 77.33 L536.78 75.86 L537.45 74.39 L538.12 75.47 L538.79 73.77 L539.45 73.76 L540.12 72.06 L540.79 72.16 L541.46 71.4 L542.12 70.76 L542.79 70.31 L543.46 70.57 L544.13 68.31 L544.79 69.22 L545.46 67.66 L546.13 66.82 L546.8 67.04 L547.46 65.92 L548.13 64.8 L548.8 64.97 L549.47 64.97 L550.13 65.64 L550.8 64.07 L551.47 63.41 L552.14 62.92 L552.81 62.74 L553.47 61.56 L554.14 61.68 L554.81 61 L555.48 60.14 L556.14 60.6 L556.81 59.87 L557.48 58.05 L558.15 58.36 L558.81 59.18 L559.48 58.07 L560.15 57.29 L560.82 56.5 L561.48 56.71 L562.15 56.69 L562.82 56.4 L563.49 55.22 L564.15 55.02 L564.82 55.1 L565.49 54.53 L566.16 54.28 L566.82 53.26 L567.49 53.7 L568.16 52.67 L568.83 52.1 L569.5 51.95 L570.16 52.35 L570.83 50.77 L571.5 51.57 L572.17 50.61 L572.83 50.94 L573.5 51.17 L574.17 49.73 L574.84 49.37 L575.5 49.26 L576.17 48.75 L576.84 48.96 L577.51 48.71 L578.17 48.09 L578.84 46.61 L579.51 46.95 L580.18 47.42 L580.84 46.53 L581.51 46.85 L582.18 46.56 L582.85 45.54 L583.51 46.06 L584.18 46.45 L584.85 45.75 L585.52 44.92 L586.19 44.64 L586.85 43.74 L587.52 44.59 L588.19 43.5 L588.86 43.41 L589.52 43.47 L590.19 42.65 L590.86 42.59 L591.53 43.09 L592.19 41.74 L592.86 42.78 L593.53 41.8 L594.2 41.58 L594.86 41.08 L595.53 41.49 L596.2 40.85 L596.87 40.66 L597.53 39.77 L598.2 40.55 L598.87 39.81 L599.54 39.76 L600.2 40.1 L600.87 37.6 L601.54 38.92 L602.21 39.23 L602.88 37.84 L603.54 38.58 L604.21 37.77 L604.88 37.34 L605.55 37.71 L606.21 37.39 L606.88 37.21 L607.55 36.82 L608.22 37.19 L608.88 36.82 L609.55 36.17 L610.22 35.49 L610.89 35.44 L611.55 34.8 L612.22 35.01 L612.89 35.3 L613.56 34.95 L614.22 35.53 L614.89 34.92 L615.56 34.76 L616.23 34.07 L616.89 33.75 L617.56 34.06 L618.23 33.9 L618.9 34.11 L619.57 33.39 L620.23 33.07 L620.9 32.83 L621.57 33.16 L622.24 31.91 L622.9 32.06 L623.57 32.42 L624.24 32.44 L624.91 32.21 L625.57 31.87 L626.24 31.78 L626.91 31.43 L627.58 31.17 L628.24 30.78 L628.91 30.71 L629.58 31.06 L630.25 30.71 L630.91 30.87 L631.58 30.8 L632.25 29.65 L632.92 30.44 L633.58 29.31 L634.25 30.09 L634.92 29.7 L635.59 29.22 L636.26 29.49 L636.92 29.2 L637.59 29.3 L638.26 29.25 L638.93 28.98 L639.59 29.03 L640.26 27.98 L640.93 28.56 L641.6 27.66 L642.26 29.28 L642.93 28.07 L643.6 27.72 L644.27 27.93 L644.93 27.26 L645.6 27.31 L646.27 27.55 L646.94 27.15 L647.6 26.09 L648.27 26.99 L648.94 26.86 L649.61 27.03 L650.27 26.69 L650.94 27.14 L651.61 26.6 L652.28 25.43 L652.95 25.87 L653.61 25.93 L654.28 25.64 L654.95 25.22 L655.62 25.63 L656.28 24.93 L656.95 25.23 L657.62 25.49 L658.29 24.77 L658.95 26.29 L659.62 25.48 L660.29 25.05 L660.96 25.42 L661.62 25.03 L662.29 25.13 L662.96 25.04 L663.63 23.61 L664.29 24.35 L664.96 24.54 L665.63 23.91 L666.3 24.44 L666.96 23.91 L667.63 24.05 L668.3 23.46" fill="none" stroke="#f0305a" stroke-width="0.7" stroke-linejoin="round"/>
<line x1="601" y1="129.9" x2="611.8" y2="129.9" stroke="#3c9a3c" stroke-width="1.2"/>
<text x="0" y="0" font-size="8.48" text-anchor="start" fill="#231f20" transform="translate(616.5 133.3) scale(0.94 1)" stroke="#231f20" stroke-width="0.12">Distal</text>
<line x1="601" y1="140.1" x2="611.8" y2="140.1" stroke="#3a3ae8" stroke-width="1.2"/>
<text x="0" y="0" font-size="8.48" text-anchor="start" fill="#231f20" transform="translate(616.5 143.5) scale(0.94 1)" stroke="#231f20" stroke-width="0.12">Interstitial</text>
<line x1="601" y1="150.4" x2="611.8" y2="150.4" stroke="#f0305a" stroke-width="1.2"/>
<text x="0" y="0" font-size="8.48" text-anchor="start" fill="#231f20" transform="translate(616.5 153.8) scale(0.94 1)" stroke="#231f20" stroke-width="0.12">Proximal</text>
<line x1="601" y1="160.6" x2="611.8" y2="160.6" stroke="#333340" stroke-width="1.2"/>
<text x="0" y="0" font-size="8.48" text-anchor="start" fill="#231f20" transform="translate(616.5 164) scale(0.94 1)" stroke="#231f20" stroke-width="0.12">Entire genome</text>
<text x="238.9" y="223.95" font-size="10" text-anchor="start" font-weight="bold" fill="#000" stroke="#000" stroke-width="0.35">e</text>
<line x1="272.5" y1="230.5" x2="272.5" y2="358.4" stroke="#4d4d4d" stroke-width="0.7"/>
<line x1="272.5" y1="358.4" x2="449" y2="358.4" stroke="#4d4d4d" stroke-width="0.7"/>
<line x1="270" y1="358.4" x2="272.5" y2="358.4" stroke="#4d4d4d" stroke-width="0.7"/>
<text x="0" y="0" font-size="8.37" text-anchor="end" fill="#231f20" transform="translate(267.2 361.7) scale(0.94 1)" stroke="#231f20" stroke-width="0.12">0</text>
<line x1="270" y1="307.1" x2="272.5" y2="307.1" stroke="#4d4d4d" stroke-width="0.7"/>
<text x="0" y="0" font-size="8.37" text-anchor="end" fill="#231f20" transform="translate(267.2 310.4) scale(0.94 1)" stroke="#231f20" stroke-width="0.12">0.05</text>
<line x1="270" y1="255.8" x2="272.5" y2="255.8" stroke="#4d4d4d" stroke-width="0.7"/>
<text x="0" y="0" font-size="8.37" text-anchor="end" fill="#231f20" transform="translate(267.2 259.1) scale(0.94 1)" stroke="#231f20" stroke-width="0.12">0.10</text>
<text x="0" y="0" font-size="8.37" text-anchor="middle" fill="#231f20" transform="translate(245.2 294) rotate(-90) scale(0.94 1)" stroke="#231f20" stroke-width="0.12">Proportion</text>
<rect x="276.9" y="299.92" width="8.38" height="28.73" fill="#ffff00" stroke="#2a2a08" stroke-width="0.6"/>
<rect x="276.9" y="328.65" width="8.38" height="29.75" fill="#007800" stroke="#0a180a" stroke-width="0.6"/>
<line x1="281.09" y1="358.4" x2="281.09" y2="361.4" stroke="#333" stroke-width="0.7"/>
<text x="0" y="0" font-size="8.37" text-anchor="end" fill="#231f20" transform="translate(283.89 365) rotate(-90) scale(0.94 1)" stroke="#231f20" stroke-width="0.12">>0–0.05</text>
<rect x="285.28" y="246.57" width="8.38" height="48.22" fill="#ffff00" stroke="#2a2a08" stroke-width="0.6"/>
<rect x="285.28" y="294.79" width="8.38" height="63.61" fill="#007800" stroke="#0a180a" stroke-width="0.6"/>
<line x1="289.47" y1="358.4" x2="289.47" y2="361.4" stroke="#333" stroke-width="0.7"/>
<text x="0" y="0" font-size="8.37" text-anchor="end" fill="#231f20" transform="translate(292.27 365) rotate(-90) scale(0.94 1)" stroke="#231f20" stroke-width="0.12">0.05–0.10</text>
<rect x="293.66" y="278.37" width="8.38" height="30.78" fill="#ffff00" stroke="#2a2a08" stroke-width="0.6"/>
<rect x="293.66" y="309.15" width="8.38" height="49.25" fill="#007800" stroke="#0a180a" stroke-width="0.6"/>
<line x1="297.85" y1="358.4" x2="297.85" y2="361.4" stroke="#333" stroke-width="0.7"/>
<text x="0" y="0" font-size="8.37" text-anchor="end" fill="#231f20" transform="translate(300.65 365) rotate(-90) scale(0.94 1)" stroke="#231f20" stroke-width="0.12">0.10–0.15</text>
<rect x="302.04" y="264.01" width="8.38" height="50.27" fill="#ffff00" stroke="#2a2a08" stroke-width="0.6"/>
<rect x="302.04" y="314.28" width="8.38" height="44.12" fill="#007800" stroke="#0a180a" stroke-width="0.6"/>
<line x1="306.23" y1="358.4" x2="306.23" y2="361.4" stroke="#333" stroke-width="0.7"/>
<text x="0" y="0" font-size="8.37" text-anchor="end" fill="#231f20" transform="translate(309.03 365) rotate(-90) scale(0.94 1)" stroke="#231f20" stroke-width="0.12">0.15–0.20</text>
<rect x="310.42" y="276.32" width="8.38" height="28.73" fill="#ffff00" stroke="#2a2a08" stroke-width="0.6"/>
<rect x="310.42" y="305.05" width="8.38" height="53.35" fill="#007800" stroke="#0a180a" stroke-width="0.6"/>
<line x1="314.61" y1="358.4" x2="314.61" y2="361.4" stroke="#333" stroke-width="0.7"/>
<text x="0" y="0" font-size="8.37" text-anchor="end" fill="#231f20" transform="translate(317.41 365) rotate(-90) scale(0.94 1)" stroke="#231f20" stroke-width="0.12">0.20–0.25</text>
<rect x="318.8" y="315.31" width="8.38" height="14.36" fill="#ffff00" stroke="#2a2a08" stroke-width="0.6"/>
<rect x="318.8" y="329.67" width="8.38" height="28.73" fill="#007800" stroke="#0a180a" stroke-width="0.6"/>
<line x1="322.99" y1="358.4" x2="322.99" y2="361.4" stroke="#333" stroke-width="0.7"/>
<text x="0" y="0" font-size="8.37" text-anchor="end" fill="#231f20" transform="translate(325.79 365) rotate(-90) scale(0.94 1)" stroke="#231f20" stroke-width="0.12">0.25–0.30</text>
<rect x="327.18" y="298.89" width="8.38" height="33.86" fill="#ffff00" stroke="#2a2a08" stroke-width="0.6"/>
<rect x="327.18" y="332.75" width="8.38" height="25.65" fill="#007800" stroke="#0a180a" stroke-width="0.6"/>
<line x1="331.37" y1="358.4" x2="331.37" y2="361.4" stroke="#333" stroke-width="0.7"/>
<text x="0" y="0" font-size="8.37" text-anchor="end" fill="#231f20" transform="translate(334.17 365) rotate(-90) scale(0.94 1)" stroke="#231f20" stroke-width="0.12">0.30–0.35</text>
<rect x="335.56" y="317.36" width="8.38" height="12.31" fill="#ffff00" stroke="#2a2a08" stroke-width="0.6"/>
<rect x="335.56" y="329.67" width="8.38" height="28.73" fill="#007800" stroke="#0a180a" stroke-width="0.6"/>
<line x1="339.75" y1="358.4" x2="339.75" y2="361.4" stroke="#333" stroke-width="0.7"/>
<text x="0" y="0" font-size="8.37" text-anchor="end" fill="#231f20" transform="translate(342.55 365) rotate(-90) scale(0.94 1)" stroke="#231f20" stroke-width="0.12">0.35–0.40</text>
<rect x="343.94" y="292.74" width="8.38" height="27.7" fill="#ffff00" stroke="#2a2a08" stroke-width="0.6"/>
<rect x="343.94" y="320.44" width="8.38" height="37.96" fill="#007800" stroke="#0a180a" stroke-width="0.6"/>
<line x1="348.13" y1="358.4" x2="348.13" y2="361.4" stroke="#333" stroke-width="0.7"/>
<text x="0" y="0" font-size="8.37" text-anchor="end" fill="#231f20" transform="translate(350.93 365) rotate(-90) scale(0.94 1)" stroke="#231f20" stroke-width="0.12">0.40–0.45</text>
<rect x="352.32" y="312.23" width="8.38" height="9.23" fill="#ffff00" stroke="#2a2a08" stroke-width="0.6"/>
<rect x="352.32" y="321.46" width="8.38" height="36.94" fill="#007800" stroke="#0a180a" stroke-width="0.6"/>
<line x1="356.51" y1="358.4" x2="356.51" y2="361.4" stroke="#333" stroke-width="0.7"/>
<text x="0" y="0" font-size="8.37" text-anchor="end" fill="#231f20" transform="translate(359.31 365) rotate(-90) scale(0.94 1)" stroke="#231f20" stroke-width="0.12">0.45–0.50</text>
<rect x="360.7" y="300.94" width="8.38" height="7.18" fill="#ffff00" stroke="#2a2a08" stroke-width="0.6"/>
<rect x="360.7" y="308.13" width="8.38" height="50.27" fill="#007800" stroke="#0a180a" stroke-width="0.6"/>
<line x1="364.89" y1="358.4" x2="364.89" y2="361.4" stroke="#333" stroke-width="0.7"/>
<text x="0" y="0" font-size="8.37" text-anchor="end" fill="#231f20" transform="translate(367.69 365) rotate(-90) scale(0.94 1)" stroke="#231f20" stroke-width="0.12">0.50–0.55</text>
<rect x="369.08" y="331.72" width="8.38" height="9.23" fill="#ffff00" stroke="#2a2a08" stroke-width="0.6"/>
<rect x="369.08" y="340.96" width="8.38" height="17.44" fill="#007800" stroke="#0a180a" stroke-width="0.6"/>
<line x1="373.27" y1="358.4" x2="373.27" y2="361.4" stroke="#333" stroke-width="0.7"/>
<text x="0" y="0" font-size="8.37" text-anchor="end" fill="#231f20" transform="translate(376.07 365) rotate(-90) scale(0.94 1)" stroke="#231f20" stroke-width="0.12">0.55–0.60</text>
<rect x="377.46" y="333.78" width="8.38" height="4.1" fill="#ffff00" stroke="#2a2a08" stroke-width="0.6"/>
<rect x="377.46" y="337.88" width="8.38" height="20.52" fill="#007800" stroke="#0a180a" stroke-width="0.6"/>
<line x1="381.65" y1="358.4" x2="381.65" y2="361.4" stroke="#333" stroke-width="0.7"/>
<text x="0" y="0" font-size="8.37" text-anchor="end" fill="#231f20" transform="translate(384.45 365) rotate(-90) scale(0.94 1)" stroke="#231f20" stroke-width="0.12">0.60–0.65</text>
<rect x="385.84" y="335.83" width="8.38" height="3.08" fill="#ffff00" stroke="#2a2a08" stroke-width="0.6"/>
<rect x="385.84" y="338.91" width="8.38" height="19.49" fill="#007800" stroke="#0a180a" stroke-width="0.6"/>
<line x1="390.03" y1="358.4" x2="390.03" y2="361.4" stroke="#333" stroke-width="0.7"/>
<text x="0" y="0" font-size="8.37" text-anchor="end" fill="#231f20" transform="translate(392.83 365) rotate(-90) scale(0.94 1)" stroke="#231f20" stroke-width="0.12">0.65–0.70</text>
<rect x="394.22" y="305.05" width="8.38" height="4.1" fill="#ffff00" stroke="#2a2a08" stroke-width="0.6"/>
<rect x="394.22" y="309.15" width="8.38" height="49.25" fill="#007800" stroke="#0a180a" stroke-width="0.6"/>
<line x1="398.41" y1="358.4" x2="398.41" y2="361.4" stroke="#333" stroke-width="0.7"/>
<text x="0" y="0" font-size="8.37" text-anchor="end" fill="#231f20" transform="translate(401.21 365) rotate(-90) scale(0.94 1)" stroke="#231f20" stroke-width="0.12">0.70–0.75</text>
<rect x="402.6" y="281.45" width="8.38" height="3.08" fill="#ffff00" stroke="#2a2a08" stroke-width="0.6"/>
<rect x="402.6" y="284.53" width="8.38" height="73.87" fill="#007800" stroke="#0a180a" stroke-width="0.6"/>
<line x1="406.79" y1="358.4" x2="406.79" y2="361.4" stroke="#333" stroke-width="0.7"/>
<text x="0" y="0" font-size="8.37" text-anchor="end" fill="#231f20" transform="translate(409.59 365) rotate(-90) scale(0.94 1)" stroke="#231f20" stroke-width="0.12">0.75–0.80</text>
<rect x="410.98" y="339.93" width="8.38" height="1.03" fill="#ffff00" stroke="#2a2a08" stroke-width="0.6"/>
<rect x="410.98" y="340.96" width="8.38" height="17.44" fill="#007800" stroke="#0a180a" stroke-width="0.6"/>
<line x1="415.17" y1="358.4" x2="415.17" y2="361.4" stroke="#333" stroke-width="0.7"/>
<text x="0" y="0" font-size="8.37" text-anchor="end" fill="#231f20" transform="translate(417.97 365) rotate(-90) scale(0.94 1)" stroke="#231f20" stroke-width="0.12">0.80–0.85</text>
<rect x="419.36" y="350.19" width="8.38" height="0" fill="#ffff00" stroke="#2a2a08" stroke-width="0.6"/>
<rect x="419.36" y="350.19" width="8.38" height="8.21" fill="#007800" stroke="#0a180a" stroke-width="0.6"/>
<line x1="423.55" y1="358.4" x2="423.55" y2="361.4" stroke="#333" stroke-width="0.7"/>
<text x="0" y="0" font-size="8.37" text-anchor="end" fill="#231f20" transform="translate(426.35 365) rotate(-90) scale(0.94 1)" stroke="#231f20" stroke-width="0.12">0.85–0.90</text>
<rect x="427.74" y="345.06" width="8.38" height="0" fill="#ffff00" stroke="#2a2a08" stroke-width="0.6"/>
<rect x="427.74" y="345.06" width="8.38" height="13.34" fill="#007800" stroke="#0a180a" stroke-width="0.6"/>
<line x1="431.93" y1="358.4" x2="431.93" y2="361.4" stroke="#333" stroke-width="0.7"/>
<text x="0" y="0" font-size="8.37" text-anchor="end" fill="#231f20" transform="translate(434.73 365) rotate(-90) scale(0.94 1)" stroke="#231f20" stroke-width="0.12">0.90–0.95</text>
<rect x="436.12" y="316.33" width="8.38" height="0" fill="#ffff00" stroke="#2a2a08" stroke-width="0.6"/>
<rect x="436.12" y="316.33" width="8.38" height="42.07" fill="#007800" stroke="#0a180a" stroke-width="0.6"/>
<line x1="440.31" y1="358.4" x2="440.31" y2="361.4" stroke="#333" stroke-width="0.7"/>
<text x="0" y="0" font-size="8.37" text-anchor="end" fill="#231f20" transform="translate(443.11 365) rotate(-90) scale(0.94 1)" stroke="#231f20" stroke-width="0.12">0.95–1</text>
<rect x="334" y="244.2" width="10" height="6.1" fill="#007800" stroke="#1a2a1a" stroke-width="0.4"/>
<text x="0" y="0" font-size="8.48" text-anchor="start" fill="#231f20" transform="translate(348.4 250.5) scale(0.94 1)" stroke="#231f20" stroke-width="0.12">Shared haplotype</text>
<rect x="334" y="255.9" width="10" height="6.1" fill="#ffff00" stroke="#6a6a20" stroke-width="0.4"/>
<text x="0" y="0" font-size="8.48" text-anchor="start" fill="#231f20" transform="translate(348.4 262) scale(0.94 1)" stroke="#231f20" stroke-width="0.12">Private haplotype</text>
<text x="0" y="0" font-size="8.48" text-anchor="middle" fill="#231f20" transform="translate(361 411.8) scale(0.94 1)" stroke="#231f20" stroke-width="0.12">Haplotype frequency bin</text>
<text x="469.6" y="222.55" font-size="10" text-anchor="start" font-weight="bold" fill="#000" stroke="#000" stroke-width="0.35">f</text>
<rect x="519.1" y="236.2" width="15.38" height="15.32" fill="#ff1400"/>
<rect x="534.18" y="236.2" width="15.38" height="15.32" fill="#ff1c00"/>
<rect x="549.26" y="236.2" width="15.38" height="15.32" fill="#ff3000"/>
<rect x="564.34" y="236.2" width="15.38" height="15.32" fill="#ff3e00"/>
<rect x="579.42" y="236.2" width="15.38" height="15.32" fill="#ff2a00"/>
<rect x="594.5" y="236.2" width="15.38" height="15.32" fill="#ff3a00"/>
<rect x="609.58" y="236.2" width="15.38" height="15.32" fill="#ff3800"/>
<rect x="624.66" y="236.2" width="15.38" height="15.32" fill="#ff6e00"/>
<rect x="519.1" y="251.22" width="15.38" height="15.32" fill="#ff5000"/>
<rect x="534.18" y="251.22" width="15.38" height="15.32" fill="#ff5e00"/>
<rect x="549.26" y="251.22" width="15.38" height="15.32" fill="#ff6e00"/>
<rect x="564.34" y="251.22" width="15.38" height="15.32" fill="#ff7800"/>
<rect x="579.42" y="251.22" width="15.38" height="15.32" fill="#ff6800"/>
<rect x="594.5" y="251.22" width="15.38" height="15.32" fill="#ff5a00"/>
<rect x="609.58" y="251.22" width="15.38" height="15.32" fill="#ff9000"/>
<rect x="624.66" y="251.22" width="15.38" height="15.32" fill="#ff9a00"/>
<rect x="519.1" y="266.24" width="15.38" height="15.32" fill="#ff6800"/>
<rect x="534.18" y="266.24" width="15.38" height="15.32" fill="#ff8800"/>
<rect x="549.26" y="266.24" width="15.38" height="15.32" fill="#ff9200"/>
<rect x="564.34" y="266.24" width="15.38" height="15.32" fill="#ff6c00"/>
<rect x="579.42" y="266.24" width="15.38" height="15.32" fill="#ff7a00"/>
<rect x="594.5" y="266.24" width="15.38" height="15.32" fill="#ff9000"/>
<rect x="609.58" y="266.24" width="15.38" height="15.32" fill="#ffa800"/>
<rect x="624.66" y="266.24" width="15.38" height="15.32" fill="#ffd800"/>
<rect x="519.1" y="281.26" width="15.38" height="15.32" fill="#ff6000"/>
<rect x="534.18" y="281.26" width="15.38" height="15.32" fill="#ff7800"/>
<rect x="549.26" y="281.26" width="15.38" height="15.32" fill="#ffa000"/>
<rect x="564.34" y="281.26" width="15.38" height="15.32" fill="#ffac00"/>
<rect x="579.42" y="281.26" width="15.38" height="15.32" fill="#ffa000"/>
<rect x="594.5" y="281.26" width="15.38" height="15.32" fill="#ffb000"/>
<rect x="609.58" y="281.26" width="15.38" height="15.32" fill="#fff000"/>
<rect x="624.66" y="281.26" width="15.38" height="15.32" fill="#ffff00"/>
<rect x="519.1" y="296.28" width="15.38" height="15.32" fill="#ff6a00"/>
<rect x="534.18" y="296.28" width="15.38" height="15.32" fill="#ff6200"/>
<rect x="549.26" y="296.28" width="15.38" height="15.32" fill="#ff9000"/>
<rect x="564.34" y="296.28" width="15.38" height="15.32" fill="#ffa000"/>
<rect x="579.42" y="296.28" width="15.38" height="15.32" fill="#ff9800"/>
<rect x="594.5" y="296.28" width="15.38" height="15.32" fill="#ffe800"/>
<rect x="609.58" y="296.28" width="15.38" height="15.32" fill="#ffa200"/>
<rect x="624.66" y="296.28" width="15.38" height="15.32" fill="#ff7000"/>
<rect x="519.1" y="311.3" width="15.38" height="15.32" fill="#ff8200"/>
<rect x="534.18" y="311.3" width="15.38" height="15.32" fill="#ff8200"/>
<rect x="549.26" y="311.3" width="15.38" height="15.32" fill="#ffff00"/>
<rect x="564.34" y="311.3" width="15.38" height="15.32" fill="#ffff00"/>
<rect x="579.42" y="311.3" width="15.38" height="15.32" fill="#ffff00"/>
<rect x="594.5" y="311.3" width="15.38" height="15.32" fill="#ffff00"/>
<rect x="609.58" y="311.3" width="15.38" height="15.32" fill="#ffaa00"/>
<rect x="624.66" y="311.3" width="15.38" height="15.32" fill="#ffe000"/>
<rect x="519.1" y="326.32" width="15.38" height="15.32" fill="#ffff00"/>
<rect x="534.18" y="326.32" width="15.38" height="15.32" fill="#ffff00"/>
<rect x="549.26" y="326.32" width="15.38" height="15.32" fill="#ffff00"/>
<rect x="564.34" y="326.32" width="15.38" height="15.32" fill="#ffff00"/>
<rect x="579.42" y="326.32" width="15.38" height="15.32" fill="#ffff00"/>
<rect x="594.5" y="326.32" width="15.38" height="15.32" fill="#ffff00"/>
<rect x="609.58" y="326.32" width="15.38" height="15.32" fill="#ffff00"/>
<rect x="624.66" y="326.32" width="15.38" height="15.32" fill="#ffff00"/>
<rect x="519.1" y="341.34" width="15.38" height="15.32" fill="#ffff00"/>
<rect x="534.18" y="341.34" width="15.38" height="15.32" fill="#ffff00"/>
<rect x="549.26" y="341.34" width="15.38" height="15.32" fill="#ffff00"/>
<rect x="564.34" y="341.34" width="15.38" height="15.32" fill="#ffff00"/>
<rect x="579.42" y="341.34" width="15.38" height="15.32" fill="#ffff00"/>
<rect x="594.5" y="341.34" width="15.38" height="15.32" fill="#ffff00"/>
<rect x="609.58" y="341.34" width="15.38" height="15.32" fill="#ffff00"/>
<rect x="624.66" y="341.34" width="15.38" height="15.32" fill="#ffff00"/>
<rect x="519.1" y="236.2" width="120.64" height="120.16" fill="none" stroke="#333" stroke-width="0.6"/>
<text x="0" y="0" font-size="8.37" text-anchor="end" fill="#231f20" transform="translate(515 247.01) scale(0.94 1)" stroke="#231f20" stroke-width="0.12">>0–0.05</text>
<text x="0" y="0" font-size="8.37" text-anchor="start" fill="#231f20" transform="translate(643.6 247.01) scale(0.94 1)" stroke="#231f20" stroke-width="0.12">79.46</text>
<text x="0" y="0" font-size="8.37" text-anchor="end" fill="#231f20" transform="translate(515 262.03) scale(0.94 1)" stroke="#231f20" stroke-width="0.12">0.05–0.10</text>
<text x="0" y="0" font-size="8.37" text-anchor="start" fill="#231f20" transform="translate(643.6 262.03) scale(0.94 1)" stroke="#231f20" stroke-width="0.12">9.13</text>
<text x="0" y="0" font-size="8.37" text-anchor="end" fill="#231f20" transform="translate(515 277.05) scale(0.94 1)" stroke="#231f20" stroke-width="0.12">0.10–0.15</text>
<text x="0" y="0" font-size="8.37" text-anchor="start" fill="#231f20" transform="translate(643.6 277.05) scale(0.94 1)" stroke="#231f20" stroke-width="0.12">3.92</text>
<text x="0" y="0" font-size="8.37" text-anchor="end" fill="#231f20" transform="translate(515 292.07) scale(0.94 1)" stroke="#231f20" stroke-width="0.12">0.15–0.20</text>
<text x="0" y="0" font-size="8.37" text-anchor="start" fill="#231f20" transform="translate(643.6 292.07) scale(0.94 1)" stroke="#231f20" stroke-width="0.12">3.11</text>
<text x="0" y="0" font-size="8.37" text-anchor="end" fill="#231f20" transform="translate(515 307.09) scale(0.94 1)" stroke="#231f20" stroke-width="0.12">0.20–0.40</text>
<text x="0" y="0" font-size="8.37" text-anchor="start" fill="#231f20" transform="translate(643.6 307.09) scale(0.94 1)" stroke="#231f20" stroke-width="0.12">3.50</text>
<text x="0" y="0" font-size="8.37" text-anchor="end" fill="#231f20" transform="translate(515 322.11) scale(0.94 1)" stroke="#231f20" stroke-width="0.12">0.40–0.60</text>
<text x="0" y="0" font-size="8.37" text-anchor="start" fill="#231f20" transform="translate(643.6 322.11) scale(0.94 1)" stroke="#231f20" stroke-width="0.12">0.86</text>
<text x="0" y="0" font-size="8.37" text-anchor="end" fill="#231f20" transform="translate(515 337.13) scale(0.94 1)" stroke="#231f20" stroke-width="0.12">0.60–0.80</text>
<text x="0" y="0" font-size="8.37" text-anchor="start" fill="#231f20" transform="translate(643.6 337.13) scale(0.94 1)" stroke="#231f20" stroke-width="0.12">0.01</text>
<text x="0" y="0" font-size="8.37" text-anchor="end" fill="#231f20" transform="translate(515 352.15) scale(0.94 1)" stroke="#231f20" stroke-width="0.12">0.80–1.00</text>
<text x="0" y="0" font-size="8.37" text-anchor="start" fill="#231f20" transform="translate(643.6 352.15) scale(0.94 1)" stroke="#231f20" stroke-width="0.12">0</text>
<text x="0" y="0" font-size="8.37" text-anchor="start" fill="#231f20" transform="translate(641.5 235.5) scale(0.94 1)" stroke="#231f20" stroke-width="0.12">Total (%)</text>
<text x="0" y="0" font-size="8.37" text-anchor="middle" fill="#231f20" transform="translate(474.7 296.3) rotate(-90) scale(0.94 1)" stroke="#231f20" stroke-width="0.12">Wild</text>
<text x="0" y="0" font-size="8.37" text-anchor="end" fill="#231f20" transform="translate(529.44 361.6) rotate(-90) scale(0.94 1)" stroke="#231f20" stroke-width="0.12">>0–0.05</text>
<text x="0" y="0" font-size="8.37" text-anchor="end" fill="#231f20" transform="translate(544.52 361.6) rotate(-90) scale(0.94 1)" stroke="#231f20" stroke-width="0.12">0.05–0.10</text>
<text x="0" y="0" font-size="8.37" text-anchor="end" fill="#231f20" transform="translate(559.6 361.6) rotate(-90) scale(0.94 1)" stroke="#231f20" stroke-width="0.12">0.10–0.15</text>
<text x="0" y="0" font-size="8.37" text-anchor="end" fill="#231f20" transform="translate(574.68 361.6) rotate(-90) scale(0.94 1)" stroke="#231f20" stroke-width="0.12">0.15–0.20</text>
<text x="0" y="0" font-size="8.37" text-anchor="end" fill="#231f20" transform="translate(589.76 361.6) rotate(-90) scale(0.94 1)" stroke="#231f20" stroke-width="0.12">0.20–0.40</text>
<text x="0" y="0" font-size="8.37" text-anchor="end" fill="#231f20" transform="translate(604.84 361.6) rotate(-90) scale(0.94 1)" stroke="#231f20" stroke-width="0.12">0.40–0.60</text>
<text x="0" y="0" font-size="8.37" text-anchor="end" fill="#231f20" transform="translate(619.92 361.6) rotate(-90) scale(0.94 1)" stroke="#231f20" stroke-width="0.12">0.60–0.80</text>
<text x="0" y="0" font-size="8.37" text-anchor="end" fill="#231f20" transform="translate(635 361.6) rotate(-90) scale(0.94 1)" stroke="#231f20" stroke-width="0.12">0.80–1.00</text>
<text x="0" y="0" font-size="8.37" text-anchor="middle" fill="#231f20" transform="translate(580 409.1) scale(0.94 1)" stroke="#231f20" stroke-width="0.12">Domesticated</text>
<defs><linearGradient id="cb" x1="0" y1="1" x2="0" y2="0"><stop offset="0" stop-color="#ffff00"/><stop offset="0.35" stop-color="#ffb000"/><stop offset="0.7" stop-color="#ff5000"/><stop offset="1" stop-color="#ff1000"/></linearGradient></defs>
<rect x="647.4" y="362.6" width="6.3" height="38.8" fill="url(#cb)" stroke="#444" stroke-width="0.5"/>
<line x1="647.4" y1="368" x2="648.8" y2="368" stroke="#444" stroke-width="0.5"/>
<line x1="652.3" y1="368" x2="653.7" y2="368" stroke="#444" stroke-width="0.5"/>
<text x="0" y="0" font-size="8.37" text-anchor="start" fill="#231f20" transform="translate(656.5 371.3) scale(0.94 1)" stroke="#231f20" stroke-width="0.12">3</text>
<line x1="647.4" y1="378.8" x2="648.8" y2="378.8" stroke="#444" stroke-width="0.5"/>
<line x1="652.3" y1="378.8" x2="653.7" y2="378.8" stroke="#444" stroke-width="0.5"/>
<text x="0" y="0" font-size="8.37" text-anchor="start" fill="#231f20" transform="translate(656.5 382.1) scale(0.94 1)" stroke="#231f20" stroke-width="0.12">2</text>
<line x1="647.4" y1="390.1" x2="648.8" y2="390.1" stroke="#444" stroke-width="0.5"/>
<line x1="652.3" y1="390.1" x2="653.7" y2="390.1" stroke="#444" stroke-width="0.5"/>
<text x="0" y="0" font-size="8.37" text-anchor="start" fill="#231f20" transform="translate(656.5 393.4) scale(0.94 1)" stroke="#231f20" stroke-width="0.12">1</text>
<text x="0" y="0" font-size="8.37" text-anchor="start" fill="#231f20" transform="translate(656.5 404.3) scale(0.94 1)" stroke="#231f20" stroke-width="0.12">0</text>
<text x="672.7" y="411.3" font-size="7.9" fill="#231f20" stroke="#231f20" stroke-width="0.12" transform="rotate(-90 672.7 411.3)">log<tspan font-size="5.4" dy="1.8">10</tspan><tspan dy="-1.8"> (proportion</tspan></text>
<text x="684.3" y="382" font-size="7.9" fill="#231f20" stroke="#231f20" stroke-width="0.12" text-anchor="middle" transform="rotate(-90 684.3 382)">× 10<tspan font-size="5.4" dy="-3">4</tspan><tspan dy="3">)</tspan></text>
<text x="239" y="427.55" font-size="10" text-anchor="start" font-weight="bold" fill="#000" stroke="#000" stroke-width="0.35">g</text>
<line x1="265.4" y1="425.1" x2="265.4" y2="556.4" stroke="#4d4d4d" stroke-width="0.7"/>
<line x1="261.4" y1="556.4" x2="265.4" y2="556.4" stroke="#4d4d4d" stroke-width="0.6"/>
<line x1="263.4" y1="538.95" x2="265.4" y2="538.95" stroke="#4d4d4d" stroke-width="0.6"/>
<line x1="261.4" y1="521.5" x2="265.4" y2="521.5" stroke="#4d4d4d" stroke-width="0.6"/>
<line x1="263.4" y1="504.05" x2="265.4" y2="504.05" stroke="#4d4d4d" stroke-width="0.6"/>
<line x1="261.4" y1="486.6" x2="265.4" y2="486.6" stroke="#4d4d4d" stroke-width="0.6"/>
<line x1="263.4" y1="469.15" x2="265.4" y2="469.15" stroke="#4d4d4d" stroke-width="0.6"/>
<line x1="261.4" y1="451.7" x2="265.4" y2="451.7" stroke="#4d4d4d" stroke-width="0.6"/>
<line x1="263.4" y1="434.25" x2="265.4" y2="434.25" stroke="#4d4d4d" stroke-width="0.6"/>
<text x="0" y="0" font-size="8.37" text-anchor="end" fill="#231f20" transform="translate(257.8 559.7) scale(0.94 1)" stroke="#231f20" stroke-width="0.12">0</text>
<text x="0" y="0" font-size="8.37" text-anchor="end" fill="#231f20" transform="translate(257.8 524.8) scale(0.94 1)" stroke="#231f20" stroke-width="0.12">2</text>
<text x="0" y="0" font-size="8.37" text-anchor="end" fill="#231f20" transform="translate(257.8 489.9) scale(0.94 1)" stroke="#231f20" stroke-width="0.12">4</text>
<text x="0" y="0" font-size="8.37" text-anchor="end" fill="#231f20" transform="translate(257.8 455) scale(0.94 1)" stroke="#231f20" stroke-width="0.12">6</text>
<text x="0" y="0" font-size="8.37" text-anchor="middle" fill="#231f20" transform="translate(247 491.3) rotate(-90) scale(0.94 1)" stroke="#231f20" stroke-width="0.12">Shannon index</text>
<line x1="265.4" y1="538.95" x2="670.8" y2="538.95" stroke="#666" stroke-width="0.65" stroke-dasharray="2.4 1.8"/>
<path d="M265.4 426.2 L266 433.92 L266.6 436.38 L267.2 440.26 L267.8 438.71 L268.4 448.79 L269 442.51 L269.6 450.5 L270.2 450.35 L270.8 453.94 L271.4 452.86 L272 463.91 L272.6 463.02 L273.2 466.21 L273.8 466.79 L274.4 476.37 L275 473.77 L275.6 469.88 L276.2 465.37 L276.8 464.8 L277.4 469.27 L278 464.83 L278.6 465.64 L279.2 466.4 L279.8 465.36 L280.4 468.81 L281 467.4 L281.6 469.1 L282.2 467.67 L282.8 466.4 L283.4 469.72 L284 469.6 L284.6 470.75 L285.2 471.32 L285.8 471.15 L286.4 469.87 L287 472.42 L287.6 468.54 L288.2 464.49 L288.8 465.76 L289.4 467.06 L290 467.83 L290.6 466.61 L291.2 459.71 L291.8 462.08 L292.4 462.28 L293 459.04 L293.6 453.35 L294.2 456.64 L294.8 455.81 L295.4 455.81 L296 456.16 L296.6 456.64 L297.2 455.51 L297.8 455.05 L298.4 453.92 L299 453.34 L299.6 451.87 L300.2 453.13 L300.8 451.57 L301.4 455.1 L302 450.34 L302.6 451.82 L303.2 452.81 L303.8 449.85 L304.4 449.95 L305 446.04 L305.6 445.13 L306.2 444.16 L306.8 452.83 L307.4 453.48 L308 450.42 L308.6 446.52 L309.2 442.49 L309.8 441.36 L310.4 446.52 L311 444.72 L311.6 444.24" fill="none" stroke="#1f8a1f" stroke-width="0.65" stroke-linejoin="round"/>
<path d="M265.4 481.19 L266 491.45 L266.6 496.58 L267.2 507.21 L267.8 503.51 L268.4 507.9 L269 512.03 L269.6 513.16 L270.2 513.53 L270.8 516.91 L271.4 515.64 L272 516.92 L272.6 519.31 L273.2 526.3 L273.8 540.15 L274.4 547.43 L275 548.35 L275.6 550.14 L276.2 554.81 L276.8 556.05 L277.4 552.02 L278 556.05 L278.6 553.41 L279.2 551.29 L279.8 553.87 L280.4 555.29 L281 553.31 L281.6 556.05 L282.2 555.57 L282.8 556.05 L283.4 555.43 L284 556.05 L284.6 555.18 L285.2 555.62 L285.8 553.73 L286.4 550.79 L287 547.13 L287.6 541.03 L288.2 545.3 L288.8 528.64 L289.4 525.55 L290 527.75 L290.6 524.2 L291.2 522.88 L291.8 519.57 L292.4 522.46 L293 515.83 L293.6 513.06 L294.2 515.03 L294.8 516.03 L295.4 513.43 L296 515.55 L296.6 516.84 L297.2 520.82 L297.8 523.65 L298.4 526.86 L299 526.27 L299.6 529.31 L300.2 523.65 L300.8 518.47 L301.4 520.24 L302 509.15 L302.6 512.13 L303.2 507.23 L303.8 498.12 L304.4 510.66 L305 517.57 L305.6 520.92 L306.2 544.7 L306.8 537.78 L307.4 519.27 L308 510.28 L308.6 507.45 L309.2 509.34 L309.8 511.59 L310.4 513.67 L311 512.2 L311.6 513.12" fill="none" stroke="#ff2a2a" stroke-width="0.6" stroke-linejoin="round"/>
<path d="M316.7 457.71 L317.3 451.49 L317.9 450.81 L318.5 436.84 L319.1 445.36 L319.7 445.15 L320.3 444.05 L320.9 449.97 L321.5 451.5 L322.1 453.11 L322.7 451.77 L323.3 449.8 L323.9 456.89 L324.5 461.5 L325.1 459.72 L325.7 464.28 L326.3 463.43 L326.9 459.68 L327.5 462.99 L328.1 460.23 L328.7 461.2 L329.3 458.71 L329.9 457.14 L330.5 459.32 L331.1 457.2 L331.7 456.33 L332.3 457.55 L332.9 461 L333.5 463.74 L334.1 463.07 L334.7 465.54 L335.3 462.07 L335.9 471.48 L336.5 468.96 L337.1 468.78 L337.7 467.86 L338.3 468.82 L338.9 470.28 L339.5 469.51 L340.1 469.04 L340.7 470 L341.3 468.98 L341.9 471.76 L342.5 468.17 L343.1 466.69 L343.7 470.42 L344.3 467.9 L344.9 468.81 L345.5 470.43 L346.1 467.98 L346.7 465.55 L347.3 469.89 L347.9 471.41 L348.5 472.25 L349.1 472.62 L349.7 471.62 L350.3 476.75 L350.9 474.95 L351.5 476.41 L352.1 481.91 L352.7 479.43 L353.3 478.17 L353.9 477.01 L354.5 475.57 L355.1 476.91 L355.7 473.71 L356.3 473.39 L356.9 473.09 L357.5 470.02 L358.1 468.66 L358.7 468.86 L359.3 466.11 L359.9 466.14 L360.5 464.46 L361.1 464.43 L361.7 460.47 L362.3 463.58 L362.9 459.75 L363.5 457.75 L364.1 459.33 L364.7 456.26 L365.3 454.94 L365.9 452.83 L366.5 451.2 L367.1 451.69 L367.7 453.3 L368.3 446.09 L368.9 445.47 L369.5 448.32 L370.1 445.39 L370.7 443.62 L371.3 441.5 L371.9 440.63 L372.5 436.2 L373.1 443.55 L373.7 441.28 L374.3 446.81 L374.9 452.19" fill="none" stroke="#1f8a1f" stroke-width="0.65" stroke-linejoin="round"/>
<path d="M316.7 491.91 L317.3 491.78 L317.9 485.85 L318.5 492.24 L319.1 490.66 L319.7 502.32 L320.3 503.29 L320.9 508.91 L321.5 512.87 L322.1 503.02 L322.7 513.13 L323.3 510.57 L323.9 509.25 L324.5 516.13 L325.1 509.81 L325.7 515.12 L326.3 513.18 L326.9 519.78 L327.5 520.91 L328.1 515.05 L328.7 517.42 L329.3 518.83 L329.9 517.83 L330.5 518.54 L331.1 523.3 L331.7 525.64 L332.3 523.55 L332.9 523.24 L333.5 525.63 L334.1 526.04 L334.7 529.85 L335.3 531.3 L335.9 533.29 L336.5 534.16 L337.1 534.12 L337.7 533.83 L338.3 535.3 L338.9 535.06 L339.5 534.24 L340.1 535.26 L340.7 535.25 L341.3 534.74 L341.9 532.96 L342.5 534.28 L343.1 535.14 L343.7 535.49 L344.3 534.93 L344.9 532.01 L345.5 538.81 L346.1 534.22 L346.7 534.64 L347.3 529.59 L347.9 531.71 L348.5 519.09 L349.1 526.11 L349.7 532.96 L350.3 536.28 L350.9 536.9 L351.5 531.79 L352.1 529.35 L352.7 523.35 L353.3 526.06 L353.9 530.39 L354.5 531.36 L355.1 534.79 L355.7 533.63 L356.3 533.83 L356.9 522 L357.5 523.44 L358.1 521.55 L358.7 520.81 L359.3 520.88 L359.9 520.17 L360.5 532.82 L361.1 530.22 L361.7 535.99 L362.3 542.45 L362.9 531.08 L363.5 521.47 L364.1 514.05 L364.7 514.89 L365.3 514.64 L365.9 509.26 L366.5 506.76 L367.1 501.15 L367.7 506.61 L368.3 507.7 L368.9 504.61 L369.5 505.11 L370.1 503.79 L370.7 504.46 L371.3 505.27 L371.9 504.27 L372.5 500.78 L373.1 501.34 L373.7 503.89 L374.3 497.83 L374.9 503.38" fill="none" stroke="#ff2a2a" stroke-width="0.6" stroke-linejoin="round"/>
<path d="M379.8 452.7 L380.4 451.47 L381 447.95 L381.6 448.09 L382.2 444.86 L382.8 446.33 L383.4 447 L384 452.72 L384.6 455.87 L385.2 461.33 L385.8 462.56 L386.4 456.89 L387 456.22 L387.6 453.67 L388.2 456.76 L388.8 457.49 L389.4 457.58 L390 459.63 L390.6 453.66 L391.2 458.16 L391.8 458.13 L392.4 456.85 L393 454.54 L393.6 458.9 L394.2 463.29 L394.8 463.77 L395.4 461.75 L396 464.55 L396.6 466.95 L397.2 466.75 L397.8 465.55 L398.4 463.46 L399 471.13 L399.6 470.09 L400.2 470.86 L400.8 474.9 L401.4 471.87 L402 471.23 L402.6 469.54 L403.2 471.32 L403.8 473.34 L404.4 471.52 L405 473.04 L405.6 474.95 L406.2 474.28 L406.8 474.77 L407.4 475.56 L408 474.94 L408.6 479.67 L409.2 474.75 L409.8 471.4 L410.4 471.33 L411 470.32 L411.6 469.39 L412.2 465.33 L412.8 468.02 L413.4 460.33 L414 460.93 L414.6 459.2 L415.2 460.09 L415.8 456.61 L416.4 455.87 L417 456.99 L417.6 454.53 L418.2 456.58 L418.8 455.29 L419.4 454.51 L420 456.66 L420.6 452.64 L421.2 448.62 L421.8 454.74 L422.4 449.76 L423 451.58 L423.6 446.65 L424.2 449 L424.8 448 L425.4 447.51 L426 447.83 L426.6 451.75 L427.2 446 L427.8 452.83 L428.4 449.74 L429 449.46 L429.6 453.32 L430.2 449.87 L430.8 444.54 L431.4 444.23 L432 443.18 L432.6 445.92 L433.2 440.8 L433.8 439.22 L434.4 438.34" fill="none" stroke="#1f8a1f" stroke-width="0.65" stroke-linejoin="round"/>
<path d="M379.8 513.54 L380.4 502.21 L381 497.19 L381.6 502.21 L382.2 506.12 L382.8 515.21 L383.4 521.79 L384 532.02 L384.6 527.55 L385.2 526.05 L385.8 533.88 L386.4 552.3 L387 545.09 L387.6 535.62 L388.2 530.84 L388.8 530.96 L389.4 529.95 L390 521.55 L390.6 522.86 L391.2 521.63 L391.8 521.3 L392.4 512.23 L393 509.89 L393.6 515.37 L394.2 513.91 L394.8 514.02 L395.4 520.43 L396 517.33 L396.6 512.88 L397.2 521.53 L397.8 515.88 L398.4 512.2 L399 519.45 L399.6 518.46 L400.2 517.71 L400.8 517.44 L401.4 517.68 L402 520.18 L402.6 519.34 L403.2 518.35 L403.8 518.98 L404.4 517.25 L405 519.18 L405.6 519.34 L406.2 516.65 L406.8 518.88 L407.4 518.94 L408 514.14 L408.6 514.58 L409.2 511.74 L409.8 512.26 L410.4 514.25 L411 514.19 L411.6 514.23 L412.2 507.81 L412.8 504.78 L413.4 509.4 L414 506.49 L414.6 510.68 L415.2 516.73 L415.8 520.39 L416.4 523.89 L417 525.62 L417.6 520.06 L418.2 514.37 L418.8 510.76 L419.4 515.06 L420 517.36 L420.6 516.35 L421.2 514.24 L421.8 521.4 L422.4 519.22 L423 516.52 L423.6 512.01 L424.2 516.15 L424.8 513.69 L425.4 518.22 L426 515.86 L426.6 520.67 L427.2 523.92 L427.8 523.38 L428.4 531.89 L429 528.49 L429.6 516.89 L430.2 510.05 L430.8 505.54 L431.4 506.16 L432 491.98 L432.6 492.14 L433.2 498.37 L433.8 507.17 L434.4 503.65 L435 505.27" fill="none" stroke="#ff2a2a" stroke-width="0.6" stroke-linejoin="round"/>
<path d="M439.6 440.77 L440.2 441.11 L440.8 445.86 L441.4 443.38 L442 447.26 L442.6 451.27 L443.2 450.5 L443.8 449.38 L444.4 451.77 L445 456.91 L445.6 454.69 L446.2 458.07 L446.8 458.69 L447.4 460.85 L448 466.27 L448.6 464.88 L449.2 469.09 L449.8 466.24 L450.4 470.15 L451 471.57 L451.6 472.71 L452.2 469.17 L452.8 467.74 L453.4 469.66 L454 460.69 L454.6 464.73 L455.2 463.41 L455.8 466.27 L456.4 463.47 L457 466.53 L457.6 465.8 L458.2 464.58 L458.8 465.09 L459.4 467.54 L460 466.27 L460.6 464.28 L461.2 463.01 L461.8 464.2 L462.4 465.42 L463 464.32 L463.6 466.3 L464.2 464.62 L464.8 466.51 L465.4 465.15 L466 465.27 L466.6 464.32 L467.2 465.45 L467.8 463.91 L468.4 465.34 L469 464.28 L469.6 464.33 L470.2 469.31 L470.8 465.41 L471.4 465.77 L472 467.97 L472.6 466.16 L473.2 470.22 L473.8 466.02 L474.4 466.48 L475 464.77 L475.6 456.39 L476.2 457.76 L476.8 457.15 L477.4 458.14 L478 454.98 L478.6 457.02 L479.2 451.13 L479.8 454.66 L480.4 452.43 L481 448.07 L481.6 449.74 L482.2 451.62 L482.8 448.84 L483.4 451.89 L484 450.44 L484.6 453.02 L485.2 455.94 L485.8 453.73 L486.4 453.41 L487 457.14 L487.6 458.74 L488.2 456.43 L488.8 459.61 L489.4 454.57 L490 454.62 L490.6 446.57 L491.2 450.55 L491.8 449.15 L492.4 440.05 L493 438.81" fill="none" stroke="#1f8a1f" stroke-width="0.65" stroke-linejoin="round"/>
<path d="M439.6 473.02 L440.2 493.56 L440.8 509.73 L441.4 514.17 L442 520.79 L442.6 516.01 L443.2 521.82 L443.8 516.72 L444.4 518.24 L445 513.03 L445.6 515.95 L446.2 518.3 L446.8 526.03 L447.4 525.92 L448 532.96 L448.6 535.54 L449.2 537.03 L449.8 537.04 L450.4 538.28 L451 540.33 L451.6 539.39 L452.2 536.83 L452.8 536.58 L453.4 536.19 L454 538.47 L454.6 538.98 L455.2 536.58 L455.8 536.65 L456.4 537.74 L457 537.78 L457.6 539.49 L458.2 538.07 L458.8 536.16 L459.4 538.99 L460 538.44 L460.6 538.06 L461.2 538.29 L461.8 540.17 L462.4 538.52 L463 538.59 L463.6 538.26 L464.2 538.35 L464.8 537.83 L465.4 539.08 L466 535.69 L466.6 538.2 L467.2 535.95 L467.8 535.94 L468.4 537.6 L469 539.23 L469.6 540.46 L470.2 541.97 L470.8 538.51 L471.4 537.22 L472 539.83 L472.6 539.06 L473.2 530.06 L473.8 536.79 L474.4 539.03 L475 531.16 L475.6 532.04 L476.2 532.49 L476.8 521.68 L477.4 520.69 L478 516.28 L478.6 509.62 L479.2 512.59 L479.8 513.44 L480.4 507.15 L481 519.53 L481.6 518.73 L482.2 513.43 L482.8 516.03 L483.4 524.54 L484 529.29 L484.6 529.88 L485.2 528.63 L485.8 523.01 L486.4 518.74 L487 514.98 L487.6 512.15 L488.2 514.92 L488.8 518.54 L489.4 522.9 L490 520.76 L490.6 520.43 L491.2 507.93 L491.8 501.65 L492.4 502.22 L493 499.42" fill="none" stroke="#ff2a2a" stroke-width="0.6" stroke-linejoin="round"/>
<path d="M498.1 439.88 L498.7 444.22 L499.3 440.54 L499.9 448.58 L500.5 446.54 L501.1 443.49 L501.7 456.99 L502.3 462.96 L502.9 462.07 L503.5 464.13 L504.1 466.96 L504.7 465.6 L505.3 467.17 L505.9 466.21 L506.5 472.58 L507.1 471.61 L507.7 469.5 L508.3 470 L508.9 479.73 L509.5 476.94 L510.1 479.95 L510.7 478.45 L511.3 477.26 L511.9 475.02 L512.5 472.97 L513.1 473.41 L513.7 474.22 L514.3 474.81 L514.9 474.58 L515.5 474.84 L516.1 474.07 L516.7 475.68 L517.3 475.21 L517.9 475.6 L518.5 475.67 L519.1 475.16 L519.7 475.45 L520.3 473.04 L520.9 476.94 L521.5 474.12 L522.1 479.28 L522.7 480.59 L523.3 477.89 L523.9 473.6 L524.5 470.09 L525.1 464.06 L525.7 461.55 L526.3 461 L526.9 460.87 L527.5 458.33 L528.1 454.25 L528.7 459.05 L529.3 464.62 L529.9 465.3 L530.5 465.66 L531.1 459.4 L531.7 459.91 L532.3 452.19 L532.9 453.91 L533.5 455.35 L534.1 456.86 L534.7 453.9 L535.3 456.88 L535.9 458.44 L536.5 455.22 L537.1 454.97 L537.7 450.8 L538.3 452.15 L538.9 456.97 L539.5 448.08 L540.1 453.52 L540.7 445.16 L541.3 443.9 L541.9 448.39 L542.5 449.46 L543.1 451.74 L543.7 448.35 L544.3 452.55 L544.9 455.21 L545.5 451.93 L546.1 443.33 L546.7 443.96 L547.3 439.74 L547.9 439.36 L548.5 439.11 L549.1 439.3 L549.7 443.62 L550.3 450.27 L550.9 463.02" fill="none" stroke="#1f8a1f" stroke-width="0.65" stroke-linejoin="round"/>
<path d="M498.1 506.32 L498.7 499.76 L499.3 496.4 L499.9 494.75 L500.5 500.72 L501.1 513.29 L501.7 513.21 L502.3 514.98 L502.9 514.58 L503.5 516.83 L504.1 517.83 L504.7 518.04 L505.3 518.86 L505.9 521.4 L506.5 523.76 L507.1 520.14 L507.7 521.9 L508.3 516.61 L508.9 518.8 L509.5 520.3 L510.1 520.52 L510.7 521.79 L511.3 520.56 L511.9 522.29 L512.5 520.58 L513.1 523.5 L513.7 522.79 L514.3 519.68 L514.9 519.66 L515.5 519.96 L516.1 523.91 L516.7 523.56 L517.3 523.54 L517.9 523.89 L518.5 521.53 L519.1 522.47 L519.7 521.9 L520.3 522.55 L520.9 522.97 L521.5 519.44 L522.1 521.3 L522.7 523.35 L523.3 520.61 L523.9 523.02 L524.5 521.53 L525.1 513.97 L525.7 517.26 L526.3 512.93 L526.9 513.51 L527.5 514.76 L528.1 521.01 L528.7 530.7 L529.3 519.99 L529.9 523.06 L530.5 516.16 L531.1 513.24 L531.7 518.74 L532.3 518.31 L532.9 519.24 L533.5 515.47 L534.1 514.19 L534.7 516.54 L535.3 511.17 L535.9 510.67 L536.5 505.52 L537.1 510.54 L537.7 506.53 L538.3 511.91 L538.9 525.22 L539.5 514.85 L540.1 517.24 L540.7 520.17 L541.3 505.3 L541.9 508.36 L542.5 510.72 L543.1 514.32 L543.7 511.94 L544.3 508.36 L544.9 507.24 L545.5 506.13 L546.1 502.84 L546.7 502.32 L547.3 503.98 L547.9 498.56 L548.5 496.24 L549.1 497.72 L549.7 512.06 L550.3 514.9 L550.9 503.82" fill="none" stroke="#ff2a2a" stroke-width="0.6" stroke-linejoin="round"/>
<path d="M555.5 452.41 L556.1 444.75 L556.7 440.61 L557.3 439.15 L557.9 445.29 L558.5 440.1 L559.1 442.15 L559.7 450.79 L560.3 446.86 L560.9 454.78 L561.5 451.06 L562.1 458.89 L562.7 459.49 L563.3 454.39 L563.9 455.42 L564.5 453.85 L565.1 455.44 L565.7 457.43 L566.3 457.1 L566.9 458.17 L567.5 458.77 L568.1 454.65 L568.7 461.02 L569.3 458.18 L569.9 454.44 L570.5 458.17 L571.1 452.97 L571.7 456.29 L572.3 459.7 L572.9 459.47 L573.5 463.4 L574.1 466.81 L574.7 462.1 L575.3 462.11 L575.9 464.18 L576.5 464.69 L577.1 469.66 L577.7 466.93 L578.3 465.52 L578.9 464.62 L579.5 463.26 L580.1 465.01 L580.7 465.09 L581.3 463.14 L581.9 464.05 L582.5 465.14 L583.1 462.31 L583.7 464.24 L584.3 463.75 L584.9 464.05 L585.5 461.12 L586.1 456.71 L586.7 457.21 L587.3 452.66 L587.9 451.82 L588.5 442.6 L589.1 441.64 L589.7 445.66 L590.3 446.58 L590.9 449.12 L591.5 453.28 L592.1 456.6 L592.7 455.87 L593.3 454.48 L593.9 455.75 L594.5 461.45 L595.1 461.24 L595.7 467.31 L596.3 472.59 L596.9 459.94 L597.5 450.76 L598.1 451.16 L598.7 448.06 L599.3 446.66 L599.9 449.06 L600.5 450.56 L601.1 448.44 L601.7 448.82 L602.3 446.33 L602.9 445.34 L603.5 444.02 L604.1 442.03 L604.7 444.27 L605.3 440.29 L605.9 440.56" fill="none" stroke="#1f8a1f" stroke-width="0.65" stroke-linejoin="round"/>
<path d="M556 498.98 L556.6 503.99 L557.2 501.77 L557.8 500.31 L558.4 509.81 L559 515.05 L559.6 522.76 L560.2 513.19 L560.8 511.07 L561.4 502.85 L562 509.48 L562.6 510.18 L563.2 518.09 L563.8 518.05 L564.4 514.71 L565 507.02 L565.6 511.58 L566.2 514.01 L566.8 512.4 L567.4 501.66 L568 508.87 L568.6 508.08 L569.2 506.71 L569.8 502.63 L570.4 504.78 L571 504.7 L571.6 505.75 L572.2 507.72 L572.8 505.55 L573.4 506.69 L574 509.47 L574.6 508.57 L575.2 503.85 L575.8 504.09 L576.4 504.63 L577 504.75 L577.6 505.15 L578.2 506.8 L578.8 506.93 L579.4 506.33 L580 506.25 L580.6 506.55 L581.2 507.33 L581.8 505.07 L582.4 505.27 L583 504.16 L583.6 504.14 L584.2 507.2 L584.8 505.85 L585.4 506.65 L586 504.02 L586.6 497.75 L587.2 497.16 L587.8 498.04 L588.4 489.89 L589 484.3 L589.6 496.04 L590.2 505.66 L590.8 514.33 L591.4 504.14 L592 507.1 L592.6 501.78 L593.2 505.85 L593.8 512.45 L594.4 510.42 L595 518 L595.6 529.45 L596.2 529.41 L596.8 527.62 L597.4 523.39 L598 513.28 L598.6 504.87 L599.2 507.43 L599.8 514.15 L600.4 516.77 L601 520.8 L601.6 522.03 L602.2 514.47 L602.8 510.85 L603.4 505.96 L604 501.28 L604.6 500.36 L605.2 499.73 L605.8 491.07" fill="none" stroke="#ff2a2a" stroke-width="0.6" stroke-linejoin="round"/>
<path d="M611 449.09 L611.6 450.62 L612.2 446.13 L612.8 441.92 L613.4 441.27 L614 440.65 L614.6 441.83 L615.2 446.98 L615.8 441.87 L616.4 444.54 L617 449.15 L617.6 449.95 L618.2 450.25 L618.8 453.27 L619.4 454.4 L620 458.32 L620.6 454.94 L621.2 456.03 L621.8 455.28 L622.4 458.96 L623 451.35 L623.6 454.34 L624.2 455.16 L624.8 451.17 L625.4 458.32 L626 463.13 L626.6 461.98 L627.2 467.48 L627.8 462.41 L628.4 468.87 L629 472.14 L629.6 469.31 L630.2 476.79 L630.8 472.18 L631.4 477.49 L632 473.72 L632.6 474.37 L633.2 468.03 L633.8 467.64 L634.4 472.7 L635 470.35 L635.6 472.48 L636.2 469.59 L636.8 471.4 L637.4 472.38 L638 471.41 L638.6 465.26 L639.2 460.24 L639.8 465.95 L640.4 468.97 L641 464.67 L641.6 469.55 L642.2 470.25 L642.8 470.31 L643.4 471.58 L644 472.38 L644.6 475.32 L645.2 471.33 L645.8 470.85 L646.4 466.09 L647 467.81 L647.6 469.46 L648.2 464.37 L648.8 459.3 L649.4 463.04 L650 463.19 L650.6 462.89 L651.2 461.58 L651.8 459.54 L652.4 461.34 L653 455.07 L653.6 458.91 L654.2 457.83 L654.8 454.61 L655.4 454.19 L656 457.78 L656.6 456.24 L657.2 455.02 L657.8 459.06 L658.4 465.71 L659 458.77 L659.6 454.56 L660.2 451.98 L660.8 452.07 L661.4 448.9 L662 448.28 L662.6 446.1 L663.2 440.97 L663.8 438.8 L664.4 438.99 L665 437.51 L665.6 435.46 L666.2 438.29 L666.8 445.76 L667.4 454.45" fill="none" stroke="#1f8a1f" stroke-width="0.65" stroke-linejoin="round"/>
<path d="M611 491.24 L611.6 498.1 L612.2 492.1 L612.8 491.56 L613.4 492.78 L614 490.99 L614.6 497.16 L615.2 498.44 L615.8 497.6 L616.4 501.38 L617 496.53 L617.6 501.82 L618.2 512.56 L618.8 510.23 L619.4 510.68 L620 519.49 L620.6 513.21 L621.2 515.53 L621.8 512.09 L622.4 504.56 L623 513.14 L623.6 516.39 L624.2 526.77 L624.8 533.57 L625.4 536.4 L626 535.62 L626.6 542.3 L627.2 543.6 L627.8 544.72 L628.4 536.93 L629 531.17 L629.6 531.7 L630.2 528.44 L630.8 525.57 L631.4 521.65 L632 519.87 L632.6 518.67 L633.2 517.65 L633.8 522.41 L634.4 525.04 L635 522.79 L635.6 510.43 L636.2 519.61 L636.8 522.17 L637.4 519.08 L638 520.75 L638.6 519.64 L639.2 519.86 L639.8 524.77 L640.4 524.74 L641 519.42 L641.6 525.29 L642.2 521.86 L642.8 524.17 L643.4 521.35 L644 520.32 L644.6 523.64 L645.2 518.02 L645.8 522.7 L646.4 522.28 L647 520.14 L647.6 518.55 L648.2 522.55 L648.8 530.08 L649.4 525.5 L650 523.95 L650.6 528.62 L651.2 535.95 L651.8 524.47 L652.4 524.18 L653 522.05 L653.6 518.76 L654.2 519.28 L654.8 520.09 L655.4 518.95 L656 517.4 L656.6 518.31 L657.2 524.4 L657.8 539.94 L658.4 537.98 L659 530.15 L659.6 528.43 L660.2 534.44 L660.8 538.67 L661.4 528.85 L662 527.48 L662.6 515.01 L663.2 523.03 L663.8 502.46 L664.4 499.91 L665 497.83 L665.6 495.09 L666.2 489.67 L666.8 510.51 L667.4 517.87" fill="none" stroke="#ff2a2a" stroke-width="0.6" stroke-linejoin="round"/>
<rect x="275.2" y="425.4" width="10.9" height="131.5" fill="#0078f0" fill-opacity="0.245"/>
<rect x="305.5" y="425.4" width="1.9" height="131.5" fill="#0078f0" fill-opacity="0.245"/>
<rect x="361.7" y="425.4" width="2.4" height="131.5" fill="#0078f0" fill-opacity="0.245"/>
<rect x="385.9" y="425.4" width="1.9" height="131.5" fill="#0078f0" fill-opacity="0.245"/>
<rect x="625.6" y="425.4" width="3" height="131.5" fill="#0078f0" fill-opacity="0.245"/>
<rect x="657.4" y="425.4" width="3.4" height="131.5" fill="#0078f0" fill-opacity="0.245"/>
<text x="0" y="0" font-size="8.9" text-anchor="middle" fill="#231f20" transform="translate(281.3 434.7) scale(0.94 1)" stroke="#231f20" stroke-width="0.12">1</text>
<text x="0" y="0" font-size="8.9" text-anchor="middle" fill="#231f20" transform="translate(306.4 434.7) scale(0.94 1)" stroke="#231f20" stroke-width="0.12">2</text>
<text x="0" y="0" font-size="8.9" text-anchor="middle" fill="#231f20" transform="translate(362.9 434.7) scale(0.94 1)" stroke="#231f20" stroke-width="0.12">3</text>
<text x="0" y="0" font-size="8.9" text-anchor="middle" fill="#231f20" transform="translate(386.9 434.7) scale(0.94 1)" stroke="#231f20" stroke-width="0.12">4</text>
<text x="0" y="0" font-size="8.9" text-anchor="middle" fill="#231f20" transform="translate(627.1 434.7) scale(0.94 1)" stroke="#231f20" stroke-width="0.12">5</text>
<text x="0" y="0" font-size="8.9" text-anchor="middle" fill="#231f20" transform="translate(654.2 434.7) scale(0.94 1)" stroke="#231f20" stroke-width="0.12">6</text>
<text x="0" y="0" font-size="8.9" text-anchor="middle" fill="#231f20" transform="translate(664 434.7) scale(0.94 1)" stroke="#231f20" stroke-width="0.12">7</text>
<text x="0" y="0" font-size="8.37" text-anchor="middle" fill="#231f20" transform="translate(286.2 569.8) scale(0.94 1)" stroke="#231f20" stroke-width="0.12">Chr. 1H</text>
<text x="0" y="0" font-size="8.37" text-anchor="middle" fill="#231f20" transform="translate(344.6 569.8) scale(0.94 1)" stroke="#231f20" stroke-width="0.12">Chr. 2H</text>
<text x="0" y="0" font-size="8.37" text-anchor="middle" fill="#231f20" transform="translate(403.6 569.8) scale(0.94 1)" stroke="#231f20" stroke-width="0.12">Chr. 3H</text>
<text x="0" y="0" font-size="8.37" text-anchor="middle" fill="#231f20" transform="translate(462 569.8) scale(0.94 1)" stroke="#231f20" stroke-width="0.12">Chr. 4H</text>
<text x="0" y="0" font-size="8.37" text-anchor="middle" fill="#231f20" transform="translate(520.2 569.8) scale(0.94 1)" stroke="#231f20" stroke-width="0.12">Chr. 5H</text>
<text x="0" y="0" font-size="8.37" text-anchor="middle" fill="#231f20" transform="translate(578.7 569.8) scale(0.94 1)" stroke="#231f20" stroke-width="0.12">Chr. 6H</text>
<text x="0" y="0" font-size="8.37" text-anchor="middle" fill="#231f20" transform="translate(637.7 569.8) scale(0.94 1)" stroke="#231f20" stroke-width="0.12">Chr. 7H</text>
<text x="0" y="223.95" font-size="10" text-anchor="start" font-weight="bold" fill="#000" stroke="#000" stroke-width="0.35">b</text>
<defs><clipPath id="hm"><rect x="24.3" y="229" width="99.7" height="311.2"/></clipPath></defs><g clip-path="url(#hm)">
<rect x="24.3" y="229" width="99.7" height="311.1" fill="#e6e6e6"/>
<g><rect x="99.9" y="249.71" width="4" height="1.4" fill="#a8a8ff"/><rect x="102.35" y="250.73" width="1" height="2" fill="#a8a8ff"/><rect x="107.71" y="258.34" width="0.8" height="1.4" fill="#a8a8ff"/><rect x="86.24" y="248.93" width="3" height="0.7" fill="#ffc898"/><rect x="123.22" y="264.7" width="3" height="2" fill="#ffc898"/><rect x="86.93" y="229.56" width="2" height="0.7" fill="#a05010"/><rect x="81.57" y="297.35" width="2" height="0.7" fill="#40f0f0"/><rect x="100.41" y="287.69" width="4" height="1" fill="#a8a8ff"/><rect x="90.28" y="284.47" width="0.8" height="0.7" fill="#a05010"/><rect x="108.81" y="286.95" width="2" height="0.7" fill="#ffd020"/><rect x="91.18" y="294.68" width="2" height="1" fill="#ff2020"/><rect x="83.09" y="294.86" width="1.6" height="0.7" fill="#40f0f0"/><rect x="92.8" y="279.47" width="0.8" height="0.7" fill="#a0a010"/><rect x="89.23" y="298.03" width="1.6" height="1.4" fill="#ffd020"/><rect x="97.49" y="279.61" width="3" height="1" fill="#40f0f0"/><rect x="109.7" y="285.41" width="1.2" height="1" fill="#ff2020"/><rect x="122.42" y="294.68" width="0.8" height="1" fill="#a0a010"/><rect x="111.11" y="278.24" width="1.6" height="1.4" fill="#a0a010"/><rect x="110.01" y="282.14" width="2" height="1" fill="#ffd020"/><rect x="113.86" y="287.22" width="1.6" height="0.7" fill="#a05010"/><rect x="98.51" y="282.68" width="1.2" height="2" fill="#ffc898"/><rect x="123.91" y="278.43" width="1" height="1.4" fill="#40f0f0"/><rect x="106.49" y="290.69" width="0.8" height="1" fill="#a0a010"/><rect x="99.43" y="278.21" width="2" height="1" fill="#40f0f0"/><rect x="93.04" y="279.61" width="0.8" height="1" fill="#a8a8ff"/><rect x="108.01" y="278.34" width="1.2" height="1" fill="#a8a8ff"/><rect x="99.94" y="299.1" width="1.6" height="2" fill="#a0a010"/><rect x="118.13" y="282.02" width="1" height="1" fill="#a0a010"/><rect x="115.98" y="283.49" width="1" height="1" fill="#ffd020"/><rect x="107.68" y="290.19" width="3" height="1.4" fill="#a05010"/><rect x="106.56" y="287.27" width="0.8" height="0.7" fill="#ff2020"/><rect x="102.54" y="283.61" width="3" height="1.4" fill="#ffc898"/><rect x="98.52" y="297.91" width="1.6" height="1" fill="#a8a8ff"/><rect x="87.72" y="293.85" width="0.8" height="1" fill="#a0a010"/><rect x="101.09" y="292.38" width="2" height="2" fill="#ff2020"/><rect x="92.33" y="298.18" width="1" height="0.7" fill="#ff2020"/><rect x="28.13" y="245.49" width="0.8" height="0.7" fill="#a8a8ff"/><rect x="28.31" y="248.65" width="1" height="0.7" fill="#606060"/><rect x="26.37" y="245.66" width="1.2" height="2" fill="#a8a8ff"/><rect x="32.46" y="263.17" width="1.6" height="1" fill="#606060"/><rect x="37.5" y="278.47" width="3" height="0.7" fill="#40f0f0"/><rect x="25.41" y="284.84" width="1" height="0.7" fill="#a8a8ff"/><rect x="30.62" y="286.09" width="0.8" height="1" fill="#ffc898"/><rect x="29.25" y="293.07" width="0.8" height="1.4" fill="#a8a8ff"/><rect x="36.16" y="290.6" width="2" height="1.4" fill="#40f0f0"/><rect x="32.37" y="291.4" width="0.8" height="0.7" fill="#30d030"/><rect x="26.06" y="283.66" width="1.6" height="1" fill="#40f0f0"/><rect x="37.11" y="293.27" width="1.6" height="1.4" fill="#40f0f0"/><rect x="35.82" y="279.84" width="4" height="2" fill="#a8a8ff"/><rect x="28.69" y="279.93" width="0.8" height="1" fill="#30d030"/><rect x="26.02" y="295.16" width="3" height="1.4" fill="#ffc898"/><rect x="36.6" y="286.09" width="1" height="2" fill="#ff2020"/><rect x="31.5" y="294.58" width="1.2" height="1.4" fill="#40f0f0"/><rect x="36.54" y="285.19" width="3" height="1" fill="#ff2020"/><rect x="33.06" y="295.68" width="4" height="1" fill="#ff2020"/><rect x="29.69" y="290.83" width="1.2" height="1" fill="#ff2020"/><rect x="26.32" y="285.72" width="4" height="0.7" fill="#30d030"/><rect x="25.37" y="299.57" width="4" height="1" fill="#a8a8ff"/><rect x="30.58" y="284.05" width="1" height="1.4" fill="#40f0f0"/><rect x="32.95" y="288.87" width="1.2" height="2" fill="#40f0f0"/><rect x="94.1" y="357.2" width="1.2" height="2" fill="#4a90f0"/><rect x="109.84" y="341.87" width="1.2" height="1" fill="#ff60c0"/><rect x="114.83" y="334.54" width="1" height="1.4" fill="#c0c080"/><rect x="88.36" y="355.54" width="1.2" height="1" fill="#60f0ff"/><rect x="115.06" y="361.55" width="0.8" height="1.4" fill="#4a90f0"/><rect x="107.72" y="352.34" width="4" height="1" fill="#4a90f0"/><rect x="110.12" y="339.58" width="1.6" height="1" fill="#60f0ff"/><rect x="111.43" y="355.14" width="2" height="0.7" fill="#60f0ff"/><rect x="89.96" y="355.8" width="2" height="2" fill="#40c040"/><rect x="107.04" y="355.17" width="1.6" height="1" fill="#4a90f0"/><rect x="98.06" y="358.99" width="1.6" height="1" fill="#c0c080"/><rect x="99.96" y="351.52" width="0.8" height="1.4" fill="#40c040"/><rect x="105.03" y="358.62" width="4" height="1" fill="#c0c080"/><rect x="94.36" y="361.51" width="0.8" height="0.7" fill="#60f0ff"/><rect x="90.66" y="344.93" width="0.8" height="1" fill="#40c040"/><rect x="122.98" y="360.1" width="1.2" height="0.7" fill="#ff2020"/><rect x="102.21" y="335.04" width="1.2" height="2" fill="#c0c080"/><rect x="113.8" y="347.65" width="0.8" height="1" fill="#4a90f0"/><rect x="98.87" y="334.98" width="2" height="1" fill="#ff60c0"/><rect x="114.67" y="337.93" width="1" height="2" fill="#ff60c0"/><rect x="102.8" y="352.98" width="1.6" height="1.4" fill="#40c040"/><rect x="121.76" y="336.41" width="1" height="1.4" fill="#40c040"/><rect x="104.59" y="357.27" width="2" height="1" fill="#40c040"/><rect x="102.63" y="359.4" width="1.2" height="1" fill="#ff60c0"/><rect x="96.77" y="357.67" width="2" height="1" fill="#ff2020"/><rect x="117.43" y="361.12" width="2" height="1" fill="#40c040"/><rect x="101.9" y="345.51" width="0.8" height="2" fill="#4a90f0"/><rect x="106.63" y="334.78" width="0.8" height="2" fill="#c0c080"/><rect x="103.94" y="361.7" width="0.8" height="1.4" fill="#4a90f0"/><rect x="110.4" y="335.85" width="2" height="1.4" fill="#c0c080"/><rect x="120.51" y="356.41" width="1.6" height="1" fill="#60f0ff"/><rect x="100.82" y="337.56" width="1.6" height="1.4" fill="#40c040"/><rect x="93.96" y="339.36" width="2" height="0.7" fill="#ff2020"/><rect x="85.7" y="355.82" width="0.8" height="0.7" fill="#60f0ff"/><rect x="86.84" y="334.33" width="1.2" height="1" fill="#ff60c0"/><rect x="95.64" y="351.35" width="0.8" height="1.4" fill="#ff60c0"/><rect x="105.62" y="357.85" width="2" height="1" fill="#ff60c0"/><rect x="88.7" y="348.85" width="1.6" height="0.7" fill="#c0c080"/><rect x="107.85" y="357.11" width="2" height="1" fill="#40c040"/><rect x="88.99" y="351.68" width="3" height="1" fill="#40c040"/><rect x="89.51" y="349.2" width="2" height="1" fill="#60f0ff"/><rect x="120.25" y="351.58" width="1.2" height="1" fill="#ff2020"/><rect x="106.54" y="358.94" width="1" height="1" fill="#60f0ff"/><rect x="119.05" y="337.75" width="1" height="1" fill="#ff60c0"/><rect x="83.88" y="344.86" width="1.6" height="1.4" fill="#40c040"/><rect x="113.08" y="364.27" width="1.6" height="0.7" fill="#ffff10"/><rect x="82.45" y="374.28" width="4" height="1" fill="#ffff10"/><rect x="108.65" y="373.42" width="1.2" height="2" fill="#ff2020"/><rect x="113.75" y="370.68" width="0.8" height="0.7" fill="#109c9c"/><rect x="103.89" y="378.29" width="1.6" height="1" fill="#ff2020"/><rect x="81.6" y="365.67" width="4" height="1" fill="#ffc898"/><rect x="120.2" y="363.71" width="0.8" height="1" fill="#30d030"/><rect x="76.04" y="363.74" width="1.6" height="1.4" fill="#30d030"/><rect x="98.79" y="369.74" width="2" height="1" fill="#ffff10"/><rect x="104.97" y="362.74" width="1" height="1" fill="#30d030"/><rect x="95.61" y="375.31" width="1.6" height="1" fill="#109c9c"/><rect x="80.58" y="371.23" width="0.8" height="1" fill="#ffff10"/><rect x="113.69" y="374.68" width="4" height="1.4" fill="#109c9c"/><rect x="103.18" y="371.08" width="1.2" height="1" fill="#ffc898"/><rect x="119.39" y="375.4" width="4" height="1" fill="#30d030"/><rect x="78.93" y="367.94" width="2" height="1" fill="#30d030"/><rect x="111.79" y="369.3" width="3" height="1" fill="#ffff10"/><rect x="113.46" y="367.43" width="0.8" height="0.7" fill="#ffc898"/><rect x="123.51" y="378.25" width="0.8" height="1" fill="#ffc898"/><rect x="121.12" y="373.99" width="1.2" height="1" fill="#30d030"/><rect x="101.62" y="371.6" width="1.6" height="2" fill="#30d030"/><rect x="105.4" y="374.62" width="4" height="1.4" fill="#109c9c"/><rect x="73.19" y="373.08" width="3" height="1" fill="#ffc898"/><rect x="95.07" y="371.09" width="4" height="1" fill="#30d030"/><rect x="72.56" y="366.65" width="1.2" height="1" fill="#109c9c"/><rect x="100.11" y="369.48" width="2" height="2" fill="#ffff10"/><rect x="105.18" y="376.57" width="0.8" height="2" fill="#109c9c"/><rect x="106.76" y="379.2" width="1.6" height="1" fill="#30d030"/><rect x="96.53" y="365.04" width="1.6" height="2" fill="#109c9c"/><rect x="103.02" y="369.73" width="1.6" height="1.4" fill="#ffc898"/><rect x="99.39" y="372.76" width="1.2" height="2" fill="#ffc898"/><rect x="97.13" y="366.86" width="1.2" height="1" fill="#ffff10"/><rect x="72.73" y="366.41" width="0.8" height="1" fill="#30d030"/><rect x="111.24" y="369.02" width="1.2" height="1.4" fill="#ffff10"/><rect x="102.25" y="375.02" width="1.2" height="0.7" fill="#ff2020"/><rect x="94.33" y="370.6" width="4" height="1" fill="#ffff10"/><rect x="99.21" y="378.87" width="3" height="1.4" fill="#ff2020"/><rect x="122.9" y="376.7" width="2" height="0.7" fill="#ffff10"/><rect x="104.46" y="370.2" width="1" height="0.7" fill="#ffc898"/><rect x="99.46" y="364.24" width="1.6" height="1" fill="#30d030"/><rect x="31.56" y="341.34" width="2" height="1.4" fill="#1e78f0"/><rect x="36.56" y="348.86" width="1" height="1" fill="#ffc898"/><rect x="28.2" y="337.19" width="1.2" height="2" fill="#1e78f0"/><rect x="28.76" y="351.07" width="3" height="2" fill="#ffc898"/><rect x="34.31" y="355.09" width="1" height="1" fill="#ffc898"/><rect x="38.12" y="335.11" width="0.8" height="0.7" fill="#1e78f0"/><rect x="28.52" y="334.75" width="0.8" height="0.7" fill="#ffc898"/><rect x="32.9" y="336.03" width="0.8" height="1" fill="#ffc898"/><rect x="34.28" y="344.45" width="1.6" height="1" fill="#ffc898"/><rect x="29.74" y="347.84" width="1" height="0.7" fill="#ff2020"/><rect x="31.43" y="357.02" width="4" height="1" fill="#30f0ff"/><rect x="31.08" y="341.23" width="4" height="1" fill="#1e78f0"/><rect x="26.88" y="357.42" width="2" height="1" fill="#1e78f0"/><rect x="33" y="354.89" width="1" height="1.4" fill="#1e78f0"/><rect x="33.5" y="346.94" width="1.2" height="0.7" fill="#ff2020"/><rect x="100.14" y="441.49" width="4" height="1.4" fill="#1010f0"/><rect x="116.59" y="404.61" width="1.2" height="1" fill="#1a8c1a"/><rect x="107.36" y="449.88" width="1.6" height="1" fill="#1010f0"/><rect x="119.03" y="418.44" width="3" height="1" fill="#1010f0"/><rect x="120.06" y="425.28" width="1.6" height="2" fill="#ff8410"/><rect x="120.58" y="466.04" width="1.2" height="1.4" fill="#ff8410"/><rect x="115.73" y="424.11" width="1.2" height="1" fill="#40f040"/><rect x="122.65" y="452.17" width="2" height="1" fill="#1a8c1a"/><rect x="97.19" y="428.13" width="1.2" height="1.4" fill="#ff8410"/><rect x="98.28" y="416.87" width="2" height="1" fill="#8a2be2"/><rect x="98.39" y="414.22" width="2" height="2" fill="#8a2be2"/><rect x="89.42" y="454.09" width="4" height="1" fill="#8a2be2"/><rect x="82.93" y="438.03" width="2" height="1" fill="#ff8410"/><rect x="94.43" y="405.47" width="4" height="1.4" fill="#1a8c1a"/><rect x="106.44" y="424.16" width="2" height="0.7" fill="#1010f0"/><rect x="85.43" y="452.65" width="1.2" height="0.7" fill="#1a8c1a"/><rect x="108.63" y="413.5" width="3" height="1.4" fill="#8a2be2"/><rect x="111.91" y="436.27" width="2" height="1" fill="#8a2be2"/><rect x="101.28" y="427.13" width="4" height="1" fill="#1a8c1a"/><rect x="87.74" y="436.21" width="4" height="0.7" fill="#1a8c1a"/><rect x="107.96" y="407.05" width="4" height="1" fill="#8a2be2"/><rect x="82.16" y="428.95" width="0.8" height="1.4" fill="#ff8410"/><rect x="108.89" y="438.57" width="3" height="0.7" fill="#8a2be2"/><rect x="86.62" y="464.96" width="1" height="1" fill="#1a8c1a"/><rect x="88.81" y="445.92" width="3" height="1" fill="#1010f0"/><rect x="90.58" y="432.05" width="1.2" height="1" fill="#1a8c1a"/><rect x="101.8" y="452.23" width="1.2" height="1" fill="#8a2be2"/><rect x="120.63" y="464.2" width="4" height="1.4" fill="#1a8c1a"/><rect x="106.53" y="464.01" width="0.8" height="1" fill="#1a8c1a"/><rect x="90.3" y="427.72" width="2" height="1" fill="#ff8410"/><rect x="112.12" y="443.26" width="1" height="1.4" fill="#8a2be2"/><rect x="119.57" y="430.56" width="4" height="1" fill="#1a8c1a"/><rect x="105.03" y="457.93" width="1.6" height="1" fill="#40f040"/><rect x="119.27" y="464.34" width="1.2" height="2" fill="#8a2be2"/><rect x="122.19" y="435.85" width="1" height="1.4" fill="#1a8c1a"/><rect x="91.13" y="412.86" width="4" height="1.4" fill="#ff8410"/><rect x="115.38" y="455.1" width="4" height="0.7" fill="#1a8c1a"/><rect x="120.82" y="462.88" width="4" height="1.4" fill="#1010f0"/><rect x="100.9" y="420.27" width="1.6" height="2" fill="#8a2be2"/><rect x="88.61" y="414.36" width="1.2" height="1" fill="#1010f0"/><rect x="120.14" y="457.46" width="1" height="2" fill="#1010f0"/><rect x="103.67" y="407.49" width="2" height="1" fill="#1a8c1a"/><rect x="90.58" y="464.47" width="1" height="1" fill="#1a8c1a"/><rect x="96.77" y="444.58" width="2" height="0.7" fill="#40f040"/><rect x="111.14" y="409.47" width="3" height="2" fill="#ff8410"/><rect x="118.01" y="424.04" width="4" height="1" fill="#40f040"/><rect x="90.11" y="449.03" width="4" height="1.4" fill="#8a2be2"/><rect x="83.56" y="431.27" width="1.6" height="1" fill="#8a2be2"/><rect x="122.49" y="424.86" width="1.6" height="0.7" fill="#ff8410"/><rect x="94.84" y="434.84" width="3" height="0.7" fill="#1010f0"/><rect x="85.12" y="413.28" width="3" height="1.4" fill="#1a8c1a"/><rect x="101.39" y="467.82" width="4" height="0.7" fill="#1a8c1a"/><rect x="100.7" y="461" width="3" height="1.4" fill="#8a2be2"/><rect x="94.33" y="411.48" width="4" height="0.7" fill="#8a2be2"/><rect x="123.65" y="456.76" width="1" height="2" fill="#8a2be2"/><rect x="94.2" y="428.82" width="2" height="1" fill="#1010f0"/><rect x="113.71" y="440.67" width="0.8" height="1" fill="#8a2be2"/><rect x="90.4" y="452.28" width="1.2" height="1" fill="#1010f0"/><rect x="105.64" y="451.77" width="1.2" height="1.4" fill="#8a2be2"/><rect x="98.06" y="410.72" width="2" height="0.7" fill="#8a2be2"/><rect x="110.46" y="450.75" width="1" height="1" fill="#40f040"/><rect x="83.53" y="434.57" width="3" height="0.7" fill="#1a8c1a"/><rect x="91.52" y="414.37" width="0.8" height="1.4" fill="#40f040"/><rect x="114.39" y="426.55" width="4" height="1.4" fill="#ff8410"/><rect x="87.84" y="417.56" width="1" height="1.4" fill="#40f040"/><rect x="95.92" y="431.2" width="0.8" height="1.4" fill="#ff8410"/><rect x="111.39" y="468.81" width="4" height="1" fill="#1a8c1a"/><rect x="123.39" y="438.97" width="1.2" height="1" fill="#8a2be2"/><rect x="96.37" y="446.95" width="0.8" height="2" fill="#40f040"/><rect x="90.61" y="425.96" width="1.2" height="0.7" fill="#ff8410"/><rect x="111.96" y="420.76" width="2" height="1" fill="#ff8410"/><rect x="91.82" y="444.39" width="2" height="1" fill="#ff8410"/><rect x="111.96" y="469.13" width="2" height="1" fill="#ff8410"/><rect x="121.69" y="445.39" width="1" height="0.7" fill="#8a2be2"/><rect x="92.27" y="442.05" width="3" height="1" fill="#1010f0"/><rect x="85.85" y="461.59" width="1.2" height="1.4" fill="#1a8c1a"/><rect x="101" y="452.17" width="1" height="2" fill="#ff8410"/><rect x="104.94" y="408.2" width="1.2" height="1" fill="#1a8c1a"/><rect x="123.67" y="457.96" width="2" height="1" fill="#1a8c1a"/><rect x="121.23" y="404.25" width="3" height="1" fill="#8a2be2"/><rect x="113.85" y="427.96" width="1" height="1" fill="#ff8410"/><rect x="105.01" y="409.03" width="0.8" height="1.4" fill="#8a2be2"/><rect x="114.87" y="465.37" width="3" height="1" fill="#1010f0"/><rect x="113.76" y="459.93" width="1.6" height="2" fill="#ff8410"/><rect x="108.89" y="454.38" width="1" height="1" fill="#40f040"/><rect x="101.66" y="413.44" width="1.6" height="0.7" fill="#ff8410"/><rect x="99.04" y="426.19" width="1" height="1" fill="#8a2be2"/><rect x="105.86" y="425.92" width="3" height="0.7" fill="#1a8c1a"/><rect x="110.18" y="413.55" width="1.6" height="2" fill="#1a8c1a"/><rect x="101.74" y="431.15" width="2" height="2" fill="#8a2be2"/><rect x="99.09" y="422.58" width="1.6" height="1.4" fill="#8a2be2"/><rect x="100.23" y="441.35" width="2" height="1" fill="#ff8410"/><rect x="103.87" y="431.74" width="0.8" height="1" fill="#1a8c1a"/><rect x="94.43" y="444.67" width="1.6" height="1.4" fill="#ff8410"/><rect x="95.52" y="456.11" width="2" height="0.7" fill="#8a2be2"/><rect x="87.23" y="433.5" width="2" height="1.4" fill="#1a8c1a"/><rect x="101.98" y="410.95" width="1" height="2" fill="#1010f0"/><rect x="109.59" y="466.06" width="0.8" height="1" fill="#8a2be2"/><rect x="104.94" y="441.22" width="1" height="1" fill="#1a8c1a"/><rect x="113.36" y="441.41" width="0.8" height="0.7" fill="#ff8410"/><rect x="115.28" y="412.17" width="2" height="2" fill="#40f040"/><rect x="82.02" y="420.1" width="1.2" height="0.7" fill="#1010f0"/><rect x="89.22" y="433.09" width="1.6" height="2" fill="#40f040"/><rect x="87.93" y="449.69" width="1" height="0.7" fill="#1010f0"/><rect x="83.31" y="463.3" width="1.2" height="1" fill="#40f040"/><rect x="88.02" y="455.26" width="4" height="1.4" fill="#8a2be2"/><rect x="90.51" y="460.69" width="3" height="0.7" fill="#8a2be2"/><rect x="95.27" y="460.71" width="1.6" height="0.7" fill="#8a2be2"/><rect x="108.69" y="450.06" width="2" height="1" fill="#ff8410"/><rect x="108.56" y="416.64" width="0.8" height="0.7" fill="#1010f0"/><rect x="112.48" y="487.2" width="1.2" height="1.4" fill="#1a8c1a"/><rect x="118.92" y="487.7" width="4" height="1.4" fill="#a0f0a0"/><rect x="85.32" y="485.13" width="1.2" height="0.7" fill="#1a8c1a"/><rect x="111.03" y="486.19" width="3" height="1" fill="#ff12ff"/><rect x="109.91" y="498.18" width="1.2" height="2" fill="#8a2be2"/><rect x="106.78" y="485.27" width="1.2" height="1" fill="#1a8c1a"/><rect x="91.49" y="483.05" width="3" height="0.7" fill="#a0f0a0"/><rect x="123.29" y="490.13" width="2" height="0.7" fill="#ff12ff"/><rect x="120.11" y="480.16" width="2" height="1" fill="#ff12ff"/><rect x="92.54" y="498.47" width="0.8" height="1" fill="#40f040"/><rect x="123.51" y="484.36" width="1" height="1" fill="#1a8c1a"/><rect x="105.02" y="484.29" width="1" height="0.7" fill="#ff12ff"/><rect x="101.39" y="497.26" width="1.6" height="0.7" fill="#a0f0a0"/><rect x="84.53" y="481.47" width="4" height="1" fill="#40f040"/><rect x="109.65" y="498.01" width="2" height="1" fill="#ff12ff"/><rect x="116.74" y="494.6" width="2" height="2" fill="#1010f0"/><rect x="106.94" y="497.74" width="0.8" height="2" fill="#a0f0a0"/><rect x="91.88" y="490.13" width="4" height="1" fill="#1a8c1a"/><rect x="115.23" y="485.43" width="1.6" height="2" fill="#1010f0"/><rect x="117.81" y="493.88" width="1.2" height="0.7" fill="#1010f0"/><rect x="107.07" y="496.44" width="2" height="1.4" fill="#1010f0"/><rect x="95.65" y="493.99" width="2" height="1.4" fill="#a0f0a0"/><rect x="103.16" y="496.63" width="4" height="0.7" fill="#8a2be2"/><rect x="86.8" y="484.1" width="3" height="2" fill="#ff12ff"/><rect x="115.25" y="485.47" width="1" height="0.7" fill="#40f040"/><rect x="99.87" y="496" width="4" height="2" fill="#1a8c1a"/><rect x="104.07" y="486.09" width="2" height="1.4" fill="#8a2be2"/><rect x="109.3" y="491.74" width="1.6" height="1" fill="#1010f0"/><rect x="88.71" y="495.89" width="4" height="2" fill="#a0f0a0"/><rect x="84.57" y="489.44" width="1.2" height="1" fill="#1a8c1a"/><rect x="122.76" y="480.97" width="1.6" height="2" fill="#1010f0"/><rect x="88.07" y="490.47" width="3" height="0.7" fill="#8a2be2"/><rect x="92.11" y="500.47" width="1" height="0.7" fill="#a0f0a0"/><rect x="105.36" y="490.85" width="0.8" height="0.7" fill="#1a8c1a"/><rect x="123.84" y="497.56" width="3" height="2" fill="#1010f0"/><rect x="94.42" y="482.73" width="4" height="1" fill="#a0f0a0"/><rect x="101.39" y="501.45" width="1.2" height="1" fill="#40f040"/><rect x="121.75" y="501.23" width="1" height="0.7" fill="#1010f0"/><rect x="98.93" y="494.95" width="0.8" height="1" fill="#ff12ff"/><rect x="111.18" y="499.88" width="2" height="1" fill="#a0f0a0"/><rect x="118.12" y="501.52" width="1" height="1.4" fill="#a0f0a0"/><rect x="114.82" y="484.95" width="1.2" height="1" fill="#1010f0"/><rect x="115.32" y="498.5" width="1.6" height="1" fill="#a0f0a0"/><rect x="91.01" y="490.76" width="1.2" height="1.4" fill="#a0f0a0"/><rect x="102.59" y="494.41" width="1" height="1.4" fill="#1010f0"/><rect x="104.69" y="489.64" width="0.8" height="1" fill="#40f040"/><rect x="121.85" y="494.28" width="2" height="1" fill="#1a8c1a"/><rect x="93.02" y="489.04" width="3" height="1" fill="#40f040"/><rect x="86.34" y="481.32" width="3" height="1" fill="#1010f0"/><rect x="114.16" y="496.64" width="0.8" height="0.7" fill="#40f040"/><rect x="117.23" y="490.35" width="4" height="1.4" fill="#40f040"/><rect x="92.76" y="500.21" width="3" height="0.7" fill="#40f040"/><rect x="98.55" y="485.48" width="0.8" height="1" fill="#1010f0"/><rect x="103.58" y="482.94" width="1" height="1" fill="#a0f0a0"/><rect x="99.81" y="492.51" width="1" height="2" fill="#1a8c1a"/><rect x="105.02" y="487.22" width="1.6" height="1.4" fill="#1010f0"/><rect x="118.96" y="499.2" width="2" height="1.4" fill="#a0f0a0"/><rect x="87.74" y="491.89" width="1.2" height="1" fill="#8a2be2"/><rect x="94.27" y="487.93" width="1" height="1" fill="#8a2be2"/><rect x="117.62" y="497.18" width="1.6" height="2" fill="#8a2be2"/><rect x="37.04" y="500.58" width="1.2" height="0.7" fill="#8a2be2"/><rect x="33.15" y="438.98" width="0.8" height="1" fill="#8a2be2"/><rect x="36.64" y="429.7" width="4" height="1.4" fill="#1010f0"/><rect x="30.58" y="409.95" width="1.6" height="1" fill="#1a8c1a"/><rect x="32.21" y="431.7" width="1" height="1.4" fill="#8a2be2"/><rect x="31.87" y="420.51" width="3" height="1" fill="#40f0ff"/><rect x="25.94" y="437.84" width="1.6" height="1" fill="#ff2020"/><rect x="33.53" y="473.44" width="2" height="1" fill="#1010f0"/><rect x="38.68" y="493.35" width="0.8" height="1" fill="#1010f0"/><rect x="38.64" y="430.93" width="1.6" height="1.4" fill="#40f0ff"/><rect x="29.15" y="475.2" width="1.2" height="0.7" fill="#1010f0"/><rect x="25.05" y="436.03" width="1.2" height="2" fill="#1a8c1a"/><rect x="28.56" y="470.14" width="1" height="1.4" fill="#ff2020"/><rect x="34.04" y="498.51" width="1.2" height="0.7" fill="#40f0ff"/><rect x="35.46" y="425.44" width="0.8" height="0.7" fill="#40f0ff"/><rect x="32.91" y="464.67" width="0.8" height="1" fill="#1010f0"/><rect x="37.36" y="491.09" width="1.6" height="1.4" fill="#1010f0"/><rect x="36.96" y="471.66" width="1.2" height="1" fill="#ff2020"/><rect x="30.09" y="500.72" width="1" height="2" fill="#8a2be2"/><rect x="28.68" y="429.56" width="1" height="1" fill="#40f0ff"/><rect x="24.51" y="457.84" width="1.6" height="0.7" fill="#8a2be2"/><rect x="32.98" y="488.05" width="4" height="2" fill="#1010f0"/><rect x="34.18" y="459.52" width="4" height="1" fill="#1a8c1a"/><rect x="29.87" y="491.75" width="1.2" height="1" fill="#1010f0"/><rect x="30.64" y="419.49" width="1" height="1" fill="#8a2be2"/><rect x="29.66" y="472.24" width="4" height="2" fill="#1a8c1a"/><rect x="30.23" y="432.29" width="3" height="2" fill="#ff2020"/><rect x="28.17" y="428.68" width="1.2" height="1" fill="#40f0ff"/><rect x="35.93" y="490.87" width="0.8" height="0.7" fill="#1010f0"/><rect x="29.31" y="488.05" width="2" height="1.4" fill="#1010f0"/><rect x="27.02" y="489.76" width="4" height="1.4" fill="#1010f0"/><rect x="29.84" y="443.34" width="3" height="1.4" fill="#1a8c1a"/><rect x="35.6" y="428.93" width="3" height="1" fill="#8a2be2"/><rect x="29.67" y="479.17" width="4" height="2" fill="#8a2be2"/><rect x="33.3" y="445.64" width="3" height="1" fill="#40f0ff"/><rect x="35.97" y="430.62" width="1" height="1" fill="#8a2be2"/><rect x="30.34" y="470.27" width="1" height="1" fill="#1010f0"/><rect x="31.81" y="472.69" width="4" height="1" fill="#1a8c1a"/><rect x="35.16" y="445.51" width="3" height="1.4" fill="#ff2020"/><rect x="38.97" y="501.89" width="0.8" height="1" fill="#1010f0"/><rect x="39.96" y="490.21" width="1" height="1" fill="#1a8c1a"/><rect x="35.83" y="502.37" width="0.8" height="1.4" fill="#1a8c1a"/><rect x="38.52" y="486.44" width="4" height="1.4" fill="#8a2be2"/><rect x="30.29" y="434.61" width="4" height="1" fill="#8a2be2"/><rect x="30.57" y="465.16" width="4" height="1" fill="#40f0ff"/><rect x="30.53" y="472.71" width="2" height="1" fill="#8a2be2"/><rect x="31.35" y="486.55" width="2" height="1" fill="#ff2020"/><rect x="31.21" y="419.03" width="0.8" height="1" fill="#40f0ff"/><rect x="33.32" y="431.1" width="1.6" height="1" fill="#1a8c1a"/><rect x="28.03" y="451.74" width="1.2" height="2" fill="#1a8c1a"/><rect x="33.16" y="419.01" width="0.8" height="1" fill="#1010f0"/><rect x="25.72" y="422.07" width="1.6" height="1" fill="#8a2be2"/><rect x="39.87" y="444.45" width="0.8" height="1.4" fill="#1a8c1a"/><rect x="37.01" y="443.2" width="0.8" height="1" fill="#40f0ff"/><rect x="34.06" y="485.89" width="1.2" height="1" fill="#8a2be2"/><rect x="39.05" y="489.6" width="4" height="1.4" fill="#40f0ff"/><rect x="37.42" y="475.77" width="1" height="0.7" fill="#8a2be2"/><rect x="32.85" y="470.81" width="1.2" height="1" fill="#1010f0"/><rect x="36.18" y="434.69" width="2" height="1.4" fill="#1010f0"/><rect x="38.24" y="410.31" width="1.2" height="0.7" fill="#40f0ff"/><rect x="90.92" y="511.33" width="3" height="1.4" fill="#40f0ff"/><rect x="92.86" y="521.07" width="3" height="0.7" fill="#40f0ff"/><rect x="97.1" y="526.98" width="1.2" height="2" fill="#ff0c0c"/><rect x="79.43" y="507.79" width="1.2" height="1.4" fill="#ffc898"/><rect x="95.62" y="525.34" width="4" height="1" fill="#ffc898"/><rect x="107.71" y="515.04" width="1.2" height="0.7" fill="#ffc898"/><rect x="93.47" y="506.2" width="1.2" height="1" fill="#ffc898"/><rect x="87.1" y="504.6" width="1" height="2" fill="#ffff20"/><rect x="109.61" y="509.03" width="0.8" height="1" fill="#ff0c0c"/><rect x="95.78" y="509.2" width="0.8" height="0.7" fill="#40f0ff"/><rect x="101.62" y="516.71" width="1.2" height="2" fill="#ff0c0c"/><rect x="79.94" y="508.94" width="0.8" height="2" fill="#ff0c0c"/><rect x="105.05" y="513.93" width="1.6" height="1" fill="#40f0ff"/><rect x="97.37" y="527.01" width="1" height="1" fill="#ff0c0c"/><rect x="109.47" y="535.22" width="1.2" height="1" fill="#ffff20"/><rect x="102.63" y="503.34" width="3" height="1.4" fill="#ffc898"/><rect x="81.49" y="523.96" width="1.2" height="1.4" fill="#ffc898"/><rect x="107.29" y="520.16" width="2" height="0.7" fill="#ff0c0c"/><rect x="116.69" y="526.45" width="1.6" height="1.4" fill="#ffc898"/><rect x="100.03" y="531.44" width="2" height="1" fill="#40f0ff"/><rect x="106.03" y="522.47" width="2" height="0.7" fill="#ff12ff"/><rect x="107.23" y="518.19" width="2" height="0.7" fill="#ff12ff"/><rect x="81.46" y="514.04" width="2" height="1.4" fill="#ffff20"/><rect x="123.68" y="528.09" width="1.2" height="1" fill="#ffc898"/><rect x="100.1" y="521.76" width="0.8" height="1" fill="#40f0ff"/><rect x="84" y="509.36" width="3" height="1" fill="#ff0c0c"/><rect x="114.9" y="520.39" width="1.2" height="0.7" fill="#ff0c0c"/><rect x="118.15" y="527.2" width="1.2" height="2" fill="#ffff20"/><rect x="99.43" y="521.23" width="4" height="1.4" fill="#ff0c0c"/><rect x="101.01" y="535.7" width="1" height="0.7" fill="#ff0c0c"/><rect x="103.97" y="529.76" width="1.6" height="1" fill="#ff0c0c"/><rect x="115" y="532.07" width="4" height="2" fill="#ff0c0c"/><rect x="114.85" y="508.16" width="1.2" height="1" fill="#ff0c0c"/><rect x="94.02" y="534.58" width="4" height="1" fill="#ffff20"/><rect x="84.28" y="509.18" width="1.6" height="0.7" fill="#ffc898"/><rect x="106.77" y="533.66" width="0.8" height="0.7" fill="#ffc898"/><rect x="88.3" y="524.39" width="3" height="1" fill="#ff12ff"/><rect x="109.08" y="517.65" width="0.8" height="1" fill="#ffc898"/><rect x="93.19" y="524.41" width="1.2" height="2" fill="#ff0c0c"/><rect x="110.27" y="509.14" width="1" height="1" fill="#ffc898"/><rect x="105.12" y="504.41" width="1.2" height="0.7" fill="#ffff20"/><rect x="121.35" y="523.74" width="1.2" height="1" fill="#ff0c0c"/><rect x="79.36" y="505.35" width="1" height="1" fill="#ffff20"/><rect x="113.64" y="509.81" width="0.8" height="1" fill="#40f0ff"/><rect x="95.86" y="523.83" width="1.2" height="1.4" fill="#ff0c0c"/><rect x="101.79" y="535.02" width="1.2" height="2" fill="#ffc898"/><rect x="97.8" y="519.75" width="0.8" height="1" fill="#ff0c0c"/><rect x="118.27" y="512.74" width="4" height="0.7" fill="#ffc898"/><rect x="108.18" y="510.67" width="1.6" height="1.4" fill="#ff0c0c"/><rect x="112.45" y="523.44" width="1.6" height="0.7" fill="#ffff20"/><rect x="97.86" y="512.56" width="1.6" height="1" fill="#ffff20"/><rect x="108.78" y="503.43" width="2" height="1" fill="#ff0c0c"/><rect x="97.52" y="507.49" width="4" height="1" fill="#40f0ff"/><rect x="97.93" y="514.61" width="4" height="2" fill="#ff0c0c"/><rect x="103.57" y="506.38" width="1" height="0.7" fill="#ffff20"/><rect x="79.73" y="504.03" width="2" height="1" fill="#ff0c0c"/><rect x="109.06" y="508.29" width="0.8" height="1" fill="#ff0c0c"/><rect x="99.92" y="513.75" width="3" height="2" fill="#ff0c0c"/><rect x="122.67" y="536.2" width="4" height="1.4" fill="#40f0ff"/><rect x="116.29" y="525.1" width="3" height="0.7" fill="#ff0c0c"/><rect x="81.99" y="518.72" width="1.6" height="1" fill="#ff12ff"/><rect x="123.54" y="510.12" width="1.2" height="1" fill="#ff12ff"/><rect x="96.76" y="528.22" width="0.8" height="0.7" fill="#ff0c0c"/><rect x="122.13" y="526.66" width="4" height="1" fill="#ffc898"/><rect x="115.51" y="527.85" width="4" height="0.7" fill="#40f0ff"/><rect x="100.09" y="503.54" width="4" height="1" fill="#ff0c0c"/><rect x="83.9" y="517.04" width="2" height="2" fill="#ff0c0c"/><rect x="113.93" y="506.21" width="2" height="2" fill="#ff0c0c"/><rect x="82.05" y="511.09" width="3" height="0.7" fill="#ff12ff"/><rect x="102.05" y="513" width="4" height="1" fill="#ff0c0c"/><rect x="105.59" y="518.86" width="1" height="2" fill="#40f0ff"/><rect x="86.66" y="506.55" width="1" height="0.7" fill="#ff12ff"/><rect x="85.97" y="535.99" width="2" height="1" fill="#40f0ff"/><rect x="106.81" y="535.76" width="3" height="0.7" fill="#40f0ff"/><rect x="116" y="510.78" width="4" height="0.7" fill="#ffc898"/><rect x="112.18" y="515.8" width="1.2" height="2" fill="#ff12ff"/><rect x="80.28" y="506.75" width="1.2" height="2" fill="#ffc898"/><rect x="113.31" y="529.37" width="1.6" height="1.4" fill="#ffff20"/><rect x="82.53" y="511.87" width="0.8" height="1.4" fill="#ffff20"/><rect x="119.3" y="509.92" width="2" height="1" fill="#ff12ff"/><rect x="123.17" y="534.52" width="0.8" height="1.4" fill="#ffc898"/><rect x="92.47" y="528.14" width="1.2" height="1" fill="#ffff20"/><rect x="82.8" y="529.92" width="1.6" height="1" fill="#ffc898"/><rect x="98.37" y="518.33" width="0.8" height="1" fill="#ff12ff"/><rect x="81.78" y="520.95" width="2" height="1" fill="#40f0ff"/><rect x="115.84" y="525.95" width="3" height="1" fill="#ff0c0c"/><rect x="93.15" y="519.46" width="1" height="2" fill="#ffc898"/><rect x="102.71" y="527.93" width="1.2" height="1.4" fill="#ff12ff"/><rect x="122.48" y="503.24" width="2" height="1" fill="#ff0c0c"/><rect x="95.45" y="523.33" width="1.2" height="1" fill="#ff0c0c"/><rect x="32.11" y="523.04" width="1.2" height="1" fill="#30d030"/><rect x="25.97" y="528.79" width="1.2" height="0.7" fill="#ff0c0c"/><rect x="27.17" y="523.04" width="4" height="1.4" fill="#ffc898"/><rect x="29.53" y="512.72" width="3" height="0.7" fill="#ff0c0c"/><rect x="29.46" y="510.66" width="1.2" height="1" fill="#ff0c0c"/><rect x="28.47" y="530.86" width="4" height="1" fill="#ffc898"/><rect x="25.21" y="528.96" width="0.8" height="1.4" fill="#ff0c0c"/><rect x="31.4" y="534.53" width="3" height="0.7" fill="#40f0ff"/><rect x="31.75" y="503.19" width="3" height="1.4" fill="#30d030"/><rect x="28.69" y="524.26" width="4" height="0.7" fill="#40f0ff"/><rect x="34.27" y="517.98" width="4" height="1" fill="#30d030"/><rect x="33.96" y="526.02" width="4" height="0.7" fill="#30d030"/><rect x="28.5" y="527.98" width="0.8" height="0.7" fill="#ffc898"/><rect x="32.83" y="521.64" width="0.8" height="0.7" fill="#30d030"/><rect x="28.38" y="535.43" width="2" height="0.7" fill="#40f0ff"/><rect x="25.71" y="514.02" width="1" height="0.7" fill="#40f0ff"/><rect x="35.42" y="519.06" width="0.8" height="1.4" fill="#30d030"/><rect x="27" y="526.9" width="1.6" height="1.4" fill="#30d030"/><rect x="33.12" y="516.19" width="4" height="1.4" fill="#ff0c0c"/><rect x="31.37" y="532.07" width="4" height="2" fill="#ffc898"/><rect x="27.03" y="514.77" width="1" height="1" fill="#30d030"/><rect x="31.89" y="520.68" width="1.6" height="1.4" fill="#30d030"/><rect x="28.98" y="522.85" width="1.6" height="1.4" fill="#ffc898"/><rect x="25.63" y="519.64" width="3" height="1" fill="#ffc898"/><rect x="33.63" y="522.55" width="1.2" height="0.7" fill="#ffc898"/><rect x="97.79" y="471.63" width="1.1" height="6.33" fill="#1a8c1a"/><rect x="105.16" y="495.74" width="0.9" height="11.1" fill="#40f040"/><rect x="102.22" y="426.51" width="0.7" height="9.53" fill="#a0f0a0"/><rect x="94.92" y="483.81" width="1.1" height="2.35" fill="#1010f0"/><rect x="105.51" y="456.29" width="0.7" height="5.33" fill="#40f040"/><rect x="121.01" y="476.12" width="0.7" height="10.06" fill="#8a2be2"/><rect x="114.26" y="425.32" width="1.1" height="3.99" fill="#a0f0a0"/><rect x="107.2" y="416.24" width="1.1" height="9.65" fill="#8a2be2"/><rect x="118.93" y="490.93" width="0.9" height="8.89" fill="#1a8c1a"/><rect x="121.02" y="471.83" width="1.1" height="4.91" fill="#1010f0"/><rect x="86.97" y="438.3" width="0.9" height="3.72" fill="#a0f0a0"/><rect x="94.37" y="428.52" width="0.9" height="3.32" fill="#1a8c1a"/><rect x="93.54" y="431.51" width="1.1" height="4.78" fill="#8a2be2"/><rect x="117.89" y="419.89" width="0.7" height="10.6" fill="#8a2be2"/><rect x="86.12" y="479.42" width="1.1" height="3.63" fill="#a0f0a0"/><rect x="119.73" y="477.09" width="0.7" height="4.6" fill="#40f040"/><rect x="120.43" y="438.73" width="0.7" height="9.87" fill="#40f040"/><rect x="100.84" y="439.45" width="1.1" height="9.29" fill="#8a2be2"/><rect x="93.46" y="472.58" width="0.7" height="10.86" fill="#8a2be2"/><rect x="86.97" y="492.47" width="0.7" height="8.57" fill="#1010f0"/><rect x="119.02" y="414.49" width="0.7" height="7.65" fill="#8a2be2"/><rect x="122.55" y="433.77" width="0.7" height="10.72" fill="#a0f0a0"/><rect x="109.42" y="418.09" width="0.7" height="6.13" fill="#a0f0a0"/><rect x="121.96" y="495.64" width="1.1" height="11.2" fill="#1a8c1a"/><rect x="100.19" y="468.19" width="1.1" height="2.86" fill="#1010f0"/><rect x="107.31" y="491.05" width="0.7" height="10.8" fill="#40f040"/><rect x="88.15" y="422.94" width="0.7" height="8.93" fill="#8a2be2"/><rect x="120.57" y="488.57" width="0.9" height="2.89" fill="#1010f0"/><rect x="96.09" y="470.29" width="1.1" height="11.39" fill="#1a8c1a"/><rect x="119.98" y="484.85" width="0.7" height="11.35" fill="#8a2be2"/><rect x="102.33" y="459.93" width="1.1" height="8.86" fill="#8a2be2"/><rect x="95.31" y="420.77" width="0.7" height="9.69" fill="#1a8c1a"/><rect x="86.92" y="432.71" width="0.7" height="5.01" fill="#40f040"/><rect x="83.79" y="482.17" width="1.1" height="8.88" fill="#1a8c1a"/><rect x="105.99" y="475.44" width="0.7" height="10.08" fill="#1010f0"/><rect x="85.25" y="478.86" width="0.7" height="11.75" fill="#40f040"/><rect x="96.7" y="425.4" width="0.7" height="5.92" fill="#1010f0"/><rect x="84.44" y="439.38" width="1.1" height="9.23" fill="#a0f0a0"/><rect x="96.75" y="465.6" width="0.9" height="11.31" fill="#8a2be2"/><rect x="90.63" y="424.66" width="0.7" height="6.51" fill="#1a8c1a"/><rect x="119.71" y="422.19" width="1.1" height="8.78" fill="#1010f0"/><rect x="106.62" y="458.41" width="0.7" height="7.73" fill="#8a2be2"/><rect x="95.09" y="411.12" width="1.1" height="7.1" fill="#a0f0a0"/><rect x="90.78" y="408.2" width="0.7" height="4.48" fill="#1a8c1a"/><rect x="110.23" y="451.84" width="0.7" height="6.42" fill="#40f040"/><rect x="105.06" y="417.84" width="0.7" height="8.7" fill="#1a8c1a"/><rect x="122.61" y="441.01" width="1.1" height="3.36" fill="#1a8c1a"/><rect x="91.92" y="497.31" width="0.9" height="4.07" fill="#8a2be2"/><rect x="106.53" y="473.96" width="0.7" height="6.76" fill="#1a8c1a"/><rect x="102.71" y="440.38" width="0.7" height="2.65" fill="#8a2be2"/><rect x="85.24" y="419.87" width="0.7" height="6.93" fill="#1010f0"/><rect x="96.35" y="491.56" width="1.1" height="3.42" fill="#1010f0"/><rect x="120.8" y="422.92" width="1.1" height="3.36" fill="#8a2be2"/><rect x="118.24" y="472.56" width="0.9" height="11.49" fill="#1010f0"/><rect x="97.58" y="416.17" width="0.7" height="4.73" fill="#8a2be2"/><rect x="111.88" y="467.9" width="0.9" height="3.23" fill="#8a2be2"/><rect x="106.09" y="430.47" width="1.1" height="7.22" fill="#40f040"/><rect x="113.37" y="453.99" width="0.7" height="11.47" fill="#a0f0a0"/><rect x="91.53" y="412.13" width="1.1" height="5.09" fill="#8a2be2"/><rect x="90.03" y="494.76" width="0.7" height="8.38" fill="#1010f0"/><rect x="102.09" y="488.07" width="0.9" height="7.98" fill="#8a2be2"/><rect x="122.89" y="450.43" width="0.7" height="2.39" fill="#40f040"/><rect x="122.11" y="407.27" width="0.9" height="9.63" fill="#8a2be2"/><rect x="84.6" y="420.14" width="1.1" height="3.73" fill="#1a8c1a"/><rect x="91.07" y="406.82" width="0.9" height="4.2" fill="#8a2be2"/><rect x="108.94" y="448.25" width="0.7" height="3.83" fill="#8a2be2"/><rect x="94.82" y="408.86" width="1.1" height="4.61" fill="#8a2be2"/><rect x="97.46" y="448.98" width="0.9" height="8.24" fill="#8a2be2"/><rect x="96.94" y="487.2" width="0.9" height="7.81" fill="#40f040"/><rect x="104.37" y="447.81" width="0.9" height="5.32" fill="#8a2be2"/></g>
<rect x="24.3" y="236.4" width="99.7" height="1.5" fill="#a8ccf4"/>
<rect x="63.8" y="236" width="8.8" height="2.6" fill="#40e4f4"/>
<rect x="52.5" y="237.6" width="9.7" height="2" fill="#ff3030"/>
<rect x="24.3" y="242.4" width="99.7" height="1.6" fill="#9c9cff"/>
<rect x="38.9" y="241.8" width="35.3" height="3.4" fill="#9c9cff"/>
<rect x="24.3" y="249" width="99.7" height="2.2" fill="#c490ff"/>
<rect x="45.3" y="247.4" width="26.5" height="4" fill="#c490ff"/>
<rect x="38.6" y="247.2" width="5.9" height="3.2" fill="#ff1010"/>
<rect x="44.5" y="247.2" width="7.5" height="3.2" fill="#ffc090"/>
<rect x="71.8" y="247.2" width="7.2" height="3" fill="#a0a010"/>
<rect x="79" y="247.2" width="3" height="2.4" fill="#a05010"/>
<rect x="53.3" y="231.4" width="13.7" height="1.8" fill="#c8a8ff"/>
<rect x="45" y="231.6" width="5" height="1.4" fill="#ffb0b0"/>
<rect x="38" y="229.4" width="6" height="1.2" fill="#a8a8ff"/>
<rect x="73.4" y="233.4" width="5.3" height="1.9" fill="#a01010"/>
<rect x="73" y="253" width="5.5" height="2.4" fill="#a01010"/>
<rect x="111.1" y="257.6" width="10.5" height="1.6" fill="#a01010"/>
<rect x="34.9" y="264.4" width="7.2" height="1.6" fill="#a05a10"/>
<rect x="30" y="266" width="2" height="2.2" fill="#40f0f0"/>
<rect x="99.9" y="265.8" width="4.8" height="1.6" fill="#1e78f0"/>
<rect x="40.2" y="252.2" width="1.4" height="1.4" fill="#606060"/>
<rect x="27" y="252" width="2" height="1.5" fill="#a0a0ff"/>
<rect x="81.5" y="230.5" width="2.5" height="2" fill="#a05010"/>
<rect x="40.5" y="268.4" width="38.5" height="3.2" fill="#ffb0b0"/>
<rect x="24.3" y="271.6" width="99.7" height="1.4" fill="#ffa4a4"/>
<rect x="24.3" y="274.4" width="99.7" height="1.6" fill="#109c9c"/>
<rect x="38" y="274" width="43.4" height="5.7" fill="#109c9c"/>
<rect x="42" y="276.4" width="8" height="1.4" fill="#40f0f0"/>
<rect x="71" y="277.4" width="10.4" height="2.2" fill="#ff2020"/>
<rect x="67.8" y="284.4" width="4.8" height="4.1" fill="#ff2020"/>
<rect x="72.6" y="282" width="8" height="8.9" fill="#1e88f0"/>
<rect x="44.5" y="289.4" width="17.7" height="1.4" fill="#a0a010"/>
<rect x="64.2" y="289.8" width="6.5" height="1.2" fill="#ff4040"/>
<rect x="86" y="283" width="4" height="1.2" fill="#a0a010"/>
<rect x="95" y="287" width="4" height="1.2" fill="#a0a010"/>
<rect x="33" y="280" width="2" height="2" fill="#ff2020"/>
<rect x="36" y="284" width="2.5" height="3" fill="#ff2020"/>
<rect x="33.5" y="289" width="2" height="2.5" fill="#ff2020"/>
<rect x="37" y="291" width="2" height="2" fill="#ff2020"/>
<rect x="80.6" y="286" width="2.4" height="2" fill="#ffc898"/>
<rect x="86" y="292" width="2" height="2" fill="#ff2020"/>
<rect x="92" y="280" width="2" height="2" fill="#ff2020"/>
<rect x="30" y="288" width="2" height="2" fill="#a0a010"/>
<rect x="37" y="295.5" width="7.5" height="7.7" fill="#ff1010"/>
<rect x="44.5" y="295.5" width="36.1" height="7.7" fill="#ffc898"/>
<rect x="83" y="296" width="4" height="2.2" fill="#ff2020"/>
<rect x="67.8" y="296.4" width="12.8" height="1.6" fill="#109c9c"/>
<rect x="24.3" y="302.2" width="99.7" height="1.4" fill="#ffc898"/>
<rect x="32" y="305" width="2" height="4" fill="#ff2020"/>
<rect x="38" y="303.2" width="2.5" height="9.8" fill="#ff2020"/>
<rect x="40.5" y="303.8" width="40.1" height="8.5" fill="#a0a010"/>
<rect x="24.3" y="310.2" width="99.7" height="1.6" fill="#a0a010"/>
<rect x="82" y="303.5" width="4" height="3.5" fill="#ffc898"/>
<rect x="43.1" y="313.2" width="29.8" height="3" fill="#a0520a"/>
<rect x="36.1" y="316" width="42.5" height="4.8" fill="#a0520a"/>
<rect x="24.4" y="320.5" width="99.6" height="2.9" fill="#a0520a"/>
<rect x="85" y="313.5" width="2" height="3.5" fill="#a0520a"/>
<rect x="88" y="314" width="2" height="4" fill="#a0520a"/>
<rect x="106" y="315" width="2" height="2" fill="#a0520a"/>
<rect x="37.9" y="324.2" width="37.1" height="3.8" fill="#a00c0c"/>
<rect x="37.9" y="328" width="41.9" height="4" fill="#a00c0c"/>
<rect x="34.8" y="331" width="25.2" height="2" fill="#a00c0c"/>
<rect x="24.4" y="331.8" width="65.1" height="2" fill="#a00c0c"/>
<rect x="24.4" y="332.2" width="99.6" height="1.4" fill="#b01414"/>
<rect x="79" y="326" width="3" height="2" fill="#ffd020"/>
<rect x="82" y="328" width="4" height="2" fill="#1e88f0"/>
<rect x="41.3" y="334.8" width="30.5" height="9.4" fill="#1e78f0"/>
<rect x="24.4" y="344" width="46.6" height="3.8" fill="#1e78f0"/>
<rect x="24.4" y="344" width="99.6" height="1.2" fill="#1e78f0"/>
<rect x="38" y="335" width="2.5" height="8" fill="#30e030"/>
<rect x="71.8" y="336" width="7.2" height="1.5" fill="#b0b0ff"/>
<rect x="75" y="338" width="5" height="1.5" fill="#ff12ff"/>
<rect x="96.7" y="335.5" width="13.3" height="1.3" fill="#4a90f0"/>
<rect x="100" y="338" width="18" height="1.2" fill="#4a90f0"/>
<rect x="97" y="341" width="27" height="1.2" fill="#4a90f0"/>
<rect x="90" y="338.5" width="4" height="1.5" fill="#c0c080"/>
<rect x="24.4" y="347.7" width="54.9" height="4.8" fill="#30f0ff"/>
<rect x="28.2" y="352.5" width="52.1" height="5.5" fill="#30f0ff"/>
<rect x="40" y="358" width="27" height="4.1" fill="#30f0ff"/>
<rect x="24.4" y="350.8" width="99.6" height="1.4" fill="#60f0ff"/>
<rect x="79" y="349" width="9" height="1.5" fill="#30f0ff"/>
<rect x="79" y="347.5" width="11" height="1.5" fill="#30f0ff"/>
<rect x="85" y="353" width="15" height="1.2" fill="#60f0ff"/>
<rect x="95" y="355.5" width="17" height="1" fill="#ff60c0"/>
<rect x="100" y="349" width="4" height="2" fill="#40c040"/>
<rect x="67.8" y="359.6" width="5.6" height="2" fill="#ff2020"/>
<rect x="73.4" y="359.6" width="6.4" height="2" fill="#1e88f0"/>
<rect x="39.7" y="362.1" width="32.9" height="17.9" fill="#ffff10"/>
<rect x="72.6" y="364.5" width="13.4" height="13.5" fill="#ffff10"/>
<rect x="86" y="366" width="17" height="11" fill="#ffff10"/>
<rect x="24.4" y="371.4" width="99.6" height="1.2" fill="#ffff30"/>
<rect x="25.2" y="372.4" width="6.8" height="5.6" fill="#ffff30"/>
<rect x="32.1" y="359.5" width="2.4" height="20.7" fill="#ff1010"/>
<rect x="36.1" y="362" width="3.6" height="16.4" fill="#ff1010"/>
<rect x="100.8" y="361" width="1.4" height="17" fill="#b01010"/>
<rect x="72.6" y="370" width="2.4" height="2" fill="#109c9c"/>
<rect x="75" y="376" width="5" height="1.6" fill="#109c9c"/>
<rect x="40.5" y="380" width="43.5" height="3.4" fill="#ff8410"/>
<rect x="84" y="380.4" width="8" height="1.6" fill="#ff8410"/>
<rect x="24.4" y="383.2" width="73.6" height="3.3" fill="#ff8410"/>
<rect x="98" y="384" width="26" height="2" fill="#ff8410"/>
<rect x="24.4" y="386.5" width="67.6" height="3.5" fill="#ff8410"/>
<rect x="96" y="387" width="22" height="2" fill="#ff8410"/>
<rect x="24.4" y="390" width="75.6" height="4" fill="#ff8410"/>
<rect x="102" y="390.5" width="22" height="3" fill="#ff8410"/>
<rect x="24.4" y="394" width="62.6" height="3.6" fill="#ff8410"/>
<rect x="90" y="394.5" width="20" height="2.5" fill="#ff8410"/>
<rect x="112" y="395" width="8" height="1.6" fill="#ff8410"/>
<rect x="104" y="380.5" width="14" height="1.5" fill="#ff8410"/>
<rect x="91" y="387.3" width="7.3" height="1.7" fill="#30d030"/>
<rect x="84" y="381" width="2" height="2" fill="#30d030"/>
<rect x="40.2" y="397.9" width="5.4" height="105.8" fill="#1cf01c"/>
<rect x="45.6" y="397.6" width="26.2" height="105.9" fill="#ff0c0c"/>
<rect x="24.4" y="401.9" width="99.6" height="2.7" fill="#40f040"/>
<rect x="72.3" y="404.6" width="5.5" height="6.9" fill="#40f0ff"/>
<rect x="81.4" y="406" width="4.3" height="5.5" fill="#40f0ff"/>
<rect x="32.1" y="405.8" width="2.1" height="6.8" fill="#40f0ff"/>
<rect x="80" y="406" width="0.8" height="6" fill="#a05010"/>
<rect x="72.3" y="411.5" width="9.1" height="36" fill="#ff12ff"/>
<rect x="72.3" y="447.5" width="7.3" height="7.5" fill="#ff12ff"/>
<rect x="72.3" y="455" width="5.7" height="4.8" fill="#ff12ff"/>
<rect x="82" y="420" width="5" height="17.2" fill="#1a8c1a"/>
<rect x="87" y="404.6" width="2" height="15.4" fill="#1a8c1a"/>
<rect x="90.5" y="404.6" width="1.1" height="11.4" fill="#1a8c1a"/>
<rect x="82" y="420.7" width="18" height="2.5" fill="#1a8c1a"/>
<rect x="102" y="421" width="8" height="2" fill="#1a8c1a"/>
<rect x="112" y="421" width="12" height="1.5" fill="#1a8c1a"/>
<rect x="88" y="425" width="2" height="11" fill="#1a8c1a"/>
<rect x="93" y="424" width="1.2" height="9" fill="#1a8c1a"/>
<rect x="95" y="424" width="15" height="1.2" fill="#1a8c1a"/>
<rect x="95" y="428" width="10" height="1" fill="#1a8c1a"/>
<rect x="82" y="414" width="2" height="4" fill="#1010f0"/>
<rect x="96" y="413" width="1.5" height="6" fill="#1010f0"/>
<rect x="102" y="414" width="2" height="6" fill="#8a2be2"/>
<rect x="108" y="415" width="2" height="3" fill="#1010f0"/>
<rect x="112" y="426" width="2" height="4" fill="#8a2be2"/>
<rect x="82.2" y="446.9" width="37.8" height="1.1" fill="#8a2be2"/>
<rect x="82.2" y="449.5" width="35.8" height="1" fill="#8a2be2"/>
<rect x="82.2" y="452" width="37.8" height="1" fill="#8a2be2"/>
<rect x="82.2" y="454.5" width="33.8" height="1" fill="#8a2be2"/>
<rect x="86" y="447" width="1.2" height="11" fill="#1010f0"/>
<rect x="96" y="447" width="1.2" height="11" fill="#1010f0"/>
<rect x="104" y="447" width="1.2" height="11" fill="#1010f0"/>
<rect x="113" y="447" width="1.2" height="10" fill="#1010f0"/>
<rect x="84" y="446.9" width="1.5" height="9.6" fill="#8a2be2"/>
<rect x="92" y="446.9" width="1.5" height="9.6" fill="#8a2be2"/>
<rect x="100" y="446.9" width="1.5" height="9.6" fill="#8a2be2"/>
<rect x="108" y="446.9" width="1.5" height="9.6" fill="#8a2be2"/>
<rect x="24.4" y="458.3" width="99.6" height="1.3" fill="#9b30ff"/>
<rect x="26" y="450" width="12" height="2" fill="#9b30ff"/>
<rect x="33.7" y="405" width="1.6" height="95" fill="#c8c8ff"/>
<rect x="37.4" y="405" width="2.1" height="95" fill="#c8c8ff"/>
<rect x="83.8" y="473" width="19.3" height="7.3" fill="#1010f0"/>
<rect x="105.5" y="473" width="18.5" height="7" fill="#1010f0"/>
<rect x="24.4" y="476.2" width="6.4" height="4.8" fill="#1010f0"/>
<rect x="82.2" y="461" width="2.4" height="42" fill="#1010f0"/>
<rect x="88" y="461" width="1.5" height="39" fill="#8a2be2"/>
<rect x="75.8" y="482.5" width="4" height="2.1" fill="#ff12ff"/>
<rect x="86" y="499.2" width="18" height="4.3" fill="#a0f0a0"/>
<rect x="106" y="499.5" width="18" height="4" fill="#a0f0a0"/>
<rect x="93" y="499" width="1.5" height="4.5" fill="#8a2be2"/>
<rect x="66" y="496.5" width="6" height="7" fill="#c8b0ff"/>
<rect x="72.3" y="460" width="7.7" height="2" fill="#c8b0ff"/>
<rect x="72.3" y="480" width="5.7" height="2" fill="#c8b0ff"/>
<rect x="35.3" y="503.4" width="43.7" height="3.8" fill="#ff0c0c"/>
<rect x="35.3" y="507.2" width="45.7" height="5.4" fill="#ff0c0c"/>
<rect x="28.4" y="508" width="2.6" height="2.2" fill="#ff0c0c"/>
<rect x="35.3" y="512.6" width="42.2" height="4.6" fill="#ff0c0c"/>
<rect x="35.3" y="517.2" width="46" height="3.8" fill="#ff0c0c"/>
<rect x="35.3" y="521" width="52.1" height="2.3" fill="#ff0c0c"/>
<rect x="26.9" y="523.3" width="62.1" height="3.8" fill="#ff0c0c"/>
<rect x="26.9" y="527.1" width="69.7" height="3.9" fill="#ff0c0c"/>
<rect x="26.9" y="531" width="78.9" height="3.8" fill="#ff0c0c"/>
<rect x="26.9" y="534.8" width="45.2" height="2.7" fill="#ff0c0c"/>
<rect x="28.4" y="537.5" width="43.7" height="2.7" fill="#ff0c0c"/>
<rect x="72.1" y="535.2" width="27.9" height="1.2" fill="#ff0c0c"/>
<rect x="84" y="533.6" width="32" height="1" fill="#ff0c0c"/>
<rect x="92" y="529.4" width="18" height="1" fill="#ff0c0c"/>
<rect x="98" y="531.6" width="10" height="1" fill="#ff0c0c"/>
<rect x="90" y="525" width="10" height="1" fill="#ff0c0c"/>
<rect x="84" y="519" width="8" height="1" fill="#ff0c0c"/>
<rect x="82" y="515" width="6" height="1" fill="#ff0c0c"/>
<rect x="100" y="520" width="12" height="1" fill="#ff0c0c"/>
<rect x="95" y="510" width="10" height="1" fill="#ff0c0c"/>
<rect x="108" y="514" width="10" height="1" fill="#ff0c0c"/>
<rect x="112" y="525" width="8" height="1" fill="#ff0c0c"/>
<rect x="105" y="506" width="5" height="1" fill="#ff0c0c"/>
<rect x="24.6" y="537.5" width="3.8" height="2.7" fill="#ff30ff"/>
<rect x="77.4" y="513.6" width="4" height="4.9" fill="#ffff20"/>
<rect x="71.8" y="536.6" width="52.2" height="3.5" fill="#ff30ff"/>
<rect x="40.5" y="512" width="4.8" height="1.4" fill="#30d030"/>
<rect x="40.5" y="525.5" width="4.8" height="1.3" fill="#30d030"/>
</g>
<rect x="19.6" y="229" width="1.4" height="311.1" fill="#a0a0a0"/>
<rect x="21" y="229" width="3.3" height="311.1" fill="#0a0a0a"/>
<g><rect x="21.51" y="229.3" width="1.27" height="0.6" fill="#b8b8b8"/><rect x="21.63" y="230.85" width="1.32" height="0.6" fill="#b8b8b8"/><rect x="21.38" y="232.41" width="1.19" height="0.6" fill="#b8b8b8"/><rect x="21.65" y="233.96" width="1.47" height="0.6" fill="#b8b8b8"/><rect x="21.66" y="235.51" width="0.84" height="0.6" fill="#b8b8b8"/><rect x="21.43" y="237.06" width="0.97" height="0.6" fill="#b8b8b8"/><rect x="21.52" y="238.62" width="0.88" height="0.6" fill="#b8b8b8"/><rect x="21.48" y="240.17" width="1.29" height="0.6" fill="#b8b8b8"/><rect x="21.1" y="241.72" width="1.07" height="0.6" fill="#b8b8b8"/><rect x="21.17" y="243.28" width="1.44" height="0.6" fill="#b8b8b8"/><rect x="21.58" y="244.83" width="1.31" height="0.6" fill="#b8b8b8"/><rect x="21.51" y="246.38" width="1.33" height="0.6" fill="#b8b8b8"/><rect x="21.34" y="247.94" width="1.1" height="0.6" fill="#b8b8b8"/><rect x="21.61" y="249.49" width="1.2" height="0.6" fill="#b8b8b8"/><rect x="21.13" y="251.04" width="0.85" height="0.6" fill="#b8b8b8"/><rect x="21.48" y="252.59" width="0.49" height="0.6" fill="#b8b8b8"/><rect x="21.19" y="254.15" width="0.44" height="0.6" fill="#b8b8b8"/><rect x="21.42" y="255.7" width="0.47" height="0.6" fill="#b8b8b8"/><rect x="21.27" y="257.25" width="0.47" height="0.6" fill="#b8b8b8"/><rect x="21.45" y="258.81" width="0.96" height="0.6" fill="#b8b8b8"/><rect x="21.13" y="260.36" width="0.67" height="0.6" fill="#b8b8b8"/><rect x="21.48" y="261.91" width="0.54" height="0.6" fill="#b8b8b8"/><rect x="21.31" y="263.47" width="0.48" height="0.6" fill="#b8b8b8"/><rect x="21.14" y="265.02" width="1.6" height="0.6" fill="#b8b8b8"/><rect x="21.19" y="266.57" width="0.84" height="0.6" fill="#b8b8b8"/><rect x="21.5" y="268.12" width="1.1" height="0.6" fill="#b8b8b8"/><rect x="21.66" y="269.68" width="1.31" height="0.6" fill="#b8b8b8"/><rect x="21.51" y="271.23" width="1.02" height="0.6" fill="#b8b8b8"/><rect x="21.28" y="272.78" width="1.34" height="0.6" fill="#b8b8b8"/><rect x="21.18" y="274.34" width="0.75" height="0.6" fill="#b8b8b8"/><rect x="21.54" y="275.89" width="0.78" height="0.6" fill="#b8b8b8"/><rect x="21.28" y="277.44" width="1.63" height="0.6" fill="#b8b8b8"/><rect x="21.17" y="279" width="1.07" height="0.6" fill="#b8b8b8"/><rect x="21.53" y="280.55" width="0.46" height="0.6" fill="#b8b8b8"/><rect x="21.59" y="282.1" width="1.74" height="0.6" fill="#b8b8b8"/><rect x="21.49" y="283.66" width="1.06" height="0.6" fill="#b8b8b8"/><rect x="21.49" y="285.21" width="1.35" height="0.6" fill="#b8b8b8"/><rect x="21.34" y="286.76" width="1.72" height="0.6" fill="#b8b8b8"/><rect x="21.62" y="288.31" width="1.77" height="0.6" fill="#b8b8b8"/><rect x="21.2" y="289.87" width="0.76" height="0.6" fill="#b8b8b8"/><rect x="21.27" y="291.42" width="0.95" height="0.6" fill="#b8b8b8"/><rect x="21.25" y="292.97" width="1.25" height="0.6" fill="#b8b8b8"/><rect x="21.56" y="294.53" width="0.77" height="0.6" fill="#b8b8b8"/><rect x="21.52" y="296.08" width="1.31" height="0.6" fill="#b8b8b8"/><rect x="21.55" y="297.63" width="1.34" height="0.6" fill="#b8b8b8"/><rect x="21.36" y="299.19" width="0.97" height="0.6" fill="#b8b8b8"/><rect x="21.34" y="300.74" width="1.45" height="0.6" fill="#b8b8b8"/><rect x="21.1" y="302.29" width="0.77" height="0.6" fill="#b8b8b8"/><rect x="21.4" y="303.84" width="1.69" height="0.6" fill="#b8b8b8"/><rect x="21.23" y="305.4" width="1.4" height="0.6" fill="#b8b8b8"/><rect x="21.12" y="306.95" width="1.64" height="0.6" fill="#b8b8b8"/><rect x="21.4" y="308.5" width="1.77" height="0.6" fill="#b8b8b8"/><rect x="21.24" y="310.06" width="1.27" height="0.6" fill="#b8b8b8"/><rect x="21.17" y="311.61" width="0.61" height="0.6" fill="#b8b8b8"/><rect x="21.36" y="313.16" width="1.05" height="0.6" fill="#b8b8b8"/><rect x="21.51" y="314.72" width="0.44" height="0.6" fill="#b8b8b8"/><rect x="21.26" y="316.27" width="1.48" height="0.6" fill="#b8b8b8"/><rect x="21.16" y="317.82" width="0.86" height="0.6" fill="#b8b8b8"/><rect x="21.13" y="319.37" width="0.44" height="0.6" fill="#b8b8b8"/><rect x="21.42" y="320.93" width="1.21" height="0.6" fill="#b8b8b8"/><rect x="21.28" y="322.48" width="1.05" height="0.6" fill="#b8b8b8"/><rect x="21.13" y="324.03" width="0.55" height="0.6" fill="#b8b8b8"/><rect x="21.23" y="325.59" width="1.79" height="0.6" fill="#b8b8b8"/><rect x="21.14" y="327.14" width="0.54" height="0.6" fill="#b8b8b8"/><rect x="21.52" y="328.69" width="0.47" height="0.6" fill="#b8b8b8"/><rect x="21.55" y="330.25" width="1.14" height="0.6" fill="#b8b8b8"/><rect x="21.27" y="331.8" width="1.71" height="0.6" fill="#b8b8b8"/><rect x="21.32" y="333.35" width="1.01" height="0.6" fill="#b8b8b8"/><rect x="21.34" y="334.9" width="0.88" height="0.6" fill="#b8b8b8"/><rect x="21.68" y="336.46" width="0.81" height="0.6" fill="#b8b8b8"/><rect x="21.62" y="338.01" width="1.6" height="0.6" fill="#b8b8b8"/><rect x="21.42" y="339.56" width="0.7" height="0.6" fill="#b8b8b8"/><rect x="21.65" y="341.12" width="1.51" height="0.6" fill="#b8b8b8"/><rect x="21.65" y="342.67" width="0.51" height="0.6" fill="#b8b8b8"/><rect x="21.36" y="344.22" width="1.07" height="0.6" fill="#b8b8b8"/><rect x="21.35" y="345.77" width="1.28" height="0.6" fill="#b8b8b8"/><rect x="21.59" y="347.33" width="1.69" height="0.6" fill="#b8b8b8"/><rect x="21.4" y="348.88" width="1.73" height="0.6" fill="#b8b8b8"/><rect x="21.45" y="350.43" width="0.99" height="0.6" fill="#b8b8b8"/><rect x="21.11" y="351.99" width="0.52" height="0.6" fill="#b8b8b8"/><rect x="21.21" y="353.54" width="1.78" height="0.6" fill="#b8b8b8"/><rect x="21.47" y="355.09" width="0.66" height="0.6" fill="#b8b8b8"/><rect x="21.68" y="356.65" width="1.5" height="0.6" fill="#b8b8b8"/><rect x="21.45" y="358.2" width="1.71" height="0.6" fill="#b8b8b8"/><rect x="21.26" y="359.75" width="1.52" height="0.6" fill="#b8b8b8"/><rect x="21.12" y="361.31" width="0.48" height="0.6" fill="#b8b8b8"/><rect x="21.14" y="362.86" width="1.77" height="0.6" fill="#b8b8b8"/><rect x="21.67" y="364.41" width="0.67" height="0.6" fill="#b8b8b8"/><rect x="21.25" y="365.96" width="1.67" height="0.6" fill="#b8b8b8"/><rect x="21.43" y="367.52" width="0.4" height="0.6" fill="#b8b8b8"/><rect x="21.38" y="369.07" width="1.26" height="0.6" fill="#b8b8b8"/><rect x="21.62" y="370.62" width="1.79" height="0.6" fill="#b8b8b8"/><rect x="21.4" y="372.18" width="1.5" height="0.6" fill="#b8b8b8"/><rect x="21.25" y="373.73" width="1.54" height="0.6" fill="#b8b8b8"/><rect x="21.24" y="375.28" width="1.61" height="0.6" fill="#b8b8b8"/><rect x="21.35" y="376.84" width="0.52" height="0.6" fill="#b8b8b8"/><rect x="21.44" y="378.39" width="0.74" height="0.6" fill="#b8b8b8"/><rect x="21.44" y="379.94" width="0.96" height="0.6" fill="#b8b8b8"/><rect x="21.33" y="381.49" width="1.44" height="0.6" fill="#b8b8b8"/><rect x="21.54" y="383.05" width="1.27" height="0.6" fill="#b8b8b8"/><rect x="21.22" y="384.6" width="0.74" height="0.6" fill="#b8b8b8"/><rect x="21.54" y="386.15" width="1.78" height="0.6" fill="#b8b8b8"/><rect x="21.62" y="387.71" width="1.7" height="0.6" fill="#b8b8b8"/><rect x="21.48" y="389.26" width="0.87" height="0.6" fill="#b8b8b8"/><rect x="21.11" y="390.81" width="1.57" height="0.6" fill="#b8b8b8"/><rect x="21.53" y="392.37" width="1.21" height="0.6" fill="#b8b8b8"/><rect x="21.54" y="393.92" width="1.62" height="0.6" fill="#b8b8b8"/><rect x="21.21" y="395.47" width="0.45" height="0.6" fill="#b8b8b8"/><rect x="21.16" y="397.02" width="0.77" height="0.6" fill="#b8b8b8"/><rect x="21.22" y="398.58" width="1.33" height="0.6" fill="#b8b8b8"/><rect x="21.22" y="400.13" width="1.01" height="0.6" fill="#b8b8b8"/><rect x="21.23" y="401.68" width="0.43" height="0.6" fill="#b8b8b8"/><rect x="21.62" y="403.24" width="1.27" height="0.6" fill="#b8b8b8"/><rect x="21.15" y="404.79" width="1.43" height="0.6" fill="#b8b8b8"/><rect x="21.48" y="406.34" width="1.17" height="0.6" fill="#b8b8b8"/><rect x="21.5" y="407.89" width="1.35" height="0.6" fill="#b8b8b8"/><rect x="21.4" y="409.45" width="1.52" height="0.6" fill="#b8b8b8"/><rect x="21.66" y="411" width="1.64" height="0.6" fill="#b8b8b8"/><rect x="21.14" y="412.55" width="0.72" height="0.6" fill="#b8b8b8"/><rect x="21.24" y="414.11" width="1.25" height="0.6" fill="#b8b8b8"/><rect x="21.46" y="415.66" width="1.8" height="0.6" fill="#b8b8b8"/><rect x="21.37" y="417.21" width="0.7" height="0.6" fill="#b8b8b8"/><rect x="21.28" y="418.77" width="1.24" height="0.6" fill="#b8b8b8"/><rect x="21.15" y="420.32" width="1.22" height="0.6" fill="#b8b8b8"/><rect x="21.54" y="421.87" width="1.19" height="0.6" fill="#b8b8b8"/><rect x="21.33" y="423.43" width="1.58" height="0.6" fill="#b8b8b8"/><rect x="21.31" y="424.98" width="1" height="0.6" fill="#b8b8b8"/><rect x="21.15" y="426.53" width="0.93" height="0.6" fill="#b8b8b8"/><rect x="21.62" y="428.08" width="0.82" height="0.6" fill="#b8b8b8"/><rect x="21.67" y="429.64" width="1.45" height="0.6" fill="#b8b8b8"/><rect x="21.36" y="431.19" width="1.1" height="0.6" fill="#b8b8b8"/><rect x="21.13" y="432.74" width="0.7" height="0.6" fill="#b8b8b8"/><rect x="21.49" y="434.3" width="0.49" height="0.6" fill="#b8b8b8"/><rect x="21.69" y="435.85" width="1.4" height="0.6" fill="#b8b8b8"/><rect x="21.3" y="437.4" width="0.91" height="0.6" fill="#b8b8b8"/><rect x="21.39" y="438.96" width="0.76" height="0.6" fill="#b8b8b8"/><rect x="21.51" y="440.51" width="0.97" height="0.6" fill="#b8b8b8"/><rect x="21.19" y="442.06" width="0.44" height="0.6" fill="#b8b8b8"/><rect x="21.55" y="443.61" width="1.22" height="0.6" fill="#b8b8b8"/><rect x="21.59" y="445.17" width="1.11" height="0.6" fill="#b8b8b8"/><rect x="21.11" y="446.72" width="1.46" height="0.6" fill="#b8b8b8"/><rect x="21.31" y="448.27" width="1.73" height="0.6" fill="#b8b8b8"/><rect x="21.3" y="449.83" width="1.69" height="0.6" fill="#b8b8b8"/><rect x="21.58" y="451.38" width="1.09" height="0.6" fill="#b8b8b8"/><rect x="21.39" y="452.93" width="1.67" height="0.6" fill="#b8b8b8"/><rect x="21.68" y="454.49" width="1.35" height="0.6" fill="#b8b8b8"/><rect x="21.16" y="456.04" width="0.47" height="0.6" fill="#b8b8b8"/><rect x="21.38" y="457.59" width="1.18" height="0.6" fill="#b8b8b8"/><rect x="21.36" y="459.14" width="0.43" height="0.6" fill="#b8b8b8"/><rect x="21.27" y="460.7" width="1.01" height="0.6" fill="#b8b8b8"/><rect x="21.13" y="462.25" width="0.41" height="0.6" fill="#b8b8b8"/><rect x="21.43" y="463.8" width="0.64" height="0.6" fill="#b8b8b8"/><rect x="21.32" y="465.36" width="0.7" height="0.6" fill="#b8b8b8"/><rect x="21.52" y="466.91" width="0.61" height="0.6" fill="#b8b8b8"/><rect x="21.45" y="468.46" width="1.12" height="0.6" fill="#b8b8b8"/><rect x="21.42" y="470.01" width="0.96" height="0.6" fill="#b8b8b8"/><rect x="21.34" y="471.57" width="1.5" height="0.6" fill="#b8b8b8"/><rect x="21.48" y="473.12" width="1.57" height="0.6" fill="#b8b8b8"/><rect x="21.47" y="474.67" width="0.69" height="0.6" fill="#b8b8b8"/><rect x="21.12" y="476.23" width="1.67" height="0.6" fill="#b8b8b8"/><rect x="21.48" y="477.78" width="0.44" height="0.6" fill="#b8b8b8"/><rect x="21.21" y="479.33" width="0.43" height="0.6" fill="#b8b8b8"/><rect x="21.13" y="480.89" width="1.22" height="0.6" fill="#b8b8b8"/><rect x="21.5" y="482.44" width="0.81" height="0.6" fill="#b8b8b8"/><rect x="21.3" y="483.99" width="1.27" height="0.6" fill="#b8b8b8"/><rect x="21.32" y="485.55" width="0.85" height="0.6" fill="#b8b8b8"/><rect x="21.59" y="487.1" width="1.67" height="0.6" fill="#b8b8b8"/><rect x="21.61" y="488.65" width="1.38" height="0.6" fill="#b8b8b8"/><rect x="21.12" y="490.2" width="1.68" height="0.6" fill="#b8b8b8"/><rect x="21.57" y="491.76" width="0.79" height="0.6" fill="#b8b8b8"/><rect x="21.4" y="493.31" width="0.9" height="0.6" fill="#b8b8b8"/><rect x="21.43" y="494.86" width="1.24" height="0.6" fill="#b8b8b8"/><rect x="21.29" y="496.42" width="1.31" height="0.6" fill="#b8b8b8"/><rect x="21.65" y="497.97" width="1.5" height="0.6" fill="#b8b8b8"/><rect x="21.63" y="499.52" width="0.65" height="0.6" fill="#b8b8b8"/><rect x="21.21" y="501.07" width="1.23" height="0.6" fill="#b8b8b8"/><rect x="21.56" y="502.63" width="1.06" height="0.6" fill="#b8b8b8"/><rect x="21.46" y="504.18" width="0.89" height="0.6" fill="#b8b8b8"/><rect x="21.56" y="505.73" width="0.85" height="0.6" fill="#b8b8b8"/><rect x="21.61" y="507.29" width="1.07" height="0.6" fill="#b8b8b8"/><rect x="21.14" y="508.84" width="1.09" height="0.6" fill="#b8b8b8"/><rect x="21.5" y="510.39" width="1.59" height="0.6" fill="#b8b8b8"/><rect x="21.55" y="511.95" width="1.47" height="0.6" fill="#b8b8b8"/><rect x="21.51" y="513.5" width="1.72" height="0.6" fill="#b8b8b8"/><rect x="21.11" y="515.05" width="0.85" height="0.6" fill="#b8b8b8"/><rect x="21.46" y="516.61" width="1.47" height="0.6" fill="#b8b8b8"/><rect x="21.4" y="518.16" width="1.15" height="0.6" fill="#b8b8b8"/><rect x="21.33" y="519.71" width="1.51" height="0.6" fill="#b8b8b8"/><rect x="21.35" y="521.26" width="1.67" height="0.6" fill="#b8b8b8"/><rect x="21.47" y="522.82" width="1.18" height="0.6" fill="#b8b8b8"/><rect x="21.13" y="524.37" width="0.61" height="0.6" fill="#b8b8b8"/><rect x="21.51" y="525.92" width="0.48" height="0.6" fill="#b8b8b8"/><rect x="21.57" y="527.48" width="0.71" height="0.6" fill="#b8b8b8"/><rect x="21.11" y="529.03" width="0.75" height="0.6" fill="#b8b8b8"/><rect x="21.1" y="530.58" width="1.69" height="0.6" fill="#b8b8b8"/><rect x="21.28" y="532.13" width="0.42" height="0.6" fill="#b8b8b8"/><rect x="21.32" y="533.69" width="0.98" height="0.6" fill="#b8b8b8"/><rect x="21.2" y="535.24" width="0.64" height="0.6" fill="#b8b8b8"/><rect x="21.2" y="536.79" width="0.53" height="0.6" fill="#b8b8b8"/><rect x="21.51" y="538.35" width="0.67" height="0.6" fill="#b8b8b8"/></g>
<path d="M18.23 232.12L18.23 233.17M18.23 232.12L19.2 232.12M18.23 233.17L19.2 233.17M17.56 231.07L17.56 232.64M17.56 231.07L19.2 231.07M17.56 232.64L18.23 232.64M17.13 230.02L17.13 231.86M17.13 230.02L19.2 230.02M17.13 231.86L17.56 231.86M17.96 235.26L17.96 236.31M17.96 235.26L19.2 235.26M17.96 236.31L19.2 236.31M17.61 234.22L17.61 235.79M17.61 234.22L19.2 234.22M17.61 235.79L17.96 235.79M16.83 230.94L16.83 235M16.83 230.94L17.13 230.94M16.83 235L17.61 235M17.99 240.5L17.99 241.55M17.99 240.5L19.2 240.5M17.99 241.55L19.2 241.55M17.53 239.45L17.53 241.03M17.53 239.45L19.2 239.45M17.53 241.03L17.99 241.03M17.13 238.41L17.13 240.24M17.13 238.41L19.2 238.41M17.13 240.24L17.53 240.24M16.72 237.36L16.72 239.32M16.72 237.36L19.2 237.36M16.72 239.32L17.13 239.32M16.42 232.97L16.42 238.34M16.42 232.97L16.83 232.97M16.42 238.34L16.72 238.34M18.21 242.6L18.21 243.65M18.21 242.6L19.2 242.6M18.21 243.65L19.2 243.65M18.15 244.69L18.15 245.74M18.15 244.69L19.2 244.69M18.15 245.74L19.2 245.74M17.53 245.22L17.53 246.79M17.53 245.22L18.15 245.22M17.53 246.79L19.2 246.79M16.94 243.12L16.94 246M16.94 243.12L18.21 243.12M16.94 246L17.53 246M18 247.84L18 248.88M18 247.84L19.2 247.84M18 248.88L19.2 248.88M16.59 244.56L16.59 248.36M16.59 244.56L16.94 244.56M16.59 248.36L18 248.36M16.12 235.66L16.12 246.46M16.12 235.66L16.42 235.66M16.12 246.46L16.59 246.46M18.13 249.93L18.13 250.98M18.13 249.93L19.2 249.93M18.13 250.98L19.2 250.98M15.82 241.06L15.82 250.46M15.82 241.06L16.12 241.06M15.82 250.46L18.13 250.46M17.82 252.03L17.82 253.08M17.82 252.03L19.2 252.03M17.82 253.08L19.2 253.08M15.52 245.76L15.52 252.55M15.52 245.76L15.82 245.76M15.52 252.55L17.82 252.55M18.13 254.12L18.13 255.17M18.13 254.12L19.2 254.12M18.13 255.17L19.2 255.17M17.6 254.65L17.6 256.22M17.6 254.65L18.13 254.65M17.6 256.22L19.2 256.22M18.27 258.31L18.27 259.36M18.27 258.31L19.2 258.31M18.27 259.36L19.2 259.36M17.73 257.27L17.73 258.84M17.73 257.27L19.2 257.27M17.73 258.84L18.27 258.84M16.74 255.43L16.74 258.05M16.74 255.43L17.6 255.43M16.74 258.05L17.73 258.05M15.22 249.15L15.22 256.74M15.22 249.15L15.52 249.15M15.22 256.74L16.74 256.74M17.93 260.41L17.93 261.46M17.93 260.41L19.2 260.41M17.93 261.46L19.2 261.46M14.92 252.95L14.92 260.93M14.92 252.95L15.22 252.95M14.92 260.93L17.93 260.93M18.08 262.51L18.08 263.55M18.08 262.51L19.2 262.51M18.08 263.55L19.2 263.55M17.86 264.6L17.86 265.65M17.86 264.6L19.2 264.6M17.86 265.65L19.2 265.65M17.23 263.03L17.23 265.12M17.23 263.03L18.08 263.03M17.23 265.12L17.86 265.12M14.62 256.94L14.62 264.08M14.62 256.94L14.92 256.94M14.62 264.08L17.23 264.08M18.05 266.7L18.05 267.74M18.05 266.7L19.2 266.7M18.05 267.74L19.2 267.74M18.1 270.89L18.1 271.94M18.1 270.89L19.2 270.89M18.1 271.94L19.2 271.94M17.32 269.84L17.32 271.41M17.32 269.84L19.2 269.84M17.32 271.41L18.1 271.41M16.97 268.79L16.97 270.63M16.97 268.79L19.2 268.79M16.97 270.63L17.32 270.63M16.62 267.22L16.62 269.71M16.62 267.22L18.05 267.22M16.62 269.71L16.97 269.71M14.32 260.51L14.32 268.46M14.32 260.51L14.62 260.51M14.32 268.46L16.62 268.46M18.23 272.98L18.23 274.03M18.23 272.98L19.2 272.98M18.23 274.03L19.2 274.03M14.02 264.49L14.02 273.51M14.02 264.49L14.32 264.49M14.02 273.51L18.23 273.51M17.96 276.13L17.96 277.17M17.96 276.13L19.2 276.13M17.96 277.17L19.2 277.17M17.58 275.08L17.58 276.65M17.58 275.08L19.2 275.08M17.58 276.65L17.96 276.65M18.22 279.27L18.22 280.32M18.22 279.27L19.2 279.27M18.22 280.32L19.2 280.32M17.44 278.22L17.44 279.79M17.44 278.22L19.2 278.22M17.44 279.79L18.22 279.79M16.87 275.86L16.87 279.01M16.87 275.86L17.58 275.86M16.87 279.01L17.44 279.01M13.72 269L13.72 277.44M13.72 269L14.02 269M13.72 277.44L16.87 277.44M18.23 282.41L18.23 283.46M18.23 282.41L19.2 282.41M18.23 283.46L19.2 283.46M17.51 281.37L17.51 282.94M17.51 281.37L19.2 281.37M17.51 282.94L18.23 282.94M13.42 273.22L13.42 282.15M13.42 273.22L13.72 273.22M13.42 282.15L17.51 282.15M18.24 284.51L18.24 285.56M18.24 284.51L19.2 284.51M18.24 285.56L19.2 285.56M13.12 277.68L13.12 285.03M13.12 277.68L13.42 277.68M13.12 285.03L18.24 285.03M17.97 286.6L17.97 287.65M17.97 286.6L19.2 286.6M17.97 287.65L19.2 287.65M12.82 281.36L12.82 287.13M12.82 281.36L13.12 281.36M12.82 287.13L17.97 287.13M17.82 288.7L17.82 289.75M17.82 288.7L19.2 288.7M17.82 289.75L19.2 289.75M18.1 291.84L18.1 292.89M18.1 291.84L19.2 291.84M18.1 292.89L19.2 292.89M17.58 290.8L17.58 292.37M17.58 290.8L19.2 290.8M17.58 292.37L18.1 292.37M16.87 289.22L16.87 291.58M16.87 289.22L17.82 289.22M16.87 291.58L17.58 291.58M12.52 284.24L12.52 290.4M12.52 284.24L12.82 284.24M12.52 290.4L16.87 290.4M18 296.03L18 297.08M18 296.03L19.2 296.03M18 297.08L19.2 297.08M17.65 294.99L17.65 296.56M17.65 294.99L19.2 294.99M17.65 296.56L18 296.56M17.12 295.77L17.12 298.13M17.12 295.77L17.65 295.77M17.12 298.13L19.2 298.13M16.77 293.94L16.77 296.95M16.77 293.94L19.2 293.94M16.77 296.95L17.12 296.95M12.22 287.32L12.22 295.45M12.22 287.32L12.52 287.32M12.22 295.45L16.77 295.45M18.26 299.18L18.26 300.23M18.26 299.18L19.2 299.18M18.26 300.23L19.2 300.23M11.92 291.38L11.92 299.7M11.92 291.38L12.22 291.38M11.92 299.7L18.26 299.7M17.82 302.32L17.82 303.37M17.82 302.32L19.2 302.32M17.82 303.37L19.2 303.37M17.47 301.27L17.47 302.85M17.47 301.27L19.2 301.27M17.47 302.85L17.82 302.85M11.62 295.54L11.62 302.06M11.62 295.54L11.92 295.54M11.62 302.06L17.47 302.06M18.06 304.42L18.06 305.47M18.06 304.42L19.2 304.42M18.06 305.47L19.2 305.47M11.32 298.8L11.32 304.94M11.32 298.8L11.62 298.8M11.32 304.94L18.06 304.94M18.23 306.51L18.23 307.56M18.23 306.51L19.2 306.51M18.23 307.56L19.2 307.56M18.06 308.61L18.06 309.66M18.06 308.61L19.2 308.61M18.06 309.66L19.2 309.66M18.04 310.7L18.04 311.75M18.04 310.7L19.2 310.7M18.04 311.75L19.2 311.75M17.3 309.13L17.3 311.23M17.3 309.13L18.06 309.13M17.3 311.23L18.04 311.23M16.4 307.04L16.4 310.18M16.4 307.04L18.23 307.04M16.4 310.18L17.3 310.18M11.02 301.87L11.02 308.61M11.02 301.87L11.32 301.87M11.02 308.61L16.4 308.61M18.15 312.8L18.15 313.85M18.15 312.8L19.2 312.8M18.15 313.85L19.2 313.85M17.45 313.32L17.45 314.9M17.45 313.32L18.15 313.32M17.45 314.9L19.2 314.9M17.88 315.94L17.88 316.99M17.88 315.94L19.2 315.94M17.88 316.99L19.2 316.99M16.85 314.11L16.85 316.47M16.85 314.11L17.45 314.11M16.85 316.47L17.88 316.47M10.72 305.24L10.72 315.29M10.72 305.24L11.02 305.24M10.72 315.29L16.85 315.29M18.19 318.04L18.19 319.09M18.19 318.04L19.2 318.04M18.19 319.09L19.2 319.09M10.42 310.26L10.42 318.56M10.42 310.26L10.72 310.26M10.42 318.56L18.19 318.56M17.91 321.18L17.91 322.23M17.91 321.18L19.2 321.18M17.91 322.23L19.2 322.23M17.39 320.13L17.39 321.71M17.39 320.13L19.2 320.13M17.39 321.71L17.91 321.71M18.1 324.33L18.1 325.37M18.1 324.33L19.2 324.33M18.1 325.37L19.2 325.37M17.37 323.28L17.37 324.85M17.37 323.28L19.2 323.28M17.37 324.85L18.1 324.85M16.77 320.92L16.77 324.06M16.77 320.92L17.39 320.92M16.77 324.06L17.37 324.06M10.12 314.41L10.12 322.49M10.12 314.41L10.42 314.41M10.12 322.49L16.77 322.49M17.81 326.42L17.81 327.47M17.81 326.42L19.2 326.42M17.81 327.47L19.2 327.47M9.82 318.45L9.82 326.94M9.82 318.45L10.12 318.45M9.82 326.94L17.81 326.94M18 329.56L18 330.61M18 329.56L19.2 329.56M18 330.61L19.2 330.61M17.6 328.52L17.6 330.09M17.6 328.52L19.2 328.52M17.6 330.09L18 330.09M9.52 322.7L9.52 329.3M9.52 322.7L9.82 322.7M9.52 329.3L17.6 329.3M18.25 332.71L18.25 333.76M18.25 332.71L19.2 332.71M18.25 333.76L19.2 333.76M17.54 333.23L17.54 334.8M17.54 333.23L18.25 333.23M17.54 334.8L19.2 334.8M17.19 331.66L17.19 334.02M17.19 331.66L19.2 331.66M17.19 334.02L17.54 334.02M17.99 336.9L17.99 337.95M17.99 336.9L19.2 336.9M17.99 337.95L19.2 337.95M17.64 335.85L17.64 337.42M17.64 335.85L19.2 335.85M17.64 337.42L17.99 337.42M16.22 332.84L16.22 336.64M16.22 332.84L17.19 332.84M16.22 336.64L17.64 336.64M9.22 326L9.22 334.74M9.22 326L9.52 326M9.22 334.74L16.22 334.74M18.11 338.99L18.11 340.04M18.11 338.99L19.2 338.99M18.11 340.04L19.2 340.04M18.2 341.09L18.2 342.14M18.2 341.09L19.2 341.09M18.2 342.14L19.2 342.14M16.96 339.52L16.96 341.61M16.96 339.52L18.11 339.52M16.96 341.61L18.2 341.61M18.26 344.23L18.26 345.28M18.26 344.23L19.2 344.23M18.26 345.28L19.2 345.28M17.3 343.19L17.3 344.76M17.3 343.19L19.2 343.19M17.3 344.76L18.26 344.76M16.31 340.57L16.31 343.97M16.31 340.57L16.96 340.57M16.31 343.97L17.3 343.97M8.92 330.37L8.92 342.27M8.92 330.37L9.22 330.37M8.92 342.27L16.31 342.27M17.8 347.38L17.8 348.42M17.8 347.38L19.2 347.38M17.8 348.42L19.2 348.42M17.45 346.33L17.45 347.9M17.45 346.33L19.2 346.33M17.45 347.9L17.8 347.9M17.97 350.52L17.97 351.57M17.97 350.52L19.2 350.52M17.97 351.57L19.2 351.57M17.47 349.47L17.47 351.04M17.47 349.47L19.2 349.47M17.47 351.04L17.97 351.04M16.58 347.11L16.58 350.26M16.58 347.11L17.45 347.11M16.58 350.26L17.47 350.26M8.62 336.32L8.62 348.69M8.62 336.32L8.92 336.32M8.62 348.69L16.58 348.69M18.22 352.62L18.22 353.66M18.22 352.62L19.2 352.62M18.22 353.66L19.2 353.66M8.32 342.5L8.32 353.14M8.32 342.5L8.62 342.5M8.32 353.14L18.22 353.14M17.93 356.81L17.93 357.85M17.93 356.81L19.2 356.81M17.93 357.85L19.2 357.85M17.58 355.76L17.58 357.33M17.58 355.76L19.2 355.76M17.58 357.33L17.93 357.33M18.2 358.9L18.2 359.95M18.2 358.9L19.2 358.9M18.2 359.95L19.2 359.95M16.67 356.55L16.67 359.43M16.67 356.55L17.58 356.55M16.67 359.43L18.2 359.43M16.32 354.71L16.32 357.99M16.32 354.71L19.2 354.71M16.32 357.99L16.67 357.99M8.02 347.82L8.02 356.35M8.02 347.82L8.32 347.82M8.02 356.35L16.32 356.35M18.03 362.05L18.03 363.09M18.03 362.05L19.2 362.05M18.03 363.09L19.2 363.09M17.36 361L17.36 362.57M17.36 361L19.2 361M17.36 362.57L18.03 362.57M17.85 365.19L17.85 366.24M17.85 365.19L19.2 365.19M17.85 366.24L19.2 366.24M17.44 364.14L17.44 365.71M17.44 364.14L19.2 364.14M17.44 365.71L17.85 365.71M16.47 361.78L16.47 364.93M16.47 361.78L17.36 361.78M16.47 364.93L17.44 364.93M7.72 352.08L7.72 363.36M7.72 352.08L8.02 352.08M7.72 363.36L16.47 363.36M18.22 367.28L18.22 368.33M18.22 367.28L19.2 367.28M18.22 368.33L19.2 368.33M17.52 367.81L17.52 369.38M17.52 367.81L18.22 367.81M17.52 369.38L19.2 369.38M17.91 370.43L17.91 371.48M17.91 370.43L19.2 370.43M17.91 371.48L19.2 371.48M16.81 368.59L16.81 370.95M16.81 368.59L17.52 368.59M16.81 370.95L17.91 370.95M7.42 357.72L7.42 369.77M7.42 357.72L7.72 357.72M7.42 369.77L16.81 369.77M18.24 372.52L18.24 373.55M18.24 372.52L19.2 372.52M18.24 373.55L19.2 373.55M17.91 376.65L17.91 377.68M17.91 376.65L19.2 376.65M17.91 377.68L19.2 377.68M17.33 375.62L17.33 377.17M17.33 375.62L19.2 375.62M17.33 377.17L17.91 377.17M18.2 378.72L18.2 379.75M18.2 378.72L19.2 378.72M18.2 379.75L19.2 379.75M16.98 376.39L16.98 379.23M16.98 376.39L17.33 376.39M16.98 379.23L18.2 379.23M16.63 374.58L16.63 377.81M16.63 374.58L19.2 374.58M16.63 377.81L16.98 377.81M16.27 373.03L16.27 376.2M16.27 373.03L18.24 373.03M16.27 376.2L16.63 376.2M18.14 380.78L18.14 381.82M18.14 380.78L19.2 380.78M18.14 381.82L19.2 381.82M18 382.85L18 383.88M18 382.85L19.2 382.85M18 383.88L19.2 383.88M17.3 381.3L17.3 383.37M17.3 381.3L18.14 381.3M17.3 383.37L18 383.37M18.18 384.92L18.18 385.95M18.18 384.92L19.2 384.92M18.18 385.95L19.2 385.95M17.51 385.43L17.51 386.98M17.51 385.43L18.18 385.43M17.51 386.98L19.2 386.98M17.84 388.02L17.84 389.05M17.84 388.02L19.2 388.02M17.84 389.05L19.2 389.05M17.33 388.53L17.33 390.08M17.33 388.53L17.84 388.53M17.33 390.08L19.2 390.08M16.77 386.21L16.77 389.31M16.77 386.21L17.51 386.21M16.77 389.31L17.33 389.31M18.14 391.12L18.14 392.15M18.14 391.12L19.2 391.12M18.14 392.15L19.2 392.15M18.19 394.22L18.19 395.25M18.19 394.22L19.2 394.22M18.19 395.25L19.2 395.25M17.62 393.18L17.62 394.73M17.62 393.18L19.2 393.18M17.62 394.73L18.19 394.73M17.05 391.63L17.05 393.96M17.05 391.63L18.14 391.63M17.05 393.96L17.62 393.96M18.17 397.32L18.17 398.35M18.17 397.32L19.2 397.32M18.17 398.35L19.2 398.35M17.7 396.28L17.7 397.83M17.7 396.28L19.2 396.28M17.7 397.83L18.17 397.83M17.17 397.06L17.17 399.38M17.17 397.06L17.7 397.06M17.17 399.38L19.2 399.38M17.86 401.45L17.86 402.48M17.86 401.45L19.2 401.45M17.86 402.48L19.2 402.48M17.51 400.42L17.51 401.97M17.51 400.42L19.2 400.42M17.51 401.97L17.86 401.97M16.34 398.22L16.34 401.19M16.34 398.22L17.17 398.22M16.34 401.19L17.51 401.19M15.86 392.8L15.86 399.71M15.86 392.8L17.05 392.8M15.86 399.71L16.34 399.71M15.09 387.76L15.09 396.25M15.09 387.76L16.77 387.76M15.09 396.25L15.86 396.25M14.69 382.33L14.69 392M14.69 382.33L17.3 382.33M14.69 392L15.09 392M14.34 374.62L14.34 387.17M14.34 374.62L16.27 374.62M14.34 387.17L14.69 387.17M18.28 404.57L18.28 405.62M18.28 404.57L19.2 404.57M18.28 405.62L19.2 405.62M17.38 403.52L17.38 405.09M17.38 403.52L19.2 403.52M17.38 405.09L18.28 405.09M18.24 406.66L18.24 407.71M18.24 406.66L19.2 406.66M18.24 407.71L19.2 407.71M16.9 404.31L16.9 407.19M16.9 404.31L17.38 404.31M16.9 407.19L18.24 407.19M18.17 408.76L18.17 409.8M18.17 408.76L19.2 408.76M18.17 409.8L19.2 409.8M17.7 409.28L17.7 410.85M17.7 409.28L18.17 409.28M17.7 410.85L19.2 410.85M15.91 405.75L15.91 410.07M15.91 405.75L16.9 405.75M15.91 410.07L17.7 410.07M18.26 411.9L18.26 412.95M18.26 411.9L19.2 411.9M18.26 412.95L19.2 412.95M17.96 413.99L17.96 415.04M17.96 413.99L19.2 413.99M17.96 415.04L19.2 415.04M17.19 412.42L17.19 414.52M17.19 412.42L18.26 412.42M17.19 414.52L17.96 414.52M15.61 407.91L15.61 413.47M15.61 407.91L15.91 407.91M15.61 413.47L17.19 413.47M18.26 417.13L18.26 418.18M18.26 417.13L19.2 417.13M18.26 418.18L19.2 418.18M17.35 416.09L17.35 417.66M17.35 416.09L19.2 416.09M17.35 417.66L18.26 417.66M17 416.87L17 419.23M17 416.87L17.35 416.87M17 419.23L19.2 419.23M15.31 410.69L15.31 418.05M15.31 410.69L15.61 410.69M15.31 418.05L17 418.05M18.13 420.27L18.13 421.32M18.13 420.27L19.2 420.27M18.13 421.32L19.2 421.32M15.01 414.37L15.01 420.8M15.01 414.37L15.31 414.37M15.01 420.8L18.13 420.8M18.25 425.51L18.25 426.55M18.25 425.51L19.2 425.51M18.25 426.55L19.2 426.55M17.69 424.46L17.69 426.03M17.69 424.46L19.2 424.46M17.69 426.03L18.25 426.03M17.34 423.41L17.34 425.25M17.34 423.41L19.2 423.41M17.34 425.25L17.69 425.25M16.99 422.37L16.99 424.33M16.99 422.37L19.2 422.37M16.99 424.33L17.34 424.33M18.15 427.6L18.15 428.65M18.15 427.6L19.2 427.6M18.15 428.65L19.2 428.65M16.29 423.35L16.29 428.12M16.29 423.35L16.99 423.35M16.29 428.12L18.15 428.12M14.71 417.58L14.71 425.74M14.71 417.58L15.01 417.58M14.71 425.74L16.29 425.74M18.13 429.7L18.13 430.74M18.13 429.7L19.2 429.7M18.13 430.74L19.2 430.74M18.17 431.79L18.17 432.84M18.17 431.79L19.2 431.79M18.17 432.84L19.2 432.84M17.39 430.22L17.39 432.31M17.39 430.22L18.13 430.22M17.39 432.31L18.17 432.31M14.41 421.66L14.41 431.27M14.41 421.66L14.71 421.66M14.41 431.27L17.39 431.27M18.21 433.88L18.21 434.93M18.21 433.88L19.2 433.88M18.21 434.93L19.2 434.93M14.11 426.46L14.11 434.41M14.11 426.46L14.41 426.46M14.11 434.41L18.21 434.41M18.08 437.02L18.08 438.07M18.08 437.02L19.2 437.02M18.08 438.07L19.2 438.07M17.53 435.98L17.53 437.55M17.53 435.98L19.2 435.98M17.53 437.55L18.08 437.55M16.98 436.76L16.98 439.12M16.98 436.76L17.53 436.76M16.98 439.12L19.2 439.12M13.81 430.43L13.81 437.94M13.81 430.43L14.11 430.43M13.81 437.94L16.98 437.94M18.13 441.21L18.13 442.26M18.13 441.21L19.2 441.21M18.13 442.26L19.2 442.26M17.36 440.16L17.36 441.73M17.36 440.16L19.2 440.16M17.36 441.73L18.13 441.73M18.1 444.35L18.1 445.4M18.1 444.35L19.2 444.35M18.1 445.4L19.2 445.4M17.6 443.3L17.6 444.88M17.6 443.3L19.2 443.3M17.6 444.88L18.1 444.88M16.85 440.95L16.85 444.09M16.85 440.95L17.36 440.95M16.85 444.09L17.6 444.09M13.51 434.19L13.51 442.52M13.51 434.19L13.81 434.19M13.51 442.52L16.85 442.52M18.22 447.49L18.22 448.54M18.22 447.49L19.2 447.49M18.22 448.54L19.2 448.54M17.88 449.59L17.88 450.63M17.88 449.59L19.2 449.59M17.88 450.63L19.2 450.63M16.96 448.02L16.96 450.11M16.96 448.02L18.22 448.02M16.96 450.11L17.88 450.11M16.61 446.45L16.61 449.06M16.61 446.45L19.2 446.45M16.61 449.06L16.96 449.06M13.21 438.35L13.21 447.75M13.21 438.35L13.51 438.35M13.21 447.75L16.61 447.75M18.08 454.82L18.08 455.87M18.08 454.82L19.2 454.82M18.08 455.87L19.2 455.87M17.64 453.77L17.64 455.34M17.64 453.77L19.2 453.77M17.64 455.34L18.08 455.34M16.92 452.73L16.92 454.56M16.92 452.73L19.2 452.73M16.92 454.56L17.64 454.56M16.57 451.68L16.57 453.64M16.57 451.68L19.2 451.68M16.57 453.64L16.92 453.64M12.91 443.05L12.91 452.66M12.91 443.05L13.21 443.05M12.91 452.66L16.57 452.66M18.15 456.91L18.15 457.96M18.15 456.91L19.2 456.91M18.15 457.96L19.2 457.96M18.11 459.01L18.11 460.05M18.11 459.01L19.2 459.01M18.11 460.05L19.2 460.05M18.2 462.15L18.2 463.2M18.2 462.15L19.2 462.15M18.2 463.2L19.2 463.2M17.52 461.1L17.52 462.67M17.52 461.1L19.2 461.1M17.52 462.67L18.2 462.67M17.11 459.53L17.11 461.89M17.11 459.53L18.11 459.53M17.11 461.89L17.52 461.89M16.54 457.44L16.54 460.71M16.54 457.44L18.15 457.44M16.54 460.71L17.11 460.71M12.61 447.86L12.61 459.07M12.61 447.86L12.91 447.86M12.61 459.07L16.54 459.07M18.28 464.24L18.28 465.29M18.28 464.24L19.2 464.24M18.28 465.29L19.2 465.29M12.31 453.47L12.31 464.77M12.31 453.47L12.61 453.47M12.31 464.77L18.28 464.77M17.92 469.48L17.92 470.52M17.92 469.48L19.2 469.48M17.92 470.52L19.2 470.52M17.44 468.43L17.44 470M17.44 468.43L19.2 468.43M17.44 470L17.92 470M17.04 467.38L17.04 469.21M17.04 467.38L19.2 467.38M17.04 469.21L17.44 469.21M16.67 466.34L16.67 468.3M16.67 466.34L19.2 466.34M16.67 468.3L17.04 468.3M12.01 459.12L12.01 467.32M12.01 459.12L12.31 459.12M12.01 467.32L16.67 467.32M17.94 472.62L17.94 473.66M17.94 472.62L19.2 472.62M17.94 473.66L19.2 473.66M17.45 473.14L17.45 474.71M17.45 473.14L17.94 473.14M17.45 474.71L19.2 474.71M17.1 471.57L17.1 473.93M17.1 471.57L19.2 471.57M17.1 473.93L17.45 473.93M11.71 463.22L11.71 472.75M11.71 463.22L12.01 463.22M11.71 472.75L17.1 472.75M17.89 475.76L17.89 476.8M17.89 475.76L19.2 475.76M17.89 476.8L19.2 476.8M18.04 477.85L18.04 478.9M18.04 477.85L19.2 477.85M18.04 478.9L19.2 478.9M17.15 476.28L17.15 478.38M17.15 476.28L17.89 476.28M17.15 478.38L18.04 478.38M17.9 479.95L17.9 480.99M17.9 479.95L19.2 479.95M17.9 480.99L19.2 480.99M16.46 477.33L16.46 480.47M16.46 477.33L17.15 477.33M16.46 480.47L17.9 480.47M11.41 467.98L11.41 478.9M11.41 467.98L11.71 467.98M11.41 478.9L16.46 478.9M18.19 482.04L18.19 483.09M18.19 482.04L19.2 482.04M18.19 483.09L19.2 483.09M18.23 484.13L18.23 485.18M18.23 484.13L19.2 484.13M18.23 485.18L19.2 485.18M17.22 482.56L17.22 484.66M17.22 482.56L18.19 482.56M17.22 484.66L18.23 484.66M17.88 486.23L17.88 487.27M17.88 486.23L19.2 486.23M17.88 487.27L19.2 487.27M16.59 483.61L16.59 486.75M16.59 483.61L17.22 483.61M16.59 486.75L17.88 486.75M11.11 473.44L11.11 485.18M11.11 473.44L11.41 473.44M11.11 485.18L16.59 485.18M18.06 488.32L18.06 489.37M18.06 488.32L19.2 488.32M18.06 489.37L19.2 489.37M17.9 490.41L17.9 491.46M17.9 490.41L19.2 490.41M17.9 491.46L19.2 491.46M17.03 488.84L17.03 490.94M17.03 488.84L18.06 488.84M17.03 490.94L17.9 490.94M10.81 479.31L10.81 489.89M10.81 479.31L11.11 479.31M10.81 489.89L17.03 489.89M17.93 493.55L17.93 494.6M17.93 493.55L19.2 493.55M17.93 494.6L19.2 494.6M17.58 492.51L17.58 494.08M17.58 492.51L19.2 492.51M17.58 494.08L17.93 494.08M17.94 496.7L17.94 497.74M17.94 496.7L19.2 496.7M17.94 497.74L19.2 497.74M17.59 495.65L17.59 497.22M17.59 495.65L19.2 495.65M17.59 497.22L17.94 497.22M16.5 493.29L16.5 496.43M16.5 493.29L17.58 493.29M16.5 496.43L17.59 496.43M10.51 484.6L10.51 494.86M10.51 484.6L10.81 484.6M10.51 494.86L16.5 494.86M18.11 498.79L18.11 499.84M18.11 498.79L19.2 498.79M18.11 499.84L19.2 499.84M10.21 489.73L10.21 499.31M10.21 489.73L10.51 489.73M10.21 499.31L18.11 499.31M17.92 500.88L17.92 501.93M17.92 500.88L19.2 500.88M17.92 501.93L19.2 501.93M9.91 494.52L9.91 501.41M9.91 494.52L10.21 494.52M9.91 501.41L17.92 501.41M9.61 497.96L9.61 502.98M9.61 497.96L9.91 497.96M9.61 502.98L19.2 502.98M17.93 504.02L17.93 505.06M17.93 504.02L19.2 504.02M17.93 505.06L19.2 505.06M18.29 506.11L18.29 507.15M18.29 506.11L19.2 506.11M18.29 507.15L19.2 507.15M17.95 510.28L17.95 511.32M17.95 510.28L19.2 510.28M17.95 511.32L19.2 511.32M17.44 509.24L17.44 510.8M17.44 509.24L19.2 509.24M17.44 510.8L17.95 510.8M17.09 508.19L17.09 510.02M17.09 508.19L19.2 508.19M17.09 510.02L17.44 510.02M16.62 506.63L16.62 509.11M16.62 506.63L18.29 506.63M16.62 509.11L17.09 509.11M16.27 504.54L16.27 507.87M16.27 504.54L17.93 504.54M16.27 507.87L16.62 507.87M17.81 512.36L17.81 513.41M17.81 512.36L19.2 512.36M17.81 513.41L19.2 513.41M17.31 512.89L17.31 514.45M17.31 512.89L17.81 512.89M17.31 514.45L19.2 514.45M18.08 516.54L18.08 517.58M18.08 516.54L19.2 516.54M18.08 517.58L19.2 517.58M17.64 517.06L17.64 518.62M17.64 517.06L18.08 517.06M17.64 518.62L19.2 518.62M18.23 521.75L18.23 522.79M18.23 521.75L19.2 521.75M18.23 522.79L19.2 522.79M17.51 520.71L17.51 522.27M17.51 520.71L19.2 520.71M17.51 522.27L18.23 522.27M16.92 521.49L16.92 523.84M16.92 521.49L17.51 521.49M16.92 523.84L19.2 523.84M16.57 519.66L16.57 522.66M16.57 519.66L19.2 519.66M16.57 522.66L16.92 522.66M16.09 517.84L16.09 521.16M16.09 517.84L17.64 517.84M16.09 521.16L16.57 521.16M15.74 515.49L15.74 519.5M15.74 515.49L19.2 515.49M15.74 519.5L16.09 519.5M15.39 513.67L15.39 517.5M15.39 513.67L17.31 513.67M15.39 517.5L15.74 517.5M18.29 524.88L18.29 525.92M18.29 524.88L19.2 524.88M18.29 525.92L19.2 525.92M17.77 525.4L17.77 526.96M17.77 525.4L18.29 525.4M17.77 526.96L19.2 526.96M18.15 528.01L18.15 529.05M18.15 528.01L19.2 528.01M18.15 529.05L19.2 529.05M17.88 532.18L17.88 533.22M17.88 532.18L19.2 532.18M17.88 533.22L19.2 533.22M17.53 531.14L17.53 532.7M17.53 531.14L19.2 531.14M17.53 532.7L17.88 532.7M17.02 530.09L17.02 531.92M17.02 530.09L19.2 530.09M17.02 531.92L17.53 531.92M16.45 528.53L16.45 531.01M16.45 528.53L18.15 528.53M16.45 531.01L17.02 531.01M16.1 526.18L16.1 529.77M16.1 526.18L17.77 526.18M16.1 529.77L16.45 529.77M18.16 534.26L18.16 535.31M18.16 534.26L19.2 534.26M18.16 535.31L19.2 535.31M18.1 536.35L18.1 537.39M18.1 536.35L19.2 536.35M18.1 537.39L19.2 537.39M16.9 534.79L16.9 536.87M16.9 534.79L18.16 534.79M16.9 536.87L18.1 536.87M18.12 538.44L18.12 539.48M18.12 538.44L19.2 538.44M18.12 539.48L19.2 539.48M16.55 535.83L16.55 538.96M16.55 535.83L16.9 535.83M16.55 538.96L18.12 538.96M15.55 527.97L15.55 537.39M15.55 527.97L16.1 527.97M15.55 537.39L16.55 537.39M14.9 515.58L14.9 532.68M14.9 515.58L15.39 515.58M14.9 532.68L15.55 532.68M14.53 506.2L14.53 524.13M14.53 506.2L16.27 506.2M14.53 524.13L14.9 524.13M9.4 363.75L9.4 380.89M9.4 363.75L7.42 363.75M9.4 380.89L14.34 380.89M9.6 500.47L9.6 515.17M9.6 500.47L9.61 500.47M9.6 515.17L14.53 515.17M0.8 372.32L0.8 507.82M0.8 372.32L9.4 372.32M0.8 507.82L9.6 507.82" stroke="#5a5a5a" stroke-width="0.48" fill="none"/>
<line x1="61.3" y1="225.3" x2="61.3" y2="541" stroke="#111" stroke-width="0.85" stroke-dasharray="2.5 2.9"/>
<circle cx="61.3" cy="219.7" r="3.8" fill="#f80000"/>
<line x1="20.4" y1="544.8" x2="123.6" y2="544.8" stroke="#4d4d4d" stroke-width="0.7"/>
<line x1="20.4" y1="544.8" x2="20.4" y2="548.8" stroke="#4d4d4d" stroke-width="0.6"/>
<line x1="30.62" y1="544.8" x2="30.62" y2="547.4" stroke="#4d4d4d" stroke-width="0.6"/>
<line x1="40.85" y1="544.8" x2="40.85" y2="547.4" stroke="#4d4d4d" stroke-width="0.6"/>
<line x1="51.07" y1="544.8" x2="51.07" y2="547.4" stroke="#4d4d4d" stroke-width="0.6"/>
<line x1="61.3" y1="544.8" x2="61.3" y2="548.8" stroke="#4d4d4d" stroke-width="0.6"/>
<line x1="71.53" y1="544.8" x2="71.53" y2="547.4" stroke="#4d4d4d" stroke-width="0.6"/>
<line x1="81.75" y1="544.8" x2="81.75" y2="547.4" stroke="#4d4d4d" stroke-width="0.6"/>
<line x1="91.97" y1="544.8" x2="91.97" y2="547.4" stroke="#4d4d4d" stroke-width="0.6"/>
<line x1="102.2" y1="544.8" x2="102.2" y2="548.8" stroke="#4d4d4d" stroke-width="0.6"/>
<line x1="112.42" y1="544.8" x2="112.42" y2="547.4" stroke="#4d4d4d" stroke-width="0.6"/>
<line x1="122.65" y1="544.8" x2="122.65" y2="547.4" stroke="#4d4d4d" stroke-width="0.6"/>
<text x="0" y="0" font-size="8.37" text-anchor="middle" fill="#231f20" transform="translate(20.6 559.5) scale(0.94 1)" stroke="#231f20" stroke-width="0.12">0</text>
<text x="0" y="0" font-size="8.37" text-anchor="middle" fill="#231f20" transform="translate(61.1 559.5) scale(0.94 1)" stroke="#231f20" stroke-width="0.12">200</text>
<text x="0" y="0" font-size="8.37" text-anchor="middle" fill="#231f20" transform="translate(101.6 559.5) scale(0.94 1)" stroke="#231f20" stroke-width="0.12">400</text>
<text x="0" y="0" font-size="8.48" text-anchor="middle" fill="#231f20" transform="translate(72.5 572.4) scale(0.94 1)" stroke="#231f20" stroke-width="0.12">Position (Mb)</text>
<text x="0" y="0" font-size="8.37" text-anchor="middle" fill="#231f20" transform="translate(132.3 227) scale(0.94 1)" stroke="#231f20" stroke-width="0.12">W</text>
<text x="0" y="0" font-size="8.37" text-anchor="middle" fill="#231f20" transform="translate(142.7 403) scale(0.94 1)" stroke="#231f20" stroke-width="0.12">D</text>
<rect x="129.4" y="229.5" width="5.7" height="6.3" fill="#0f600f"/>
<rect x="129.4" y="235.8" width="5.7" height="1.6" fill="#8c8c8c"/>
<rect x="129.4" y="237.4" width="5.7" height="3.3" fill="#0f600f"/>
<rect x="129.4" y="240.7" width="5.7" height="2.5" fill="#8c8c8c"/>
<rect x="129.4" y="243.2" width="5.7" height="5" fill="#0f600f"/>
<rect x="129.4" y="248.2" width="5.7" height="1.6" fill="#a8700f"/>
<rect x="129.4" y="249.8" width="5.7" height="10" fill="#8c8c8c"/>
<rect x="129.4" y="259.8" width="5.7" height="4.9" fill="#0f600f"/>
<rect x="129.4" y="264.7" width="5.7" height="3.7" fill="#8c8c8c"/>
<rect x="129.4" y="268.4" width="5.7" height="5.4" fill="#0f600f"/>
<rect x="129.4" y="273.8" width="5.7" height="5.8" fill="#8c8c8c"/>
<rect x="129.4" y="279.6" width="5.7" height="2" fill="#a8700f"/>
<rect x="129.4" y="281.6" width="5.7" height="1.7" fill="#8c8c8c"/>
<rect x="129.4" y="283.3" width="5.7" height="5.4" fill="#a8700f"/>
<rect x="129.4" y="288.7" width="5.7" height="4.2" fill="#8c8c8c"/>
<rect x="129.4" y="292.9" width="5.7" height="1.6" fill="#0f600f"/>
<rect x="129.4" y="294.5" width="5.7" height="11.6" fill="#8c8c8c"/>
<rect x="129.4" y="306.1" width="5.7" height="1.7" fill="#a8700f"/>
<rect x="129.4" y="307.8" width="5.7" height="2" fill="#8c8c8c"/>
<rect x="129.4" y="309.8" width="5.7" height="2.9" fill="#a8700f"/>
<rect x="129.4" y="312.7" width="5.7" height="10.6" fill="#0f600f"/>
<rect x="129.4" y="323.3" width="5.7" height="10.7" fill="#8c8c8c"/>
<rect x="129.4" y="334" width="5.7" height="5.8" fill="#a8700f"/>
<rect x="129.4" y="339.8" width="5.7" height="1.7" fill="#8c8c8c"/>
<rect x="129.4" y="341.5" width="5.7" height="3.3" fill="#a8700f"/>
<rect x="129.4" y="344.8" width="5.7" height="1.7" fill="#8c8c8c"/>
<rect x="129.4" y="346.5" width="5.7" height="3.3" fill="#a8700f"/>
<rect x="129.4" y="349.8" width="5.7" height="6.6" fill="#a020a8"/>
<rect x="129.4" y="356.4" width="5.7" height="1.6" fill="#8c8c8c"/>
<rect x="129.4" y="358" width="5.7" height="3.4" fill="#a8700f"/>
<rect x="129.4" y="361.4" width="5.7" height="0.8" fill="#8c8c8c"/>
<rect x="129.4" y="362.2" width="5.7" height="4.1" fill="#1a1a9a"/>
<rect x="129.4" y="366.3" width="5.7" height="1.3" fill="#6a6aa0"/>
<rect x="129.4" y="367.6" width="5.7" height="9.4" fill="#1a1a9a"/>
<rect x="129.4" y="377" width="5.7" height="3.4" fill="#5a5a90"/>
<rect x="129.4" y="380.4" width="5.7" height="17.4" fill="#9a1010"/>
<rect x="129.4" y="397.8" width="5.7" height="3.2" fill="#8c8c8c"/>
<rect x="129.4" y="401" width="5.7" height="1.8" fill="#a020a8"/>
<rect x="129.4" y="402.8" width="5.7" height="2.4" fill="#8c8c8c"/>
<rect x="140" y="405.2" width="5.5" height="6.2" fill="#1a1a9a"/>
<rect x="140" y="411.4" width="5.5" height="2.5" fill="#8a6a10"/>
<rect x="140" y="413.9" width="5.5" height="1.1" fill="#30c030"/>
<rect x="140" y="415" width="5.5" height="4" fill="#a8700f"/>
<rect x="140" y="419" width="5.5" height="2.5" fill="#8a6a10"/>
<rect x="140" y="421.5" width="5.5" height="5" fill="#a8700f"/>
<rect x="140" y="426.5" width="5.5" height="3.8" fill="#5a1060"/>
<rect x="140" y="430.3" width="5.5" height="6.3" fill="#0a0a0a"/>
<rect x="140" y="436.6" width="5.5" height="3.8" fill="#a0a010"/>
<rect x="140" y="440.4" width="5.5" height="6.3" fill="#141460"/>
<rect x="140" y="446.7" width="5.5" height="7.6" fill="#20a0a0"/>
<rect x="140" y="454.3" width="5.5" height="6.3" fill="#106060"/>
<rect x="140" y="460.6" width="5.5" height="5.1" fill="#601040"/>
<rect x="140" y="465.7" width="5.5" height="5" fill="#9a1010"/>
<rect x="140" y="470.7" width="5.5" height="2.5" fill="#a8700f"/>
<rect x="140" y="473.2" width="5.5" height="7.6" fill="#9a1010"/>
<rect x="140" y="480.8" width="5.5" height="13.9" fill="#a8700f"/>
<rect x="140" y="494.7" width="5.5" height="2.5" fill="#30c030"/>
<rect x="140" y="497.2" width="5.5" height="6.3" fill="#0a5a0a"/>
<rect x="129.2" y="503.5" width="5.6" height="3.8" fill="#8c8c8c"/>
<rect x="129.2" y="507.3" width="5.6" height="3.7" fill="#a020a8"/>
<rect x="129.2" y="511" width="5.6" height="5" fill="#1a1a9a"/>
<rect x="129.2" y="516" width="5.6" height="2.5" fill="#a020a8"/>
<rect x="129.2" y="518.5" width="5.6" height="2.5" fill="#6a6aa0"/>
<rect x="129.2" y="521" width="5.6" height="19.2" fill="#a020a8"/>
<g><rect x="129.4" y="230.5" width="5.7" height="0.35" fill="#000" opacity="0.12"/><rect x="129.4" y="232.7" width="5.7" height="0.35" fill="#000" opacity="0.12"/><rect x="129.4" y="234.9" width="5.7" height="0.35" fill="#000" opacity="0.12"/><rect x="129.4" y="237.1" width="5.7" height="0.35" fill="#000" opacity="0.12"/><rect x="129.4" y="239.3" width="5.7" height="0.35" fill="#000" opacity="0.12"/><rect x="129.4" y="241.5" width="5.7" height="0.35" fill="#000" opacity="0.12"/><rect x="129.4" y="243.7" width="5.7" height="0.35" fill="#000" opacity="0.12"/><rect x="129.4" y="245.9" width="5.7" height="0.35" fill="#000" opacity="0.12"/><rect x="129.4" y="248.1" width="5.7" height="0.35" fill="#000" opacity="0.12"/><rect x="129.4" y="250.3" width="5.7" height="0.35" fill="#000" opacity="0.12"/><rect x="129.4" y="252.5" width="5.7" height="0.35" fill="#000" opacity="0.12"/><rect x="129.4" y="254.7" width="5.7" height="0.35" fill="#000" opacity="0.12"/><rect x="129.4" y="256.9" width="5.7" height="0.35" fill="#000" opacity="0.12"/><rect x="129.4" y="259.1" width="5.7" height="0.35" fill="#000" opacity="0.12"/><rect x="129.4" y="261.3" width="5.7" height="0.35" fill="#000" opacity="0.12"/><rect x="129.4" y="263.5" width="5.7" height="0.35" fill="#000" opacity="0.12"/><rect x="129.4" y="265.7" width="5.7" height="0.35" fill="#000" opacity="0.12"/><rect x="129.4" y="267.9" width="5.7" height="0.35" fill="#000" opacity="0.12"/><rect x="129.4" y="270.1" width="5.7" height="0.35" fill="#000" opacity="0.12"/><rect x="129.4" y="272.3" width="5.7" height="0.35" fill="#000" opacity="0.12"/><rect x="129.4" y="274.5" width="5.7" height="0.35" fill="#000" opacity="0.12"/><rect x="129.4" y="276.7" width="5.7" height="0.35" fill="#000" opacity="0.12"/><rect x="129.4" y="278.9" width="5.7" height="0.35" fill="#000" opacity="0.12"/><rect x="129.4" y="281.1" width="5.7" height="0.35" fill="#000" opacity="0.12"/><rect x="129.4" y="283.3" width="5.7" height="0.35" fill="#000" opacity="0.12"/><rect x="129.4" y="285.5" width="5.7" height="0.35" fill="#000" opacity="0.12"/><rect x="129.4" y="287.7" width="5.7" height="0.35" fill="#000" opacity="0.12"/><rect x="129.4" y="289.9" width="5.7" height="0.35" fill="#000" opacity="0.12"/><rect x="129.4" y="292.1" width="5.7" height="0.35" fill="#000" opacity="0.12"/><rect x="129.4" y="294.3" width="5.7" height="0.35" fill="#000" opacity="0.12"/><rect x="129.4" y="296.5" width="5.7" height="0.35" fill="#000" opacity="0.12"/><rect x="129.4" y="298.7" width="5.7" height="0.35" fill="#000" opacity="0.12"/><rect x="129.4" y="300.9" width="5.7" height="0.35" fill="#000" opacity="0.12"/><rect x="129.4" y="303.1" width="5.7" height="0.35" fill="#000" opacity="0.12"/><rect x="129.4" y="305.3" width="5.7" height="0.35" fill="#000" opacity="0.12"/><rect x="129.4" y="307.5" width="5.7" height="0.35" fill="#000" opacity="0.12"/><rect x="129.4" y="309.7" width="5.7" height="0.35" fill="#000" opacity="0.12"/><rect x="129.4" y="311.9" width="5.7" height="0.35" fill="#000" opacity="0.12"/><rect x="129.4" y="314.1" width="5.7" height="0.35" fill="#000" opacity="0.12"/><rect x="129.4" y="316.3" width="5.7" height="0.35" fill="#000" opacity="0.12"/><rect x="129.4" y="318.5" width="5.7" height="0.35" fill="#000" opacity="0.12"/><rect x="129.4" y="320.7" width="5.7" height="0.35" fill="#000" opacity="0.12"/><rect x="129.4" y="322.9" width="5.7" height="0.35" fill="#000" opacity="0.12"/><rect x="129.4" y="325.1" width="5.7" height="0.35" fill="#000" opacity="0.12"/><rect x="129.4" y="327.3" width="5.7" height="0.35" fill="#000" opacity="0.12"/><rect x="129.4" y="329.5" width="5.7" height="0.35" fill="#000" opacity="0.12"/><rect x="129.4" y="331.7" width="5.7" height="0.35" fill="#000" opacity="0.12"/><rect x="129.4" y="333.9" width="5.7" height="0.35" fill="#000" opacity="0.12"/><rect x="129.4" y="336.1" width="5.7" height="0.35" fill="#000" opacity="0.12"/><rect x="129.4" y="338.3" width="5.7" height="0.35" fill="#000" opacity="0.12"/><rect x="129.4" y="340.5" width="5.7" height="0.35" fill="#000" opacity="0.12"/><rect x="129.4" y="342.7" width="5.7" height="0.35" fill="#000" opacity="0.12"/><rect x="129.4" y="344.9" width="5.7" height="0.35" fill="#000" opacity="0.12"/><rect x="129.4" y="347.1" width="5.7" height="0.35" fill="#000" opacity="0.12"/><rect x="129.4" y="349.3" width="5.7" height="0.35" fill="#000" opacity="0.12"/><rect x="129.4" y="351.5" width="5.7" height="0.35" fill="#000" opacity="0.12"/><rect x="129.4" y="353.7" width="5.7" height="0.35" fill="#000" opacity="0.12"/><rect x="129.4" y="355.9" width="5.7" height="0.35" fill="#000" opacity="0.12"/><rect x="129.4" y="358.1" width="5.7" height="0.35" fill="#000" opacity="0.12"/><rect x="129.4" y="360.3" width="5.7" height="0.35" fill="#000" opacity="0.12"/><rect x="129.4" y="362.5" width="5.7" height="0.35" fill="#000" opacity="0.12"/><rect x="129.4" y="364.7" width="5.7" height="0.35" fill="#000" opacity="0.12"/><rect x="129.4" y="366.9" width="5.7" height="0.35" fill="#000" opacity="0.12"/><rect x="129.4" y="369.1" width="5.7" height="0.35" fill="#000" opacity="0.12"/><rect x="129.4" y="371.3" width="5.7" height="0.35" fill="#000" opacity="0.12"/><rect x="129.4" y="373.5" width="5.7" height="0.35" fill="#000" opacity="0.12"/><rect x="129.4" y="375.7" width="5.7" height="0.35" fill="#000" opacity="0.12"/><rect x="129.4" y="377.9" width="5.7" height="0.35" fill="#000" opacity="0.12"/><rect x="129.4" y="380.1" width="5.7" height="0.35" fill="#000" opacity="0.12"/><rect x="129.4" y="382.3" width="5.7" height="0.35" fill="#000" opacity="0.12"/><rect x="129.4" y="384.5" width="5.7" height="0.35" fill="#000" opacity="0.12"/><rect x="129.4" y="386.7" width="5.7" height="0.35" fill="#000" opacity="0.12"/><rect x="129.4" y="388.9" width="5.7" height="0.35" fill="#000" opacity="0.12"/><rect x="129.4" y="391.1" width="5.7" height="0.35" fill="#000" opacity="0.12"/><rect x="129.4" y="393.3" width="5.7" height="0.35" fill="#000" opacity="0.12"/><rect x="129.4" y="395.5" width="5.7" height="0.35" fill="#000" opacity="0.12"/><rect x="129.4" y="397.7" width="5.7" height="0.35" fill="#000" opacity="0.12"/><rect x="129.4" y="399.9" width="5.7" height="0.35" fill="#000" opacity="0.12"/><rect x="129.4" y="402.1" width="5.7" height="0.35" fill="#000" opacity="0.12"/><rect x="129.4" y="404.3" width="5.7" height="0.35" fill="#000" opacity="0.12"/><rect x="140" y="406.5" width="5.5" height="0.35" fill="#000" opacity="0.12"/><rect x="140" y="408.7" width="5.5" height="0.35" fill="#000" opacity="0.12"/><rect x="140" y="410.9" width="5.5" height="0.35" fill="#000" opacity="0.12"/><rect x="140" y="413.1" width="5.5" height="0.35" fill="#000" opacity="0.12"/><rect x="140" y="415.3" width="5.5" height="0.35" fill="#000" opacity="0.12"/><rect x="140" y="417.5" width="5.5" height="0.35" fill="#000" opacity="0.12"/><rect x="140" y="419.7" width="5.5" height="0.35" fill="#000" opacity="0.12"/><rect x="140" y="421.9" width="5.5" height="0.35" fill="#000" opacity="0.12"/><rect x="140" y="424.1" width="5.5" height="0.35" fill="#000" opacity="0.12"/><rect x="140" y="426.3" width="5.5" height="0.35" fill="#000" opacity="0.12"/><rect x="140" y="428.5" width="5.5" height="0.35" fill="#000" opacity="0.12"/><rect x="140" y="430.7" width="5.5" height="0.35" fill="#000" opacity="0.12"/><rect x="140" y="432.9" width="5.5" height="0.35" fill="#000" opacity="0.12"/><rect x="140" y="435.1" width="5.5" height="0.35" fill="#000" opacity="0.12"/><rect x="140" y="437.3" width="5.5" height="0.35" fill="#000" opacity="0.12"/><rect x="140" y="439.5" width="5.5" height="0.35" fill="#000" opacity="0.12"/><rect x="140" y="441.7" width="5.5" height="0.35" fill="#000" opacity="0.12"/><rect x="140" y="443.9" width="5.5" height="0.35" fill="#000" opacity="0.12"/><rect x="140" y="446.1" width="5.5" height="0.35" fill="#000" opacity="0.12"/><rect x="140" y="448.3" width="5.5" height="0.35" fill="#000" opacity="0.12"/><rect x="140" y="450.5" width="5.5" height="0.35" fill="#000" opacity="0.12"/><rect x="140" y="452.7" width="5.5" height="0.35" fill="#000" opacity="0.12"/><rect x="140" y="454.9" width="5.5" height="0.35" fill="#000" opacity="0.12"/><rect x="140" y="457.1" width="5.5" height="0.35" fill="#000" opacity="0.12"/><rect x="140" y="459.3" width="5.5" height="0.35" fill="#000" opacity="0.12"/><rect x="140" y="461.5" width="5.5" height="0.35" fill="#000" opacity="0.12"/><rect x="140" y="463.7" width="5.5" height="0.35" fill="#000" opacity="0.12"/><rect x="140" y="465.9" width="5.5" height="0.35" fill="#000" opacity="0.12"/><rect x="140" y="468.1" width="5.5" height="0.35" fill="#000" opacity="0.12"/><rect x="140" y="470.3" width="5.5" height="0.35" fill="#000" opacity="0.12"/><rect x="140" y="472.5" width="5.5" height="0.35" fill="#000" opacity="0.12"/><rect x="140" y="474.7" width="5.5" height="0.35" fill="#000" opacity="0.12"/><rect x="140" y="476.9" width="5.5" height="0.35" fill="#000" opacity="0.12"/><rect x="140" y="479.1" width="5.5" height="0.35" fill="#000" opacity="0.12"/><rect x="140" y="481.3" width="5.5" height="0.35" fill="#000" opacity="0.12"/><rect x="140" y="483.5" width="5.5" height="0.35" fill="#000" opacity="0.12"/><rect x="140" y="485.7" width="5.5" height="0.35" fill="#000" opacity="0.12"/><rect x="140" y="487.9" width="5.5" height="0.35" fill="#000" opacity="0.12"/><rect x="140" y="490.1" width="5.5" height="0.35" fill="#000" opacity="0.12"/><rect x="140" y="492.3" width="5.5" height="0.35" fill="#000" opacity="0.12"/><rect x="140" y="494.5" width="5.5" height="0.35" fill="#000" opacity="0.12"/><rect x="140" y="496.7" width="5.5" height="0.35" fill="#000" opacity="0.12"/><rect x="140" y="498.9" width="5.5" height="0.35" fill="#000" opacity="0.12"/><rect x="140" y="501.1" width="5.5" height="0.35" fill="#000" opacity="0.12"/><rect x="140" y="503.3" width="5.5" height="0.35" fill="#000" opacity="0.12"/><rect x="129.2" y="505.5" width="5.6" height="0.35" fill="#000" opacity="0.12"/><rect x="129.2" y="507.7" width="5.6" height="0.35" fill="#000" opacity="0.12"/><rect x="129.2" y="509.9" width="5.6" height="0.35" fill="#000" opacity="0.12"/><rect x="129.2" y="512.1" width="5.6" height="0.35" fill="#000" opacity="0.12"/><rect x="129.2" y="514.3" width="5.6" height="0.35" fill="#000" opacity="0.12"/><rect x="129.2" y="516.5" width="5.6" height="0.35" fill="#000" opacity="0.12"/><rect x="129.2" y="518.7" width="5.6" height="0.35" fill="#000" opacity="0.12"/><rect x="129.2" y="520.9" width="5.6" height="0.35" fill="#000" opacity="0.12"/><rect x="129.2" y="523.1" width="5.6" height="0.35" fill="#000" opacity="0.12"/><rect x="129.2" y="525.3" width="5.6" height="0.35" fill="#000" opacity="0.12"/><rect x="129.2" y="527.5" width="5.6" height="0.35" fill="#000" opacity="0.12"/><rect x="129.2" y="529.7" width="5.6" height="0.35" fill="#000" opacity="0.12"/><rect x="129.2" y="531.9" width="5.6" height="0.35" fill="#000" opacity="0.12"/><rect x="129.2" y="534.1" width="5.6" height="0.35" fill="#000" opacity="0.12"/><rect x="129.2" y="536.3" width="5.6" height="0.35" fill="#000" opacity="0.12"/><rect x="129.2" y="538.5" width="5.6" height="0.35" fill="#000" opacity="0.12"/></g>
<text x="0" y="0" font-size="8.48" text-anchor="start" fill="#231f20" transform="translate(153.5 239.9) scale(0.94 1)" stroke="#231f20" stroke-width="0.12">Wild</text>
<text x="0" y="0" font-size="8.48" text-anchor="start" fill="#231f20" transform="translate(153.5 249.3) scale(0.94 1)" stroke="#231f20" stroke-width="0.12">populations:</text>
<rect x="154.2" y="255.2" width="18.2" height="5.6" fill="#178a17" stroke="#7a7a7a" stroke-width="0.4"/>
<line x1="158.75" y1="255.2" x2="158.75" y2="260.8" stroke="#000" stroke-opacity="0.18" stroke-width="0.6"/><line x1="163.3" y1="255.2" x2="163.3" y2="260.8" stroke="#000" stroke-opacity="0.18" stroke-width="0.6"/><line x1="167.85" y1="255.2" x2="167.85" y2="260.8" stroke="#000" stroke-opacity="0.18" stroke-width="0.6"/>
<text x="0" y="0" font-size="8.48" text-anchor="start" fill="#231f20" transform="translate(177.6 261.4) scale(0.94 1)" stroke="#231f20" stroke-width="0.12">SL</text>
<rect x="154.2" y="266.27" width="18.2" height="5.6" fill="#f7a41c" stroke="#7a7a7a" stroke-width="0.4"/>
<line x1="158.75" y1="266.27" x2="158.75" y2="271.87" stroke="#000" stroke-opacity="0.18" stroke-width="0.6"/><line x1="163.3" y1="266.27" x2="163.3" y2="271.87" stroke="#000" stroke-opacity="0.18" stroke-width="0.6"/><line x1="167.85" y1="266.27" x2="167.85" y2="271.87" stroke="#000" stroke-opacity="0.18" stroke-width="0.6"/>
<text x="0" y="0" font-size="8.48" text-anchor="start" fill="#231f20" transform="translate(177.6 272.47) scale(0.94 1)" stroke="#231f20" stroke-width="0.12">NL</text>
<rect x="154.2" y="277.34" width="18.2" height="5.6" fill="#ff0c0c" stroke="#7a7a7a" stroke-width="0.4"/>
<line x1="158.75" y1="277.34" x2="158.75" y2="282.94" stroke="#000" stroke-opacity="0.18" stroke-width="0.6"/><line x1="163.3" y1="277.34" x2="163.3" y2="282.94" stroke="#000" stroke-opacity="0.18" stroke-width="0.6"/><line x1="167.85" y1="277.34" x2="167.85" y2="282.94" stroke="#000" stroke-opacity="0.18" stroke-width="0.6"/>
<text x="0" y="0" font-size="8.48" text-anchor="start" fill="#231f20" transform="translate(177.6 283.54) scale(0.94 1)" stroke="#231f20" stroke-width="0.12">SD</text>
<rect x="154.2" y="288.41" width="18.2" height="5.6" fill="#1a1aff" stroke="#7a7a7a" stroke-width="0.4"/>
<line x1="158.75" y1="288.41" x2="158.75" y2="294.01" stroke="#000" stroke-opacity="0.18" stroke-width="0.6"/><line x1="163.3" y1="288.41" x2="163.3" y2="294.01" stroke="#000" stroke-opacity="0.18" stroke-width="0.6"/><line x1="167.85" y1="288.41" x2="167.85" y2="294.01" stroke="#000" stroke-opacity="0.18" stroke-width="0.6"/>
<text x="0" y="0" font-size="8.48" text-anchor="start" fill="#231f20" transform="translate(177.6 294.61) scale(0.94 1)" stroke="#231f20" stroke-width="0.12">NM</text>
<rect x="154.2" y="299.48" width="18.2" height="5.6" fill="#ff1aff" stroke="#7a7a7a" stroke-width="0.4"/>
<line x1="158.75" y1="299.48" x2="158.75" y2="305.08" stroke="#000" stroke-opacity="0.18" stroke-width="0.6"/><line x1="163.3" y1="299.48" x2="163.3" y2="305.08" stroke="#000" stroke-opacity="0.18" stroke-width="0.6"/><line x1="167.85" y1="299.48" x2="167.85" y2="305.08" stroke="#000" stroke-opacity="0.18" stroke-width="0.6"/>
<text x="0" y="0" font-size="8.48" text-anchor="start" fill="#231f20" transform="translate(177.6 305.68) scale(0.94 1)" stroke="#231f20" stroke-width="0.12">CA</text>
<rect x="154.2" y="310.55" width="18.2" height="5.6" fill="#e2e2e2" stroke="#7a7a7a" stroke-width="0.4"/>
<line x1="158.75" y1="310.55" x2="158.75" y2="316.15" stroke="#000" stroke-opacity="0.18" stroke-width="0.6"/><line x1="163.3" y1="310.55" x2="163.3" y2="316.15" stroke="#000" stroke-opacity="0.18" stroke-width="0.6"/><line x1="167.85" y1="310.55" x2="167.85" y2="316.15" stroke="#000" stroke-opacity="0.18" stroke-width="0.6"/>
<text x="0" y="0" font-size="8.48" text-anchor="start" fill="#231f20" transform="translate(177.6 316.75) scale(0.94 1)" stroke="#231f20" stroke-width="0.12">Admixed</text>
<text x="0" y="0" font-size="8.48" text-anchor="start" fill="#231f20" transform="translate(153.5 350.1) scale(0.94 1)" stroke="#231f20" stroke-width="0.12">Domesticated</text>
<text x="0" y="0" font-size="8.48" text-anchor="start" fill="#231f20" transform="translate(153.5 359.9) scale(0.94 1)" stroke="#231f20" stroke-width="0.12">populations:</text>
<rect x="154.2" y="364.6" width="18.2" height="5.6" fill="#f7a41c" stroke="#7a7a7a" stroke-width="0.4"/>
<line x1="158.75" y1="364.6" x2="158.75" y2="370.2" stroke="#000" stroke-opacity="0.18" stroke-width="0.6"/><line x1="163.3" y1="364.6" x2="163.3" y2="370.2" stroke="#000" stroke-opacity="0.18" stroke-width="0.6"/><line x1="167.85" y1="364.6" x2="167.85" y2="370.2" stroke="#000" stroke-opacity="0.18" stroke-width="0.6"/>
<text x="0" y="0" font-size="8.48" text-anchor="start" fill="#231f20" transform="translate(177 370.8) scale(0.94 1)" stroke="#231f20" stroke-width="0.12">ISR-THS</text>
<rect x="154.2" y="375.6" width="18.2" height="5.6" fill="#f7a41c" stroke="#7a7a7a" stroke-width="0.4"/>
<line x1="158.75" y1="375.6" x2="158.75" y2="381.2" stroke="#000" stroke-opacity="0.18" stroke-width="0.6"/><line x1="163.3" y1="375.6" x2="163.3" y2="381.2" stroke="#000" stroke-opacity="0.18" stroke-width="0.6"/><line x1="167.85" y1="375.6" x2="167.85" y2="381.2" stroke="#000" stroke-opacity="0.18" stroke-width="0.6"/>
<text x="0" y="0" font-size="8.48" text-anchor="start" fill="#231f20" transform="translate(177 381.8) scale(0.94 1)" stroke="#231f20" stroke-width="0.12">SYR-THM</text>
<rect x="154.2" y="386.6" width="18.2" height="5.6" fill="#f7a41c" stroke="#7a7a7a" stroke-width="0.4"/>
<line x1="158.75" y1="386.6" x2="158.75" y2="392.2" stroke="#000" stroke-opacity="0.18" stroke-width="0.6"/><line x1="163.3" y1="386.6" x2="163.3" y2="392.2" stroke="#000" stroke-opacity="0.18" stroke-width="0.6"/><line x1="167.85" y1="386.6" x2="167.85" y2="392.2" stroke="#000" stroke-opacity="0.18" stroke-width="0.6"/>
<text x="0" y="0" font-size="8.48" text-anchor="start" fill="#231f20" transform="translate(177 392.8) scale(0.94 1)" stroke="#231f20" stroke-width="0.12">GEO-THS</text>
<rect x="154.2" y="397.8" width="18.2" height="5.6" fill="#f7a41c" stroke="#7a7a7a" stroke-width="0.4"/>
<line x1="158.75" y1="397.8" x2="158.75" y2="403.4" stroke="#000" stroke-opacity="0.18" stroke-width="0.6"/><line x1="163.3" y1="397.8" x2="163.3" y2="403.4" stroke="#000" stroke-opacity="0.18" stroke-width="0.6"/><line x1="167.85" y1="397.8" x2="167.85" y2="403.4" stroke="#000" stroke-opacity="0.18" stroke-width="0.6"/>
<text x="0" y="0" font-size="8.48" text-anchor="start" fill="#231f20" transform="translate(177 404) scale(0.94 1)" stroke="#231f20" stroke-width="0.12">IRN-THS</text>
<rect x="154.2" y="409" width="18.2" height="5.6" fill="#0a700a" stroke="#7a7a7a" stroke-width="0.4"/>
<text x="0" y="0" font-size="8.48" text-anchor="start" fill="#231f20" transform="translate(177 415.2) scale(0.94 1)" stroke="#231f20" stroke-width="0.12">TUR-THM</text>
<rect x="154.2" y="420" width="18.2" height="5.6" fill="#2ee82e" stroke="#7a7a7a" stroke-width="0.4"/>
<line x1="158.75" y1="420" x2="158.75" y2="425.6" stroke="#000" stroke-opacity="0.18" stroke-width="0.6"/><line x1="163.3" y1="420" x2="163.3" y2="425.6" stroke="#000" stroke-opacity="0.18" stroke-width="0.6"/><line x1="167.85" y1="420" x2="167.85" y2="425.6" stroke="#000" stroke-opacity="0.18" stroke-width="0.6"/>
<text x="0" y="0" font-size="8.48" text-anchor="start" fill="#231f20" transform="translate(177 426.2) scale(0.94 1)" stroke="#231f20" stroke-width="0.12">EU-THM</text>
<rect x="154.2" y="431.2" width="18.2" height="5.6" fill="#ff0c0c" stroke="#7a7a7a" stroke-width="0.4"/>
<line x1="158.75" y1="431.2" x2="158.75" y2="436.8" stroke="#000" stroke-opacity="0.18" stroke-width="0.6"/><line x1="163.3" y1="431.2" x2="163.3" y2="436.8" stroke="#000" stroke-opacity="0.18" stroke-width="0.6"/><line x1="167.85" y1="431.2" x2="167.85" y2="436.8" stroke="#000" stroke-opacity="0.18" stroke-width="0.6"/>
<text x="0" y="0" font-size="8.48" text-anchor="start" fill="#231f20" transform="translate(177 437.4) scale(0.94 1)" stroke="#231f20" stroke-width="0.12">EU-THS</text>
<rect x="154.2" y="443.4" width="18.2" height="5.6" fill="#8a1a9a" stroke="#7a7a7a" stroke-width="0.4"/>
<line x1="158.75" y1="443.4" x2="158.75" y2="449" stroke="#000" stroke-opacity="0.18" stroke-width="0.6"/><line x1="163.3" y1="443.4" x2="163.3" y2="449" stroke="#000" stroke-opacity="0.18" stroke-width="0.6"/><line x1="167.85" y1="443.4" x2="167.85" y2="449" stroke="#000" stroke-opacity="0.18" stroke-width="0.6"/>
<text x="0" y="0" font-size="8.48" text-anchor="start" fill="#231f20" transform="translate(177 449.6) scale(0.94 1)" stroke="#231f20" stroke-width="0.12">ME-SHS</text>
<rect x="154.2" y="454.6" width="18.2" height="5.6" fill="#ffff20" stroke="#7a7a7a" stroke-width="0.4"/>
<text x="0" y="0" font-size="8.48" text-anchor="start" fill="#231f20" transform="translate(177 460.8) scale(0.94 1)" stroke="#231f20" stroke-width="0.12">EU-SHW</text>
<rect x="154.2" y="465.8" width="18.2" height="5.6" fill="#9a1010" stroke="#7a7a7a" stroke-width="0.4"/>
<line x1="158.75" y1="465.8" x2="158.75" y2="471.4" stroke="#000" stroke-opacity="0.18" stroke-width="0.6"/><line x1="163.3" y1="465.8" x2="163.3" y2="471.4" stroke="#000" stroke-opacity="0.18" stroke-width="0.6"/><line x1="167.85" y1="465.8" x2="167.85" y2="471.4" stroke="#000" stroke-opacity="0.18" stroke-width="0.6"/>
<text x="0" y="0" font-size="8.48" text-anchor="start" fill="#231f20" transform="translate(177 472) scale(0.94 1)" stroke="#231f20" stroke-width="0.12">EU-SHM</text>
<rect x="154.2" y="477.6" width="18.2" height="5.6" fill="#30f0ff" stroke="#7a7a7a" stroke-width="0.4"/>
<text x="0" y="0" font-size="8.48" text-anchor="start" fill="#231f20" transform="translate(177 483.8) scale(0.94 1)" stroke="#231f20" stroke-width="0.12">ETH-MHS</text>
<rect x="154.2" y="488.8" width="18.2" height="5.6" fill="#188a8a" stroke="#7a7a7a" stroke-width="0.4"/>
<line x1="158.75" y1="488.8" x2="158.75" y2="494.4" stroke="#000" stroke-opacity="0.18" stroke-width="0.6"/><line x1="163.3" y1="488.8" x2="163.3" y2="494.4" stroke="#000" stroke-opacity="0.18" stroke-width="0.6"/><line x1="167.85" y1="488.8" x2="167.85" y2="494.4" stroke="#000" stroke-opacity="0.18" stroke-width="0.6"/>
<text x="0" y="0" font-size="8.48" text-anchor="start" fill="#231f20" transform="translate(177 495) scale(0.94 1)" stroke="#231f20" stroke-width="0.12">ETH-MNS</text>
<rect x="154.2" y="500.4" width="18.2" height="5.6" fill="#101010" stroke="#7a7a7a" stroke-width="0.4"/>
<line x1="158.75" y1="500.4" x2="158.75" y2="506" stroke="#000" stroke-opacity="0.18" stroke-width="0.6"/><line x1="163.3" y1="500.4" x2="163.3" y2="506" stroke="#000" stroke-opacity="0.18" stroke-width="0.6"/><line x1="167.85" y1="500.4" x2="167.85" y2="506" stroke="#000" stroke-opacity="0.18" stroke-width="0.6"/>
<text x="0" y="0" font-size="8.48" text-anchor="start" fill="#231f20" transform="translate(177 506.6) scale(0.94 1)" stroke="#231f20" stroke-width="0.12">CA-SHS</text>
<rect x="154.2" y="511.8" width="18.2" height="5.6" fill="#141480" stroke="#7a7a7a" stroke-width="0.4"/>
<line x1="158.75" y1="511.8" x2="158.75" y2="517.4" stroke="#000" stroke-opacity="0.18" stroke-width="0.6"/><line x1="163.3" y1="511.8" x2="163.3" y2="517.4" stroke="#000" stroke-opacity="0.18" stroke-width="0.6"/><line x1="167.85" y1="511.8" x2="167.85" y2="517.4" stroke="#000" stroke-opacity="0.18" stroke-width="0.6"/>
<text x="0" y="0" font-size="8.48" text-anchor="start" fill="#231f20" transform="translate(177 518) scale(0.94 1)" stroke="#231f20" stroke-width="0.12">CA-SNS</text>
<rect x="154.2" y="523.1" width="18.2" height="5.6" fill="#1a30ff" stroke="#7a7a7a" stroke-width="0.4"/>
<line x1="158.75" y1="523.1" x2="158.75" y2="528.7" stroke="#000" stroke-opacity="0.18" stroke-width="0.6"/><line x1="163.3" y1="523.1" x2="163.3" y2="528.7" stroke="#000" stroke-opacity="0.18" stroke-width="0.6"/><line x1="167.85" y1="523.1" x2="167.85" y2="528.7" stroke="#000" stroke-opacity="0.18" stroke-width="0.6"/>
<text x="0" y="0" font-size="8.48" text-anchor="start" fill="#231f20" transform="translate(177 529.3) scale(0.94 1)" stroke="#231f20" stroke-width="0.12">EA-SHM</text>
<circle cx="168.3" cy="546.3" r="3.6" fill="#ee1111"/>
<text x="0" y="0" font-size="8.48" text-anchor="start" fill="#231f20" transform="translate(177 549.7) scale(0.94 1)" stroke="#231f20" stroke-width="0.12">Centromere</text>
</svg>
</body></html>
